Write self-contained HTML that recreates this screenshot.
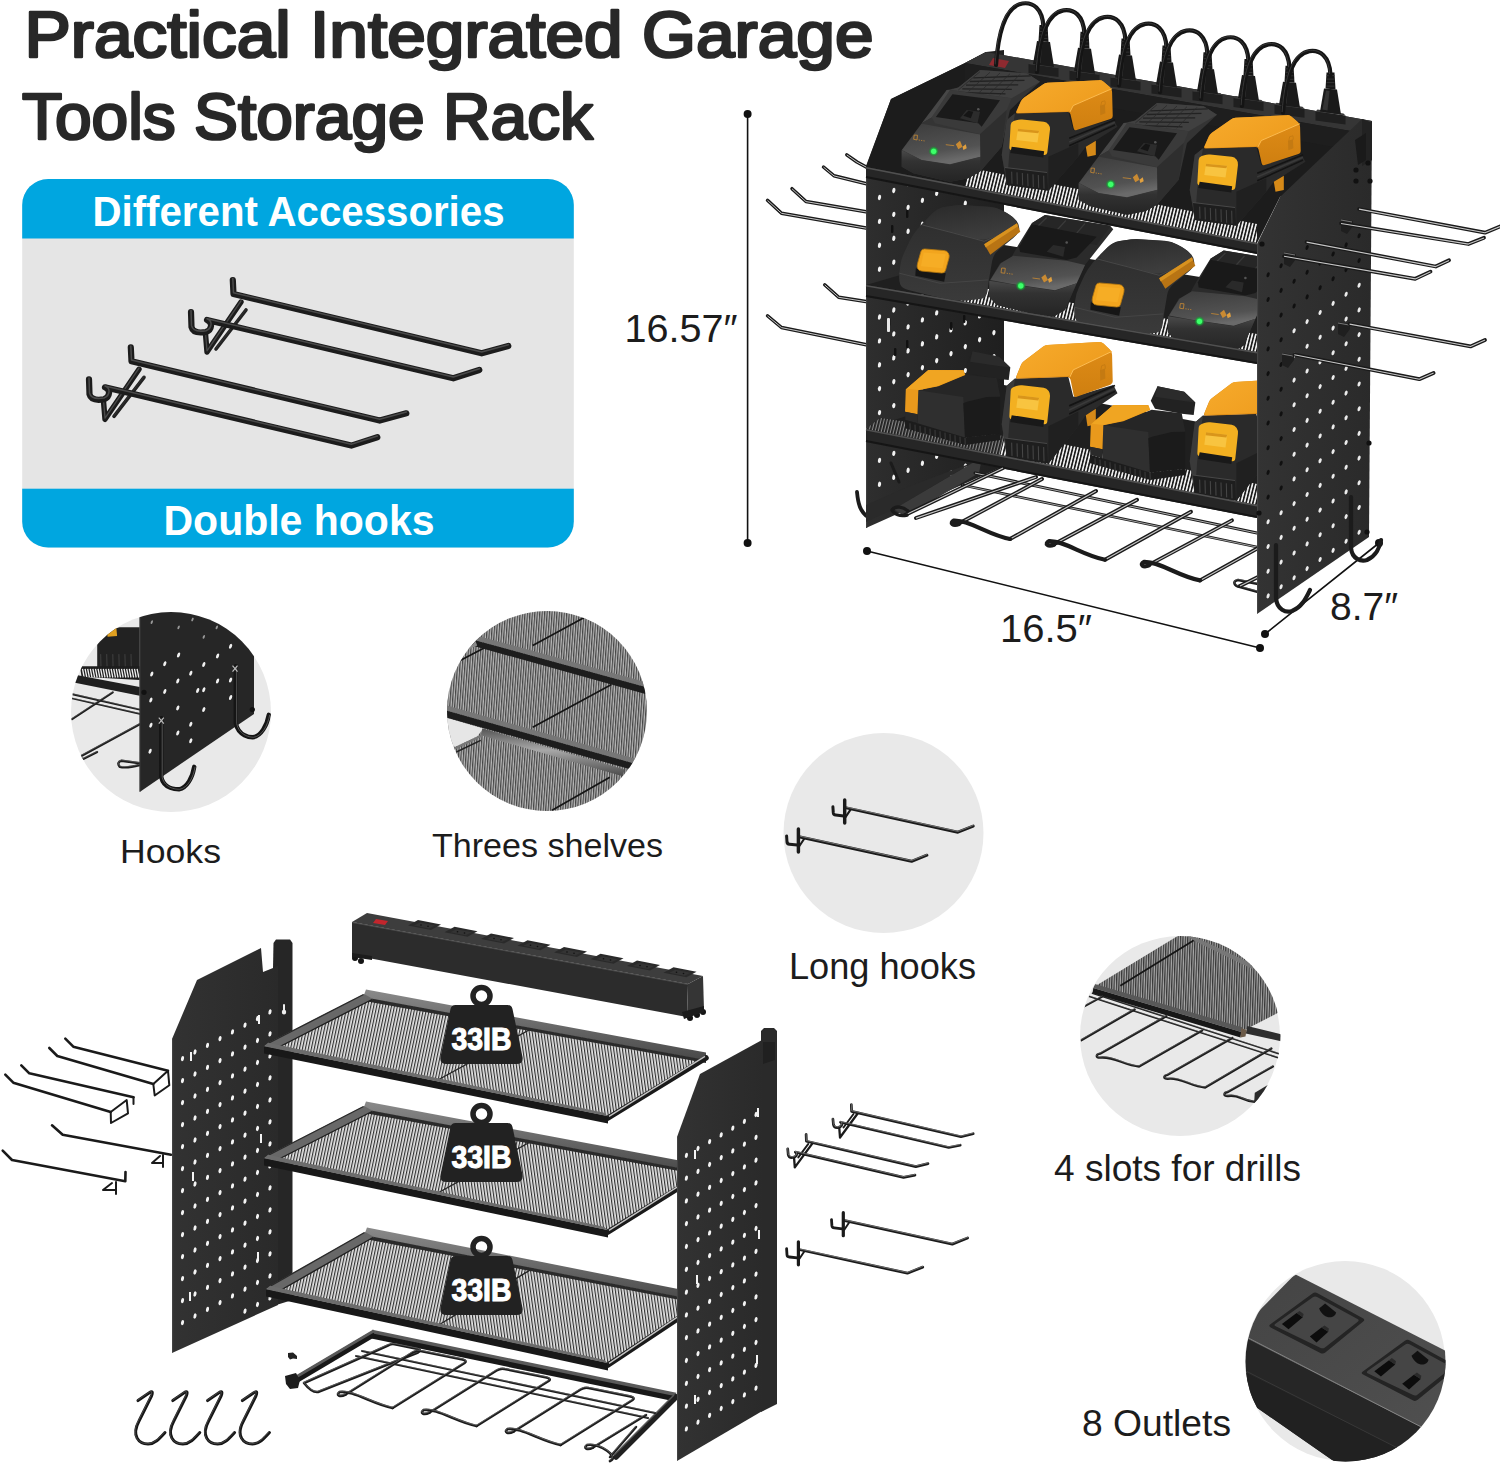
<!DOCTYPE html>
<html><head><meta charset="utf-8"><title>Practical Integrated Garage Tools Storage Rack</title>
<style>
html,body{margin:0;padding:0;background:#fff;}
body{width:1500px;height:1464px;overflow:hidden;font-family:"Liberation Sans",sans-serif;}
svg{display:block;font-family:"Liberation Sans",sans-serif;}
</style></head><body>
<svg width="1500" height="1464" viewBox="0 0 1500 1464">
<defs>

<clipPath id="c1"><circle cx="171" cy="712" r="100"/></clipPath>
<clipPath id="c2"><circle cx="547" cy="711" r="100"/></clipPath>
<clipPath id="c3"><circle cx="883.5" cy="833" r="100"/></clipPath>
<clipPath id="c4"><circle cx="1180.5" cy="1036" r="100"/></clipPath>
<clipPath id="c5"><circle cx="1345.5" cy="1361.5" r="100"/></clipPath>
<pattern id="meshC2" width="2.45" height="10" patternUnits="userSpaceOnUse" patternTransform="rotate(4)"><rect width="2.45" height="10" fill="#b8b8b8"/><rect width="1.2" height="10" fill="#454545"/></pattern>
<pattern id="meshC4" width="2.4" height="10" patternUnits="userSpaceOnUse" patternTransform="rotate(2)"><rect width="2.4" height="10" fill="#a8a8a8"/><rect width="1.25" height="10" fill="#383838"/></pattern>
<linearGradient id="gRod" x1="0" y1="0" x2="0" y2="1"><stop offset="0" stop-color="#555"/><stop offset="0.45" stop-color="#a8a8a8"/><stop offset="1" stop-color="#4a4a4a"/></linearGradient>
<linearGradient id="gStripTop" x1="0" y1="0" x2="1" y2="1"><stop offset="0" stop-color="#444"/><stop offset="1" stop-color="#505050"/></linearGradient>


<pattern id="meshE" width="2.9" height="10" patternUnits="userSpaceOnUse"><rect width="2.9" height="10" fill="#e4e4e4"/><rect width="1.15" height="10" fill="#303030"/></pattern>
<pattern id="meshEL" width="2.9" height="10" patternUnits="userSpaceOnUse" patternTransform="rotate(12)"><rect width="2.9" height="10" fill="#e4e4e4"/><rect width="1.15" height="10" fill="#303030"/></pattern>
<pattern id="meshER" width="2.9" height="10" patternUnits="userSpaceOnUse" patternTransform="rotate(-8)"><rect width="2.9" height="10" fill="#e4e4e4"/><rect width="1.15" height="10" fill="#303030"/></pattern>
<linearGradient id="gPE" x1="0" y1="0" x2="1" y2="0"><stop offset="0" stop-color="#323232"/><stop offset="1" stop-color="#2a2a2a"/></linearGradient>
<linearGradient id="gLip" x1="0" y1="0" x2="0" y2="1"><stop offset="0" stop-color="#8a8a8a"/><stop offset="1" stop-color="#484848"/></linearGradient>


<linearGradient id="gNose" x1="0" y1="0" x2="0.3" y2="1"><stop offset="0" stop-color="#3c3c3c"/><stop offset="0.75" stop-color="#525252"/><stop offset="1" stop-color="#6a6a6a"/></linearGradient>
<linearGradient id="gNoseF" x1="0" y1="0" x2="0" y2="1"><stop offset="0" stop-color="#4a4a4a"/><stop offset="0.35" stop-color="#323232"/><stop offset="1" stop-color="#242424"/></linearGradient>
<linearGradient id="gYelTop" x1="0" y1="0" x2="1" y2="0.6"><stop offset="0" stop-color="#f7ab2c"/><stop offset="1" stop-color="#ee9c1e"/></linearGradient>
<linearGradient id="gYelSide" x1="0" y1="0" x2="0" y2="1"><stop offset="0" stop-color="#e08d17"/><stop offset="1" stop-color="#cf7f10"/></linearGradient>
<linearGradient id="gBody" x1="0" y1="0" x2="0" y2="1"><stop offset="0" stop-color="#2c2c2c"/><stop offset="1" stop-color="#3a3a3a"/></linearGradient>
<linearGradient id="gDome" x1="0" y1="0" x2="0.4" y2="1"><stop offset="0" stop-color="#2a2a2a"/><stop offset="1" stop-color="#3d3d3d"/></linearGradient>
<radialGradient id="gLed"><stop offset="0" stop-color="#7dffa0"/><stop offset="0.45" stop-color="#1fe04a"/><stop offset="1" stop-color="#0a8a25" stop-opacity="0.2"/></radialGradient>


<pattern id="mesh" width="3.3" height="10" patternUnits="userSpaceOnUse" patternTransform="rotate(14)"><rect width="3.3" height="10" fill="#f4f4f4"/><rect width="1.7" height="10" fill="#1d1d1d"/></pattern>
<pattern id="meshD" width="3" height="10" patternUnits="userSpaceOnUse" patternTransform="rotate(14)"><rect width="3" height="10" fill="#8a8a8a"/><rect width="1.8" height="10" fill="#1d1d1d"/></pattern>
<linearGradient id="gPanelR" x1="0" y1="0" x2="1" y2="0"><stop offset="0" stop-color="#333"/><stop offset="1" stop-color="#2a2a2a"/></linearGradient>
<linearGradient id="gPanelL" x1="0" y1="0" x2="1" y2="0"><stop offset="0" stop-color="#2e2e2e"/><stop offset="1" stop-color="#1f1f1f"/></linearGradient>
<linearGradient id="gRail" x1="0" y1="0" x2="0" y2="1"><stop offset="0" stop-color="#4a4a4a"/><stop offset="0.25" stop-color="#2c2c2c"/><stop offset="1" stop-color="#1c1c1c"/></linearGradient>

</defs>
<rect width="1500" height="1464" fill="#ffffff"/>
<text x="24.5" y="57.2" font-size="65.5" font-weight="normal" fill="#282828" text-anchor="start" textLength="849" lengthAdjust="spacingAndGlyphs" stroke="#282828" stroke-width="2.7" stroke-linejoin="round">Practical Integrated Garage</text>
<text x="22" y="138.8" font-size="65.5" font-weight="normal" fill="#282828" text-anchor="start" textLength="571" lengthAdjust="spacingAndGlyphs" stroke="#282828" stroke-width="2.7" stroke-linejoin="round">Tools Storage Rack</text>
<clipPath id="boxclip"><rect x="22.2" y="179" width="551.6" height="368.6" rx="26" ry="26"/></clipPath>
<g clip-path="url(#boxclip)">
<rect x="22" y="178" width="552" height="370" fill="#e5e5e5"/>
<rect x="22" y="178" width="552" height="60.5" fill="#00a6e0"/>
<rect x="22" y="488.7" width="552" height="60" fill="#00a6e0"/>
</g>
<text x="92.5" y="226.2" font-size="42.5" font-weight="bold" fill="#ffffff" text-anchor="start" textLength="412" lengthAdjust="spacingAndGlyphs" >Different Accessories</text>
<text x="163.5" y="535.3" font-size="43" font-weight="bold" fill="#ffffff" text-anchor="start" textLength="271" lengthAdjust="spacingAndGlyphs" >Double hooks</text>
<circle cx="171" cy="712" r="100" fill="#e9e9e9"/>
<circle cx="547" cy="711" r="100" fill="#e9e9e9"/>
<circle cx="883.5" cy="833" r="100" fill="#e9e9e9"/>
<circle cx="1180" cy="1036" r="100" fill="#e9e9e9"/>
<circle cx="1345" cy="1361" r="100" fill="#e9e9e9"/>
<text x="120" y="863" font-size="33" font-weight="normal" fill="#1c1c1c" text-anchor="start" textLength="101" lengthAdjust="spacingAndGlyphs" >Hooks</text>
<text x="432" y="857" font-size="34" font-weight="normal" fill="#1c1c1c" text-anchor="start" textLength="231" lengthAdjust="spacingAndGlyphs" >Threes shelves</text>
<text x="789" y="979" font-size="36" font-weight="normal" fill="#1c1c1c" text-anchor="start" textLength="187" lengthAdjust="spacingAndGlyphs" >Long hooks</text>
<text x="1054" y="1181" font-size="36" font-weight="normal" fill="#1c1c1c" text-anchor="start" textLength="247" lengthAdjust="spacingAndGlyphs" >4 slots for drills</text>
<text x="1082" y="1436" font-size="36" font-weight="normal" fill="#1c1c1c" text-anchor="start" textLength="149" lengthAdjust="spacingAndGlyphs" >8 Outlets</text>
<line x1="747.6" y1="114" x2="747.6" y2="543" stroke="#111" stroke-width="1.6" stroke-linecap="round" />
<circle cx="747.6" cy="114" r="4" fill="#111"/><circle cx="747.6" cy="543" r="4" fill="#111"/>
<line x1="867" y1="551" x2="1260" y2="648" stroke="#111" stroke-width="1.6" stroke-linecap="round" />
<circle cx="867" cy="551" r="4" fill="#111"/><circle cx="1260" cy="648" r="4" fill="#111"/>
<line x1="1265" y1="634" x2="1379" y2="543" stroke="#111" stroke-width="1.6" stroke-linecap="round" />
<circle cx="1265" cy="634" r="4" fill="#111"/><circle cx="1379" cy="543" r="4" fill="#111"/>
<text x="624.5" y="342.3" font-size="38" font-weight="normal" fill="#1c1c1c" text-anchor="start" textLength="113" lengthAdjust="spacingAndGlyphs" >16.57″</text>
<text x="1000" y="642" font-size="38" font-weight="normal" fill="#1c1c1c" text-anchor="start" textLength="92" lengthAdjust="spacingAndGlyphs" >16.5″</text>
<text x="1330" y="620" font-size="38" font-weight="normal" fill="#1c1c1c" text-anchor="start" textLength="68" lengthAdjust="spacingAndGlyphs" >8.7″</text>
<g id="sec_20rack"><path d="M867.5 167.7 L857 162 L846.8 154.8" stroke="#1a1a1a" stroke-width="3.45" fill="none" stroke-linecap="round" stroke-linejoin="round"/><path d="M867.5 167.7 L857 162 L846.8 154.8" stroke="#c6c6c6" stroke-width="1.00" fill="none" stroke-linecap="butt" stroke-linejoin="round" transform="translate(0,0.1)"/><path d="M867.5 184 L834 175.8 L823.5 167" stroke="#1a1a1a" stroke-width="3.45" fill="none" stroke-linecap="round" stroke-linejoin="round"/><path d="M867.5 184 L834 175.8 L823.5 167" stroke="#c6c6c6" stroke-width="1.00" fill="none" stroke-linecap="butt" stroke-linejoin="round" transform="translate(0,0.1)"/><path d="M867.5 212 L806 201.5 L792 188.7" stroke="#1a1a1a" stroke-width="3.45" fill="none" stroke-linecap="round" stroke-linejoin="round"/><path d="M867.5 212 L806 201.5 L792 188.7" stroke="#c6c6c6" stroke-width="1.00" fill="none" stroke-linecap="butt" stroke-linejoin="round" transform="translate(0,0.1)"/><path d="M867.5 228.3 L781.5 213.2 L767.5 200.3" stroke="#1a1a1a" stroke-width="3.45" fill="none" stroke-linecap="round" stroke-linejoin="round"/><path d="M867.5 228.3 L781.5 213.2 L767.5 200.3" stroke="#c6c6c6" stroke-width="1.00" fill="none" stroke-linecap="butt" stroke-linejoin="round" transform="translate(0,0.1)"/><path d="M867.5 301.8 L838.7 297.2 L824.7 284.8" stroke="#1a1a1a" stroke-width="3.45" fill="none" stroke-linecap="round" stroke-linejoin="round"/><path d="M867.5 301.8 L838.7 297.2 L824.7 284.8" stroke="#c6c6c6" stroke-width="1.00" fill="none" stroke-linecap="butt" stroke-linejoin="round" transform="translate(0,0.1)"/><path d="M867.5 345 L781.5 327.5 L767.5 315.8" stroke="#1a1a1a" stroke-width="3.45" fill="none" stroke-linecap="round" stroke-linejoin="round"/><path d="M867.5 345 L781.5 327.5 L767.5 315.8" stroke="#c6c6c6" stroke-width="1.00" fill="none" stroke-linecap="butt" stroke-linejoin="round" transform="translate(0,0.1)"/><polygon points="866,166 891,99 965,63 986,52 1004,50 1004,466 866,528" fill="url(#gPanelL)" /><line x1="866.6" y1="166" x2="866.6" y2="528" stroke="#3d3d3d" stroke-width="1.2" stroke-linecap="butt" /><ellipse cx="879.5" cy="508.2" rx="1.6" ry="2.7" fill="#f2f2f2" transform="rotate(12 879.5 508.2)"/><ellipse cx="879.5" cy="484.3" rx="1.6" ry="2.7" fill="#f2f2f2" transform="rotate(12 879.5 484.3)"/><ellipse cx="893.8" cy="501.2" rx="1.6" ry="2.7" fill="#f2f2f2" transform="rotate(12 893.8 501.2)"/><ellipse cx="879.5" cy="460.4" rx="1.6" ry="2.7" fill="#f2f2f2" transform="rotate(12 879.5 460.4)"/><ellipse cx="893.8" cy="477.3" rx="1.6" ry="2.7" fill="#f2f2f2" transform="rotate(12 893.8 477.3)"/><ellipse cx="908.1" cy="494.2" rx="1.6" ry="2.7" fill="#f2f2f2" transform="rotate(12 908.1 494.2)"/><ellipse cx="879.5" cy="436.5" rx="1.6" ry="2.7" fill="#f2f2f2" transform="rotate(12 879.5 436.5)"/><ellipse cx="893.8" cy="453.4" rx="1.6" ry="2.7" fill="#f2f2f2" transform="rotate(12 893.8 453.4)"/><ellipse cx="908.1" cy="470.3" rx="1.6" ry="2.7" fill="#f2f2f2" transform="rotate(12 908.1 470.3)"/><ellipse cx="922.4" cy="487.2" rx="1.6" ry="2.7" fill="#f2f2f2" transform="rotate(12 922.4 487.2)"/><ellipse cx="879.5" cy="412.6" rx="1.6" ry="2.7" fill="#f2f2f2" transform="rotate(12 879.5 412.6)"/><ellipse cx="893.8" cy="429.5" rx="1.6" ry="2.7" fill="#f2f2f2" transform="rotate(12 893.8 429.5)"/><ellipse cx="908.1" cy="446.4" rx="1.6" ry="2.7" fill="#f2f2f2" transform="rotate(12 908.1 446.4)"/><ellipse cx="922.4" cy="463.3" rx="1.6" ry="2.7" fill="#f2f2f2" transform="rotate(12 922.4 463.3)"/><ellipse cx="936.7" cy="480.2" rx="1.6" ry="2.7" fill="#f2f2f2" transform="rotate(12 936.7 480.2)"/><ellipse cx="879.5" cy="388.7" rx="1.6" ry="2.7" fill="#f2f2f2" transform="rotate(12 879.5 388.7)"/><ellipse cx="893.8" cy="405.6" rx="1.6" ry="2.7" fill="#f2f2f2" transform="rotate(12 893.8 405.6)"/><ellipse cx="908.1" cy="422.5" rx="1.6" ry="2.7" fill="#f2f2f2" transform="rotate(12 908.1 422.5)"/><ellipse cx="922.4" cy="439.4" rx="1.6" ry="2.7" fill="#f2f2f2" transform="rotate(12 922.4 439.4)"/><ellipse cx="936.7" cy="456.3" rx="1.6" ry="2.7" fill="#f2f2f2" transform="rotate(12 936.7 456.3)"/><ellipse cx="951.0" cy="473.2" rx="1.6" ry="2.7" fill="#f2f2f2" transform="rotate(12 951.0 473.2)"/><ellipse cx="879.5" cy="364.8" rx="1.6" ry="2.7" fill="#f2f2f2" transform="rotate(12 879.5 364.8)"/><ellipse cx="893.8" cy="381.7" rx="1.6" ry="2.7" fill="#f2f2f2" transform="rotate(12 893.8 381.7)"/><ellipse cx="908.1" cy="398.6" rx="1.6" ry="2.7" fill="#f2f2f2" transform="rotate(12 908.1 398.6)"/><ellipse cx="922.4" cy="415.5" rx="1.6" ry="2.7" fill="#f2f2f2" transform="rotate(12 922.4 415.5)"/><ellipse cx="936.7" cy="432.4" rx="1.6" ry="2.7" fill="#f2f2f2" transform="rotate(12 936.7 432.4)"/><ellipse cx="951.0" cy="449.3" rx="1.6" ry="2.7" fill="#f2f2f2" transform="rotate(12 951.0 449.3)"/><ellipse cx="965.3" cy="466.2" rx="1.6" ry="2.7" fill="#f2f2f2" transform="rotate(12 965.3 466.2)"/><ellipse cx="879.5" cy="340.9" rx="1.6" ry="2.7" fill="#f2f2f2" transform="rotate(12 879.5 340.9)"/><ellipse cx="893.8" cy="357.8" rx="1.6" ry="2.7" fill="#f2f2f2" transform="rotate(12 893.8 357.8)"/><ellipse cx="908.1" cy="374.7" rx="1.6" ry="2.7" fill="#f2f2f2" transform="rotate(12 908.1 374.7)"/><ellipse cx="922.4" cy="391.6" rx="1.6" ry="2.7" fill="#f2f2f2" transform="rotate(12 922.4 391.6)"/><ellipse cx="936.7" cy="408.5" rx="1.6" ry="2.7" fill="#f2f2f2" transform="rotate(12 936.7 408.5)"/><ellipse cx="951.0" cy="425.4" rx="1.6" ry="2.7" fill="#f2f2f2" transform="rotate(12 951.0 425.4)"/><ellipse cx="965.3" cy="442.3" rx="1.6" ry="2.7" fill="#f2f2f2" transform="rotate(12 965.3 442.3)"/><ellipse cx="979.6" cy="459.2" rx="1.6" ry="2.7" fill="#f2f2f2" transform="rotate(12 979.6 459.2)"/><ellipse cx="879.5" cy="317.0" rx="1.6" ry="2.7" fill="#f2f2f2" transform="rotate(12 879.5 317.0)"/><ellipse cx="893.8" cy="333.9" rx="1.6" ry="2.7" fill="#f2f2f2" transform="rotate(12 893.8 333.9)"/><ellipse cx="908.1" cy="350.8" rx="1.6" ry="2.7" fill="#f2f2f2" transform="rotate(12 908.1 350.8)"/><ellipse cx="922.4" cy="367.7" rx="1.6" ry="2.7" fill="#f2f2f2" transform="rotate(12 922.4 367.7)"/><ellipse cx="936.7" cy="384.6" rx="1.6" ry="2.7" fill="#f2f2f2" transform="rotate(12 936.7 384.6)"/><ellipse cx="951.0" cy="401.5" rx="1.6" ry="2.7" fill="#f2f2f2" transform="rotate(12 951.0 401.5)"/><ellipse cx="965.3" cy="418.4" rx="1.6" ry="2.7" fill="#f2f2f2" transform="rotate(12 965.3 418.4)"/><ellipse cx="979.6" cy="435.3" rx="1.6" ry="2.7" fill="#f2f2f2" transform="rotate(12 979.6 435.3)"/><ellipse cx="993.9" cy="452.2" rx="1.6" ry="2.7" fill="#f2f2f2" transform="rotate(12 993.9 452.2)"/><ellipse cx="879.5" cy="293.1" rx="1.6" ry="2.7" fill="#f2f2f2" transform="rotate(12 879.5 293.1)"/><ellipse cx="893.8" cy="310.0" rx="1.6" ry="2.7" fill="#f2f2f2" transform="rotate(12 893.8 310.0)"/><ellipse cx="908.1" cy="326.9" rx="1.6" ry="2.7" fill="#f2f2f2" transform="rotate(12 908.1 326.9)"/><ellipse cx="922.4" cy="343.8" rx="1.6" ry="2.7" fill="#f2f2f2" transform="rotate(12 922.4 343.8)"/><ellipse cx="936.7" cy="360.7" rx="1.6" ry="2.7" fill="#f2f2f2" transform="rotate(12 936.7 360.7)"/><ellipse cx="951.0" cy="377.6" rx="1.6" ry="2.7" fill="#f2f2f2" transform="rotate(12 951.0 377.6)"/><ellipse cx="965.3" cy="394.5" rx="1.6" ry="2.7" fill="#f2f2f2" transform="rotate(12 965.3 394.5)"/><ellipse cx="979.6" cy="411.4" rx="1.6" ry="2.7" fill="#f2f2f2" transform="rotate(12 979.6 411.4)"/><ellipse cx="993.9" cy="428.3" rx="1.6" ry="2.7" fill="#f2f2f2" transform="rotate(12 993.9 428.3)"/><ellipse cx="879.5" cy="269.2" rx="1.6" ry="2.7" fill="#f2f2f2" transform="rotate(12 879.5 269.2)"/><ellipse cx="893.8" cy="286.1" rx="1.6" ry="2.7" fill="#f2f2f2" transform="rotate(12 893.8 286.1)"/><ellipse cx="908.1" cy="303.0" rx="1.6" ry="2.7" fill="#f2f2f2" transform="rotate(12 908.1 303.0)"/><ellipse cx="922.4" cy="319.9" rx="1.6" ry="2.7" fill="#f2f2f2" transform="rotate(12 922.4 319.9)"/><ellipse cx="936.7" cy="336.8" rx="1.6" ry="2.7" fill="#f2f2f2" transform="rotate(12 936.7 336.8)"/><ellipse cx="951.0" cy="353.7" rx="1.6" ry="2.7" fill="#f2f2f2" transform="rotate(12 951.0 353.7)"/><ellipse cx="965.3" cy="370.6" rx="1.6" ry="2.7" fill="#f2f2f2" transform="rotate(12 965.3 370.6)"/><ellipse cx="979.6" cy="387.5" rx="1.6" ry="2.7" fill="#f2f2f2" transform="rotate(12 979.6 387.5)"/><ellipse cx="993.9" cy="404.4" rx="1.6" ry="2.7" fill="#f2f2f2" transform="rotate(12 993.9 404.4)"/><ellipse cx="879.5" cy="245.3" rx="1.6" ry="2.7" fill="#f2f2f2" transform="rotate(12 879.5 245.3)"/><ellipse cx="893.8" cy="262.2" rx="1.6" ry="2.7" fill="#f2f2f2" transform="rotate(12 893.8 262.2)"/><ellipse cx="908.1" cy="279.1" rx="1.6" ry="2.7" fill="#f2f2f2" transform="rotate(12 908.1 279.1)"/><ellipse cx="922.4" cy="296.0" rx="1.6" ry="2.7" fill="#f2f2f2" transform="rotate(12 922.4 296.0)"/><ellipse cx="936.7" cy="312.9" rx="1.6" ry="2.7" fill="#f2f2f2" transform="rotate(12 936.7 312.9)"/><ellipse cx="951.0" cy="329.8" rx="1.6" ry="2.7" fill="#f2f2f2" transform="rotate(12 951.0 329.8)"/><ellipse cx="965.3" cy="346.7" rx="1.6" ry="2.7" fill="#f2f2f2" transform="rotate(12 965.3 346.7)"/><ellipse cx="979.6" cy="363.6" rx="1.6" ry="2.7" fill="#f2f2f2" transform="rotate(12 979.6 363.6)"/><ellipse cx="993.9" cy="380.5" rx="1.6" ry="2.7" fill="#f2f2f2" transform="rotate(12 993.9 380.5)"/><ellipse cx="879.5" cy="221.4" rx="1.6" ry="2.7" fill="#f2f2f2" transform="rotate(12 879.5 221.4)"/><ellipse cx="893.8" cy="238.3" rx="1.6" ry="2.7" fill="#f2f2f2" transform="rotate(12 893.8 238.3)"/><ellipse cx="908.1" cy="255.2" rx="1.6" ry="2.7" fill="#f2f2f2" transform="rotate(12 908.1 255.2)"/><ellipse cx="922.4" cy="272.1" rx="1.6" ry="2.7" fill="#f2f2f2" transform="rotate(12 922.4 272.1)"/><ellipse cx="936.7" cy="289.0" rx="1.6" ry="2.7" fill="#f2f2f2" transform="rotate(12 936.7 289.0)"/><ellipse cx="951.0" cy="305.9" rx="1.6" ry="2.7" fill="#f2f2f2" transform="rotate(12 951.0 305.9)"/><ellipse cx="965.3" cy="322.8" rx="1.6" ry="2.7" fill="#f2f2f2" transform="rotate(12 965.3 322.8)"/><ellipse cx="979.6" cy="339.7" rx="1.6" ry="2.7" fill="#f2f2f2" transform="rotate(12 979.6 339.7)"/><ellipse cx="993.9" cy="356.6" rx="1.6" ry="2.7" fill="#f2f2f2" transform="rotate(12 993.9 356.6)"/><ellipse cx="879.5" cy="197.5" rx="1.6" ry="2.7" fill="#f2f2f2" transform="rotate(12 879.5 197.5)"/><ellipse cx="893.8" cy="214.4" rx="1.6" ry="2.7" fill="#f2f2f2" transform="rotate(12 893.8 214.4)"/><ellipse cx="908.1" cy="231.3" rx="1.6" ry="2.7" fill="#f2f2f2" transform="rotate(12 908.1 231.3)"/><ellipse cx="922.4" cy="248.2" rx="1.6" ry="2.7" fill="#f2f2f2" transform="rotate(12 922.4 248.2)"/><ellipse cx="936.7" cy="265.1" rx="1.6" ry="2.7" fill="#f2f2f2" transform="rotate(12 936.7 265.1)"/><ellipse cx="951.0" cy="282.0" rx="1.6" ry="2.7" fill="#f2f2f2" transform="rotate(12 951.0 282.0)"/><ellipse cx="965.3" cy="298.9" rx="1.6" ry="2.7" fill="#f2f2f2" transform="rotate(12 965.3 298.9)"/><ellipse cx="979.6" cy="315.8" rx="1.6" ry="2.7" fill="#f2f2f2" transform="rotate(12 979.6 315.8)"/><ellipse cx="993.9" cy="332.7" rx="1.6" ry="2.7" fill="#f2f2f2" transform="rotate(12 993.9 332.7)"/><ellipse cx="893.8" cy="190.5" rx="1.6" ry="2.7" fill="#f2f2f2" transform="rotate(12 893.8 190.5)"/><ellipse cx="908.1" cy="207.4" rx="1.6" ry="2.7" fill="#f2f2f2" transform="rotate(12 908.1 207.4)"/><ellipse cx="922.4" cy="224.3" rx="1.6" ry="2.7" fill="#f2f2f2" transform="rotate(12 922.4 224.3)"/><ellipse cx="936.7" cy="241.2" rx="1.6" ry="2.7" fill="#f2f2f2" transform="rotate(12 936.7 241.2)"/><ellipse cx="951.0" cy="258.1" rx="1.6" ry="2.7" fill="#f2f2f2" transform="rotate(12 951.0 258.1)"/><ellipse cx="965.3" cy="275.0" rx="1.6" ry="2.7" fill="#f2f2f2" transform="rotate(12 965.3 275.0)"/><ellipse cx="979.6" cy="291.9" rx="1.6" ry="2.7" fill="#f2f2f2" transform="rotate(12 979.6 291.9)"/><ellipse cx="993.9" cy="308.8" rx="1.6" ry="2.7" fill="#f2f2f2" transform="rotate(12 993.9 308.8)"/><ellipse cx="908.1" cy="183.5" rx="1.6" ry="2.7" fill="#f2f2f2" transform="rotate(12 908.1 183.5)"/><ellipse cx="922.4" cy="200.4" rx="1.6" ry="2.7" fill="#f2f2f2" transform="rotate(12 922.4 200.4)"/><ellipse cx="936.7" cy="217.3" rx="1.6" ry="2.7" fill="#f2f2f2" transform="rotate(12 936.7 217.3)"/><ellipse cx="951.0" cy="234.2" rx="1.6" ry="2.7" fill="#f2f2f2" transform="rotate(12 951.0 234.2)"/><ellipse cx="965.3" cy="251.1" rx="1.6" ry="2.7" fill="#f2f2f2" transform="rotate(12 965.3 251.1)"/><ellipse cx="979.6" cy="268.0" rx="1.6" ry="2.7" fill="#f2f2f2" transform="rotate(12 979.6 268.0)"/><ellipse cx="993.9" cy="284.9" rx="1.6" ry="2.7" fill="#f2f2f2" transform="rotate(12 993.9 284.9)"/><ellipse cx="936.7" cy="193.4" rx="1.6" ry="2.7" fill="#f2f2f2" transform="rotate(12 936.7 193.4)"/><ellipse cx="951.0" cy="210.3" rx="1.6" ry="2.7" fill="#f2f2f2" transform="rotate(12 951.0 210.3)"/><ellipse cx="965.3" cy="227.2" rx="1.6" ry="2.7" fill="#f2f2f2" transform="rotate(12 965.3 227.2)"/><ellipse cx="979.6" cy="244.1" rx="1.6" ry="2.7" fill="#f2f2f2" transform="rotate(12 979.6 244.1)"/><ellipse cx="993.9" cy="261.0" rx="1.6" ry="2.7" fill="#f2f2f2" transform="rotate(12 993.9 261.0)"/><ellipse cx="951.0" cy="186.4" rx="1.6" ry="2.7" fill="#f2f2f2" transform="rotate(12 951.0 186.4)"/><ellipse cx="965.3" cy="203.3" rx="1.6" ry="2.7" fill="#f2f2f2" transform="rotate(12 965.3 203.3)"/><ellipse cx="979.6" cy="220.2" rx="1.6" ry="2.7" fill="#f2f2f2" transform="rotate(12 979.6 220.2)"/><ellipse cx="993.9" cy="237.1" rx="1.6" ry="2.7" fill="#f2f2f2" transform="rotate(12 993.9 237.1)"/><ellipse cx="965.3" cy="179.4" rx="1.6" ry="2.7" fill="#f2f2f2" transform="rotate(12 965.3 179.4)"/><ellipse cx="979.6" cy="196.3" rx="1.6" ry="2.7" fill="#f2f2f2" transform="rotate(12 979.6 196.3)"/><ellipse cx="993.9" cy="213.2" rx="1.6" ry="2.7" fill="#f2f2f2" transform="rotate(12 993.9 213.2)"/><ellipse cx="993.9" cy="189.3" rx="1.6" ry="2.7" fill="#f2f2f2" transform="rotate(12 993.9 189.3)"/><rect x="888" y="318" width="2.4" height="8" rx="1" fill="#111"/><rect x="894" y="348" width="2.4" height="8" rx="1" fill="#111"/><rect x="906" y="340" width="2.4" height="8" rx="1" fill="#111"/><rect x="950" y="322" width="2.4" height="8" rx="1" fill="#111"/><rect x="963" y="315" width="2.4" height="8" rx="1" fill="#111"/><rect x="891" y="225" width="2.4" height="8" rx="1" fill="#111"/><rect x="906" y="210" width="2.4" height="8" rx="1" fill="#111"/><rect x="887" y="318" width="3" height="14" rx="1" fill="#e8e8e8"/><path d="M857 492 C858 503 860 512 868 517" stroke="#1b1b1b" stroke-width="3.8" fill="none" stroke-linecap="round" stroke-linejoin="round"/><path d="M891 463 L899 482" stroke="#1b1b1b" stroke-width="3.0" fill="none" stroke-linecap="round" stroke-linejoin="round"/><polygon points="894,509 973,462.5 981,463 979,473 905,517" fill="#3b3b3b" /><polygon points="866,505 905,488 973,462.5 894,509 866,522" fill="#2a2a2a" /><polygon points="891,99 965,63 986,52 1372,121 1372,160 1280,197 1257,243 866,167" fill="#1c1c1c" /><polygon points="965,63 986,52 1372,121 1362,133" fill="#353535" /><polygon points="965,63 1362,133 1362,152 965,82" fill="#1e1e1e" /><polygon points="993,58 1009,61 1005,68 989,65" fill="#8e2a30" /><polygon points="1028.5,64.0 1058.5,68.0 1058.5,77.0 1028.5,73.0" fill="#1f1f1f" /><polygon points="1028.5,64.0 1058.5,68.0 1056.5,66.0 1030.5,62.0" fill="#3a3a3a" /><polygon points="1037.0,41.0 1050.0,42.0 1054.0,67.0 1033.0,64.0" fill="#1a1a1a" /><polygon points="1039.0,43.0 1042.5,43.5 1040.5,63.0 1035.5,62.0" fill="#333" /><polygon points="1039.5,25.0 1047.5,25.0 1048.5,42.0 1038.5,41.0" fill="#161616" /><line x1="1039.5" y1="28.0" x2="1047.5" y2="28.0" stroke="#3a3a3a" stroke-width="0.8" stroke-linecap="butt" /><line x1="1039.5" y1="31.5" x2="1047.5" y2="31.5" stroke="#3a3a3a" stroke-width="0.8" stroke-linecap="butt" /><line x1="1039.5" y1="35.0" x2="1047.5" y2="35.0" stroke="#3a3a3a" stroke-width="0.8" stroke-linecap="butt" /><line x1="1039.5" y1="38.5" x2="1047.5" y2="38.5" stroke="#3a3a3a" stroke-width="0.8" stroke-linecap="butt" /><path d="M1043.5 27.0 C1042.5 8.0 1032.5 2.0 1022.5 3.5 C1006.5 6.0 998.5 29.0 996.0 65.0" stroke="#141414" stroke-width="4.2" fill="none" stroke-linecap="round"/><path d="M1043.5 27.0 C1042.5 8.0 1032.5 2.0 1022.5 3.5 C1006.5 6.0 998.5 29.0 996.0 65.0" stroke="#3c3c3c" stroke-width="0.9" fill="none" transform="translate(-0.9,-0.6)"/><polygon points="1069.5,70.8 1099.5,74.8 1099.5,83.8 1069.5,79.8" fill="#1f1f1f" /><polygon points="1069.5,70.8 1099.5,74.8 1097.5,72.8 1071.5,68.8" fill="#3a3a3a" /><polygon points="1078.0,47.8 1091.0,48.8 1095.0,73.8 1074.0,70.8" fill="#1a1a1a" /><polygon points="1080.0,49.8 1083.5,50.3 1081.5,69.8 1076.5,68.8" fill="#333" /><polygon points="1080.5,31.799999999999997 1088.5,31.799999999999997 1089.5,48.8 1079.5,47.8" fill="#161616" /><line x1="1080.5" y1="34.8" x2="1088.5" y2="34.8" stroke="#3a3a3a" stroke-width="0.8" stroke-linecap="butt" /><line x1="1080.5" y1="38.3" x2="1088.5" y2="38.3" stroke="#3a3a3a" stroke-width="0.8" stroke-linecap="butt" /><line x1="1080.5" y1="41.8" x2="1088.5" y2="41.8" stroke="#3a3a3a" stroke-width="0.8" stroke-linecap="butt" /><line x1="1080.5" y1="45.3" x2="1088.5" y2="45.3" stroke="#3a3a3a" stroke-width="0.8" stroke-linecap="butt" /><path d="M1084.5 33.8 C1083.5 14.799999999999997 1073.5 8.799999999999997 1063.5 10.299999999999997 C1047.5 12.799999999999997 1039.5 35.8 1037.0 71.8" stroke="#141414" stroke-width="4.2" fill="none" stroke-linecap="round"/><path d="M1084.5 33.8 C1083.5 14.799999999999997 1073.5 8.799999999999997 1063.5 10.299999999999997 C1047.5 12.799999999999997 1039.5 35.8 1037.0 71.8" stroke="#3c3c3c" stroke-width="0.9" fill="none" transform="translate(-0.9,-0.6)"/><polygon points="1110.5,77.6 1140.5,81.6 1140.5,90.6 1110.5,86.6" fill="#1f1f1f" /><polygon points="1110.5,77.6 1140.5,81.6 1138.5,79.6 1112.5,75.6" fill="#3a3a3a" /><polygon points="1119.0,54.6 1132.0,55.6 1136.0,80.6 1115.0,77.6" fill="#1a1a1a" /><polygon points="1121.0,56.6 1124.5,57.1 1122.5,76.6 1117.5,75.6" fill="#333" /><polygon points="1121.5,38.6 1129.5,38.6 1130.5,55.6 1120.5,54.6" fill="#161616" /><line x1="1121.5" y1="41.6" x2="1129.5" y2="41.6" stroke="#3a3a3a" stroke-width="0.8" stroke-linecap="butt" /><line x1="1121.5" y1="45.1" x2="1129.5" y2="45.1" stroke="#3a3a3a" stroke-width="0.8" stroke-linecap="butt" /><line x1="1121.5" y1="48.6" x2="1129.5" y2="48.6" stroke="#3a3a3a" stroke-width="0.8" stroke-linecap="butt" /><line x1="1121.5" y1="52.1" x2="1129.5" y2="52.1" stroke="#3a3a3a" stroke-width="0.8" stroke-linecap="butt" /><path d="M1125.5 40.6 C1124.5 21.6 1114.5 15.600000000000001 1104.5 17.1 C1088.5 19.6 1080.5 42.6 1078.0 78.6" stroke="#141414" stroke-width="4.2" fill="none" stroke-linecap="round"/><path d="M1125.5 40.6 C1124.5 21.6 1114.5 15.600000000000001 1104.5 17.1 C1088.5 19.6 1080.5 42.6 1078.0 78.6" stroke="#3c3c3c" stroke-width="0.9" fill="none" transform="translate(-0.9,-0.6)"/><polygon points="1151.5,84.4 1181.5,88.4 1181.5,97.4 1151.5,93.4" fill="#1f1f1f" /><polygon points="1151.5,84.4 1181.5,88.4 1179.5,86.4 1153.5,82.4" fill="#3a3a3a" /><polygon points="1160.0,61.4 1173.0,62.4 1177.0,87.4 1156.0,84.4" fill="#1a1a1a" /><polygon points="1162.0,63.4 1165.5,63.9 1163.5,83.4 1158.5,82.4" fill="#333" /><polygon points="1162.5,45.4 1170.5,45.4 1171.5,62.4 1161.5,61.4" fill="#161616" /><line x1="1162.5" y1="48.4" x2="1170.5" y2="48.4" stroke="#3a3a3a" stroke-width="0.8" stroke-linecap="butt" /><line x1="1162.5" y1="51.9" x2="1170.5" y2="51.9" stroke="#3a3a3a" stroke-width="0.8" stroke-linecap="butt" /><line x1="1162.5" y1="55.4" x2="1170.5" y2="55.4" stroke="#3a3a3a" stroke-width="0.8" stroke-linecap="butt" /><line x1="1162.5" y1="58.9" x2="1170.5" y2="58.9" stroke="#3a3a3a" stroke-width="0.8" stroke-linecap="butt" /><path d="M1166.5 47.4 C1165.5 28.4 1155.5 22.4 1145.5 23.9 C1129.5 26.4 1121.5 49.4 1119.0 85.4" stroke="#141414" stroke-width="4.2" fill="none" stroke-linecap="round"/><path d="M1166.5 47.4 C1165.5 28.4 1155.5 22.4 1145.5 23.9 C1129.5 26.4 1121.5 49.4 1119.0 85.4" stroke="#3c3c3c" stroke-width="0.9" fill="none" transform="translate(-0.9,-0.6)"/><polygon points="1192.5,91.2 1222.5,95.2 1222.5,104.2 1192.5,100.2" fill="#1f1f1f" /><polygon points="1192.5,91.2 1222.5,95.2 1220.5,93.2 1194.5,89.2" fill="#3a3a3a" /><polygon points="1201.0,68.2 1214.0,69.2 1218.0,94.2 1197.0,91.2" fill="#1a1a1a" /><polygon points="1203.0,70.2 1206.5,70.7 1204.5,90.2 1199.5,89.2" fill="#333" /><polygon points="1203.5,52.2 1211.5,52.2 1212.5,69.2 1202.5,68.2" fill="#161616" /><line x1="1203.5" y1="55.2" x2="1211.5" y2="55.2" stroke="#3a3a3a" stroke-width="0.8" stroke-linecap="butt" /><line x1="1203.5" y1="58.7" x2="1211.5" y2="58.7" stroke="#3a3a3a" stroke-width="0.8" stroke-linecap="butt" /><line x1="1203.5" y1="62.2" x2="1211.5" y2="62.2" stroke="#3a3a3a" stroke-width="0.8" stroke-linecap="butt" /><line x1="1203.5" y1="65.7" x2="1211.5" y2="65.7" stroke="#3a3a3a" stroke-width="0.8" stroke-linecap="butt" /><path d="M1207.5 54.2 C1206.5 35.2 1196.5 29.200000000000003 1186.5 30.700000000000003 C1170.5 33.2 1162.5 56.2 1160.0 92.2" stroke="#141414" stroke-width="4.2" fill="none" stroke-linecap="round"/><path d="M1207.5 54.2 C1206.5 35.2 1196.5 29.200000000000003 1186.5 30.700000000000003 C1170.5 33.2 1162.5 56.2 1160.0 92.2" stroke="#3c3c3c" stroke-width="0.9" fill="none" transform="translate(-0.9,-0.6)"/><polygon points="1233.5,98.0 1263.5,102.0 1263.5,111.0 1233.5,107.0" fill="#1f1f1f" /><polygon points="1233.5,98.0 1263.5,102.0 1261.5,100.0 1235.5,96.0" fill="#3a3a3a" /><polygon points="1242.0,75.0 1255.0,76.0 1259.0,101.0 1238.0,98.0" fill="#1a1a1a" /><polygon points="1244.0,77.0 1247.5,77.5 1245.5,97.0 1240.5,96.0" fill="#333" /><polygon points="1244.5,59.0 1252.5,59.0 1253.5,76.0 1243.5,75.0" fill="#161616" /><line x1="1244.5" y1="62.0" x2="1252.5" y2="62.0" stroke="#3a3a3a" stroke-width="0.8" stroke-linecap="butt" /><line x1="1244.5" y1="65.5" x2="1252.5" y2="65.5" stroke="#3a3a3a" stroke-width="0.8" stroke-linecap="butt" /><line x1="1244.5" y1="69.0" x2="1252.5" y2="69.0" stroke="#3a3a3a" stroke-width="0.8" stroke-linecap="butt" /><line x1="1244.5" y1="72.5" x2="1252.5" y2="72.5" stroke="#3a3a3a" stroke-width="0.8" stroke-linecap="butt" /><path d="M1248.5 61.0 C1247.5 42.0 1237.5 36.0 1227.5 37.5 C1211.5 40.0 1203.5 63.0 1201.0 99.0" stroke="#141414" stroke-width="4.2" fill="none" stroke-linecap="round"/><path d="M1248.5 61.0 C1247.5 42.0 1237.5 36.0 1227.5 37.5 C1211.5 40.0 1203.5 63.0 1201.0 99.0" stroke="#3c3c3c" stroke-width="0.9" fill="none" transform="translate(-0.9,-0.6)"/><polygon points="1274.5,104.8 1304.5,108.8 1304.5,117.8 1274.5,113.8" fill="#1f1f1f" /><polygon points="1274.5,104.8 1304.5,108.8 1302.5,106.8 1276.5,102.8" fill="#3a3a3a" /><polygon points="1283.0,81.8 1296.0,82.8 1300.0,107.8 1279.0,104.8" fill="#1a1a1a" /><polygon points="1285.0,83.8 1288.5,84.3 1286.5,103.8 1281.5,102.8" fill="#333" /><polygon points="1285.5,65.8 1293.5,65.8 1294.5,82.8 1284.5,81.8" fill="#161616" /><line x1="1285.5" y1="68.8" x2="1293.5" y2="68.8" stroke="#3a3a3a" stroke-width="0.8" stroke-linecap="butt" /><line x1="1285.5" y1="72.3" x2="1293.5" y2="72.3" stroke="#3a3a3a" stroke-width="0.8" stroke-linecap="butt" /><line x1="1285.5" y1="75.8" x2="1293.5" y2="75.8" stroke="#3a3a3a" stroke-width="0.8" stroke-linecap="butt" /><line x1="1285.5" y1="79.3" x2="1293.5" y2="79.3" stroke="#3a3a3a" stroke-width="0.8" stroke-linecap="butt" /><path d="M1289.5 67.8 C1288.5 48.8 1278.5 42.8 1268.5 44.3 C1252.5 46.8 1244.5 69.8 1242.0 105.8" stroke="#141414" stroke-width="4.2" fill="none" stroke-linecap="round"/><path d="M1289.5 67.8 C1288.5 48.8 1278.5 42.8 1268.5 44.3 C1252.5 46.8 1244.5 69.8 1242.0 105.8" stroke="#3c3c3c" stroke-width="0.9" fill="none" transform="translate(-0.9,-0.6)"/><polygon points="1315.5,111.6 1345.5,115.6 1345.5,124.6 1315.5,120.6" fill="#1f1f1f" /><polygon points="1315.5,111.6 1345.5,115.6 1343.5,113.6 1317.5,109.6" fill="#3a3a3a" /><polygon points="1324.0,88.6 1337.0,89.6 1341.0,114.6 1320.0,111.6" fill="#1a1a1a" /><polygon points="1326.0,90.6 1329.5,91.1 1327.5,110.6 1322.5,109.6" fill="#333" /><polygon points="1326.5,72.6 1334.5,72.6 1335.5,89.6 1325.5,88.6" fill="#161616" /><line x1="1326.5" y1="75.6" x2="1334.5" y2="75.6" stroke="#3a3a3a" stroke-width="0.8" stroke-linecap="butt" /><line x1="1326.5" y1="79.1" x2="1334.5" y2="79.1" stroke="#3a3a3a" stroke-width="0.8" stroke-linecap="butt" /><line x1="1326.5" y1="82.6" x2="1334.5" y2="82.6" stroke="#3a3a3a" stroke-width="0.8" stroke-linecap="butt" /><line x1="1326.5" y1="86.1" x2="1334.5" y2="86.1" stroke="#3a3a3a" stroke-width="0.8" stroke-linecap="butt" /><path d="M1330.5 74.6 C1329.5 55.599999999999994 1319.5 49.599999999999994 1309.5 51.099999999999994 C1293.5 53.599999999999994 1285.5 76.6 1283.0 112.6" stroke="#141414" stroke-width="4.2" fill="none" stroke-linecap="round"/><path d="M1330.5 74.6 C1329.5 55.599999999999994 1319.5 49.599999999999994 1309.5 51.099999999999994 C1293.5 53.599999999999994 1285.5 76.6 1283.0 112.6" stroke="#3c3c3c" stroke-width="0.9" fill="none" transform="translate(-0.9,-0.6)"/><polygon points="866,429 1257,505 1345,450 1004,385" fill="#1f1f1f" /><polygon points="1000,455 1257,505 1257,484 1004,432" fill="url(#mesh)" /><polygon points="866,429 1000,455 1004,436 880,418" fill="url(#meshD)" /><g><polygon points="965.8,365.8 972.5,351.3 999.2,356.7 1010.3,367.5 1008.7,380.0 996.7,378.7 970.0,373.7" fill="#222" /><polygon points="972.5,351.3 999.2,356.7 1010.3,367.5 996.7,365.8 970.0,361.7" fill="#2b2b2b" /><polygon points="917.5,430.0 918.0,390.3 938.3,385.8 966.7,374.7 996.7,378.3 1000.3,396.7 1000.3,433.7 965.0,437.5" fill="#262626" /><polygon points="918.0,390.3 963.3,397.0 965.0,437.5 917.5,430.0" fill="#2f2f2f" /><polygon points="963.3,403.3 967.0,401.7 986.7,397.0 1000.3,396.7 1000.3,433.7 965.0,437.5" fill="#1b1b1b" /><polygon points="905.0,411.7 905.8,389.2 928.3,370.0 963.3,370.0 965.3,375.0 938.3,386.3 918.3,390.3 917.5,414.2" fill="#e9991c" /><polygon points="906.7,388.7 928.3,370.0 963.3,370.5 964.7,374.7 938.3,385.8 918.3,390.0" fill="#f0a522" /><polygon points="905.0,411.7 917.5,414.2 917.5,423.3 905.3,420.0" fill="#2a2a2a" /><polygon points="905.0,420.0 917.5,423.3 965.0,437.5 1000.3,433.7 1000.7,440.0 965.3,445.0 905.0,428.3" fill="#1c1c1c" /><line x1="910.0" y1="423.3" x2="910.2" y2="430.0" stroke="#444" stroke-width="0.8" stroke-linecap="butt" /><line x1="915.0" y1="424.7" x2="915.2" y2="431.3" stroke="#444" stroke-width="0.8" stroke-linecap="butt" /><line x1="920.0" y1="426.0" x2="920.2" y2="432.7" stroke="#444" stroke-width="0.8" stroke-linecap="butt" /><line x1="925.0" y1="427.3" x2="925.2" y2="434.0" stroke="#444" stroke-width="0.8" stroke-linecap="butt" /><line x1="930.0" y1="428.7" x2="930.2" y2="435.3" stroke="#444" stroke-width="0.8" stroke-linecap="butt" /><line x1="935.0" y1="430.0" x2="935.2" y2="436.7" stroke="#444" stroke-width="0.8" stroke-linecap="butt" /><line x1="940.0" y1="431.3" x2="940.2" y2="438.0" stroke="#444" stroke-width="0.8" stroke-linecap="butt" /><line x1="945.0" y1="432.7" x2="945.2" y2="439.3" stroke="#444" stroke-width="0.8" stroke-linecap="butt" /><line x1="950.0" y1="434.0" x2="950.2" y2="440.7" stroke="#444" stroke-width="0.8" stroke-linecap="butt" /><line x1="955.0" y1="435.3" x2="955.2" y2="442.0" stroke="#444" stroke-width="0.8" stroke-linecap="butt" /><line x1="960.0" y1="436.7" x2="960.2" y2="443.3" stroke="#444" stroke-width="0.8" stroke-linecap="butt" /><line x1="965.0" y1="438.0" x2="965.2" y2="444.7" stroke="#444" stroke-width="0.8" stroke-linecap="butt" /></g><g transform="translate(0,266) translate(1012,122) scale(1,1.1) translate(-1012,-122)"><polygon points="1001.7,155.0 1006.7,120.0 1015.0,113.3 1068.3,111.7 1073.3,130.0 1113.3,119.2 1117.5,126.7 1085.8,146.7 1078.3,156.7 1048.3,190.8 1006.7,185.0" fill="#2a2a2a" /><polygon points="1048.3,156.7 1078.3,143.3 1078.3,156.7 1048.3,190.8" fill="#202020" /><polygon points="1001.7,155.0 1006.7,120.0 1015.0,113.3 1013.3,123.3 1009.2,155.0 1007.0,183.3" fill="#3a3a3a" /><polygon points="1085.8,146.7 1095.8,140.8 1095.8,155.0 1087.5,156.7" fill="#d68a18" /><path d="M1017.8 113.62 Q1015.3 113.7 1016.31 111.41 L1020.69 101.49 Q1021.7 99.2 1023.75 97.77 L1042.95 84.43 Q1045.0 83.0 1047.5 82.87 L1099.2 80.13 Q1101.7 80.0 1103.56 81.67 L1110.14 87.53 Q1112.0 89.2 1112.07 91.7 L1112.73 115.8 Q1112.8 118.3 1110.42 119.07 L1076.58 130.03 Q1074.2 130.8 1073.65 128.36 L1070.55 114.44 Q1070.0 112.0 1067.5 112.08 Z" fill="url(#gYelSide)"/><path d="M1018.3 112.92 Q1015.8 113.0 1016.82 110.72 L1020.98 101.48 Q1022.0 99.2 1024.04 97.76 L1042.96 84.44 Q1045.0 83.0 1047.5 82.87 L1099.2 80.13 Q1101.7 80.0 1103.59 81.64 L1109.81 87.06 Q1111.7 88.7 1109.41 89.69 L1075.59 104.31 Q1073.3 105.3 1072.01 107.44 L1070.99 109.16 Q1069.7 111.3 1067.2 111.38 Z" fill="url(#gYelTop)"/><path d="M1070.0 111.7 L1073.3 105.5 L1111.7 88.8" stroke="#ffbf55" stroke-width="0.9" fill="none" stroke-linecap="round" stroke-linejoin="round" /><polygon points="1100.0,105.8 1105.0,104.2 1105.3,113.3 1100.3,115.3" fill="#c47a12" /><path d="M1100.8 105.8 L1101.7 101.7 L1105.0 100.8 L1105.3 104.2" stroke="#c47a12" stroke-width="0.8" fill="none" stroke-linecap="round" stroke-linejoin="round" /><line x1="1069.2" y1="138.3" x2="1115.0" y2="119.7" stroke="#141414" stroke-width="1.6" stroke-linecap="butt" /><line x1="1069.2" y1="142.0" x2="1115.0" y2="122.3" stroke="#3a3a3a" stroke-width="1.6" stroke-linecap="butt" /><line x1="1069.2" y1="145.7" x2="1115.0" y2="125.0" stroke="#141414" stroke-width="1.6" stroke-linecap="butt" /><path d="M1010.63 125.0 Q1010.8 122.0 1013.66 121.08 L1016.34 120.22 Q1019.2 119.3 1022.19 119.59 L1043.71 121.71 Q1046.7 122.0 1048.45 124.43 L1048.55 124.57 Q1050.3 127.0 1049.95 129.98 L1047.35 152.32 Q1047.0 155.3 1044.03 154.91 L1012.17 150.69 Q1009.2 150.3 1009.37 147.3 Z" fill="#f3b021"/><polygon points="1018.0,128.7 1039.2,130.8 1037.5,142.5 1016.3,140.0" fill="#f8c440" /><polygon points="1018.0,128.7 1039.2,130.8 1038.3,133.3 1017.7,131.3" fill="#d9951a" /><polygon points="1011.7,146.7 1044.2,151.3 1043.3,157.5 1010.3,153.0" fill="#191919" /><polygon points="1005.0,167.5 1047.0,172.5 1048.0,190.5 1006.7,185.0" fill="#1e1e1e" /><line x1="1011.7" y1="171.7" x2="1012.0" y2="183.7" stroke="#4a4a4a" stroke-width="0.9" stroke-linecap="butt" /><line x1="1017.0" y1="172.3" x2="1017.3" y2="184.5" stroke="#4a4a4a" stroke-width="0.9" stroke-linecap="butt" /><line x1="1022.3" y1="173.0" x2="1022.7" y2="185.3" stroke="#4a4a4a" stroke-width="0.9" stroke-linecap="butt" /><line x1="1027.7" y1="173.7" x2="1028.0" y2="186.2" stroke="#4a4a4a" stroke-width="0.9" stroke-linecap="butt" /><line x1="1033.0" y1="174.3" x2="1033.3" y2="187.0" stroke="#4a4a4a" stroke-width="0.9" stroke-linecap="butt" /><line x1="1038.3" y1="175.0" x2="1038.7" y2="187.8" stroke="#4a4a4a" stroke-width="0.9" stroke-linecap="butt" /><line x1="1043.7" y1="175.7" x2="1044.0" y2="188.7" stroke="#4a4a4a" stroke-width="0.9" stroke-linecap="butt" /><line x1="1005.0" y1="167.5" x2="1047.0" y2="172.5" stroke="#484848" stroke-width="1" stroke-linecap="butt" /></g><g transform="translate(185,35)"><polygon points="965.8,365.8 972.5,351.3 999.2,356.7 1010.3,367.5 1008.7,380.0 996.7,378.7 970.0,373.7" fill="#222" /><polygon points="972.5,351.3 999.2,356.7 1010.3,367.5 996.7,365.8 970.0,361.7" fill="#2b2b2b" /><polygon points="917.5,430.0 918.0,390.3 938.3,385.8 966.7,374.7 996.7,378.3 1000.3,396.7 1000.3,433.7 965.0,437.5" fill="#262626" /><polygon points="918.0,390.3 963.3,397.0 965.0,437.5 917.5,430.0" fill="#2f2f2f" /><polygon points="963.3,403.3 967.0,401.7 986.7,397.0 1000.3,396.7 1000.3,433.7 965.0,437.5" fill="#1b1b1b" /><polygon points="905.0,411.7 905.8,389.2 928.3,370.0 963.3,370.0 965.3,375.0 938.3,386.3 918.3,390.3 917.5,414.2" fill="#e9991c" /><polygon points="906.7,388.7 928.3,370.0 963.3,370.5 964.7,374.7 938.3,385.8 918.3,390.0" fill="#f0a522" /><polygon points="905.0,411.7 917.5,414.2 917.5,423.3 905.3,420.0" fill="#2a2a2a" /><polygon points="905.0,420.0 917.5,423.3 965.0,437.5 1000.3,433.7 1000.7,440.0 965.3,445.0 905.0,428.3" fill="#1c1c1c" /><line x1="910.0" y1="423.3" x2="910.2" y2="430.0" stroke="#444" stroke-width="0.8" stroke-linecap="butt" /><line x1="915.0" y1="424.7" x2="915.2" y2="431.3" stroke="#444" stroke-width="0.8" stroke-linecap="butt" /><line x1="920.0" y1="426.0" x2="920.2" y2="432.7" stroke="#444" stroke-width="0.8" stroke-linecap="butt" /><line x1="925.0" y1="427.3" x2="925.2" y2="434.0" stroke="#444" stroke-width="0.8" stroke-linecap="butt" /><line x1="930.0" y1="428.7" x2="930.2" y2="435.3" stroke="#444" stroke-width="0.8" stroke-linecap="butt" /><line x1="935.0" y1="430.0" x2="935.2" y2="436.7" stroke="#444" stroke-width="0.8" stroke-linecap="butt" /><line x1="940.0" y1="431.3" x2="940.2" y2="438.0" stroke="#444" stroke-width="0.8" stroke-linecap="butt" /><line x1="945.0" y1="432.7" x2="945.2" y2="439.3" stroke="#444" stroke-width="0.8" stroke-linecap="butt" /><line x1="950.0" y1="434.0" x2="950.2" y2="440.7" stroke="#444" stroke-width="0.8" stroke-linecap="butt" /><line x1="955.0" y1="435.3" x2="955.2" y2="442.0" stroke="#444" stroke-width="0.8" stroke-linecap="butt" /><line x1="960.0" y1="436.7" x2="960.2" y2="443.3" stroke="#444" stroke-width="0.8" stroke-linecap="butt" /><line x1="965.0" y1="438.0" x2="965.2" y2="444.7" stroke="#444" stroke-width="0.8" stroke-linecap="butt" /></g><g transform="translate(188,303) translate(1012,122) scale(1,1.1) translate(-1012,-122)"><polygon points="1001.7,155.0 1006.7,120.0 1015.0,113.3 1068.3,111.7 1073.3,130.0 1113.3,119.2 1117.5,126.7 1085.8,146.7 1078.3,156.7 1048.3,190.8 1006.7,185.0" fill="#2a2a2a" /><polygon points="1048.3,156.7 1078.3,143.3 1078.3,156.7 1048.3,190.8" fill="#202020" /><polygon points="1001.7,155.0 1006.7,120.0 1015.0,113.3 1013.3,123.3 1009.2,155.0 1007.0,183.3" fill="#3a3a3a" /><polygon points="1085.8,146.7 1095.8,140.8 1095.8,155.0 1087.5,156.7" fill="#d68a18" /><path d="M1017.8 113.62 Q1015.3 113.7 1016.31 111.41 L1020.69 101.49 Q1021.7 99.2 1023.75 97.77 L1042.95 84.43 Q1045.0 83.0 1047.5 82.87 L1099.2 80.13 Q1101.7 80.0 1103.56 81.67 L1110.14 87.53 Q1112.0 89.2 1112.07 91.7 L1112.73 115.8 Q1112.8 118.3 1110.42 119.07 L1076.58 130.03 Q1074.2 130.8 1073.65 128.36 L1070.55 114.44 Q1070.0 112.0 1067.5 112.08 Z" fill="url(#gYelSide)"/><path d="M1018.3 112.92 Q1015.8 113.0 1016.82 110.72 L1020.98 101.48 Q1022.0 99.2 1024.04 97.76 L1042.96 84.44 Q1045.0 83.0 1047.5 82.87 L1099.2 80.13 Q1101.7 80.0 1103.59 81.64 L1109.81 87.06 Q1111.7 88.7 1109.41 89.69 L1075.59 104.31 Q1073.3 105.3 1072.01 107.44 L1070.99 109.16 Q1069.7 111.3 1067.2 111.38 Z" fill="url(#gYelTop)"/><path d="M1070.0 111.7 L1073.3 105.5 L1111.7 88.8" stroke="#ffbf55" stroke-width="0.9" fill="none" stroke-linecap="round" stroke-linejoin="round" /><polygon points="1100.0,105.8 1105.0,104.2 1105.3,113.3 1100.3,115.3" fill="#c47a12" /><path d="M1100.8 105.8 L1101.7 101.7 L1105.0 100.8 L1105.3 104.2" stroke="#c47a12" stroke-width="0.8" fill="none" stroke-linecap="round" stroke-linejoin="round" /><line x1="1069.2" y1="138.3" x2="1115.0" y2="119.7" stroke="#141414" stroke-width="1.6" stroke-linecap="butt" /><line x1="1069.2" y1="142.0" x2="1115.0" y2="122.3" stroke="#3a3a3a" stroke-width="1.6" stroke-linecap="butt" /><line x1="1069.2" y1="145.7" x2="1115.0" y2="125.0" stroke="#141414" stroke-width="1.6" stroke-linecap="butt" /><path d="M1010.63 125.0 Q1010.8 122.0 1013.66 121.08 L1016.34 120.22 Q1019.2 119.3 1022.19 119.59 L1043.71 121.71 Q1046.7 122.0 1048.45 124.43 L1048.55 124.57 Q1050.3 127.0 1049.95 129.98 L1047.35 152.32 Q1047.0 155.3 1044.03 154.91 L1012.17 150.69 Q1009.2 150.3 1009.37 147.3 Z" fill="#f3b021"/><polygon points="1018.0,128.7 1039.2,130.8 1037.5,142.5 1016.3,140.0" fill="#f8c440" /><polygon points="1018.0,128.7 1039.2,130.8 1038.3,133.3 1017.7,131.3" fill="#d9951a" /><polygon points="1011.7,146.7 1044.2,151.3 1043.3,157.5 1010.3,153.0" fill="#191919" /><polygon points="1005.0,167.5 1047.0,172.5 1048.0,190.5 1006.7,185.0" fill="#1e1e1e" /><line x1="1011.7" y1="171.7" x2="1012.0" y2="183.7" stroke="#4a4a4a" stroke-width="0.9" stroke-linecap="butt" /><line x1="1017.0" y1="172.3" x2="1017.3" y2="184.5" stroke="#4a4a4a" stroke-width="0.9" stroke-linecap="butt" /><line x1="1022.3" y1="173.0" x2="1022.7" y2="185.3" stroke="#4a4a4a" stroke-width="0.9" stroke-linecap="butt" /><line x1="1027.7" y1="173.7" x2="1028.0" y2="186.2" stroke="#4a4a4a" stroke-width="0.9" stroke-linecap="butt" /><line x1="1033.0" y1="174.3" x2="1033.3" y2="187.0" stroke="#4a4a4a" stroke-width="0.9" stroke-linecap="butt" /><line x1="1038.3" y1="175.0" x2="1038.7" y2="187.8" stroke="#4a4a4a" stroke-width="0.9" stroke-linecap="butt" /><line x1="1043.7" y1="175.7" x2="1044.0" y2="188.7" stroke="#4a4a4a" stroke-width="0.9" stroke-linecap="butt" /><line x1="1005.0" y1="167.5" x2="1047.0" y2="172.5" stroke="#484848" stroke-width="1" stroke-linecap="butt" /></g><polygon points="866,429 1257,505 1257,518 866,442" fill="#262626" /><line x1="866" y1="429.8" x2="1257" y2="505.8" stroke="#505050" stroke-width="1.6" stroke-linecap="butt" /><line x1="866" y1="441" x2="1257" y2="517" stroke="#151515" stroke-width="2" stroke-linecap="butt" /><polygon points="866,285 1257,352 1340,300 1004,245" fill="#1f1f1f" /><polygon points="960,301 1257,352 1257,334 965,285" fill="url(#mesh)" /><g><path d="M900.2 284.15 Q898.7 280.0 899.43 273.04 L900.07 266.96 Q900.8 260.0 903.77 253.66 L909.53 241.34 Q912.5 235.0 917.05 229.68 L917.95 228.62 Q922.5 223.3 927.45 218.35 L932.55 213.25 Q937.5 208.3 944.4 207.11 L951.4 205.89 Q958.3 204.7 965.29 205.15 L989.71 206.75 Q996.7 207.2 1002.78 210.68 L1007.22 213.22 Q1013.3 216.7 1016.5 220.85 L1016.5 220.85 Q1019.7 225.0 1019.2 229.35 L1019.2 229.35 Q1018.7 233.7 1013.25 238.1 L998.75 249.8 Q993.3 254.2 992.11 261.1 L989.49 276.4 Q988.3 283.3 987.56 290.26 L987.44 291.34 Q986.7 298.3 979.74 299.08 L966.96 300.52 Q960.0 301.3 953.1 300.09 L945.2 298.71 Q938.3 297.5 931.51 295.79 L908.49 290.01 Q901.7 288.3 900.2 284.15 Z" fill="url(#gBody)"/><path d="M930.22 226.28 Q922.5 224.2 927.99 218.38 L932.01 214.12 Q937.5 208.3 945.4 207.05 L950.4 206.25 Q958.3 205.0 966.28 205.52 L988.72 206.98 Q996.7 207.5 1003.7 211.38 L1006.3 212.82 Q1013.3 216.7 1015.8 221.25 L1015.8 221.25 Q1018.3 225.8 1010.98 229.02 L991.52 237.58 Q984.2 240.8 976.47 238.72 L961.03 234.58 Q953.3 232.5 945.58 230.42 Z" fill="url(#gDome)"/><path d="M922.5 225.0 L953.3 233.0 L984.2 241.3 L1018.3 226.3" stroke="#4a4a4a" stroke-width="0.9" fill="none" stroke-linecap="round" stroke-linejoin="round" /><polygon points="984.2,244.2 1017.0,223.3 1020.3,231.7 990.3,254.7" fill="#b87414" /><polygon points="984.2,244.2 1017.0,223.3 1018.0,226.3 985.7,247.5" fill="#d8921f" /><path d="M899.7 273.3 L940.0 283.3 L987.5 280.0" stroke="#454545" stroke-width="1" fill="none" stroke-linecap="round" stroke-linejoin="round" /><polygon points="915.8,268.3 945.8,273.3 944.2,281.7 915.3,275.8" fill="#161616" /><path d="M920.88 251.59 Q921.7 248.7 924.69 248.95 L944.01 250.55 Q947.0 250.8 948.35 253.05 L948.35 253.05 Q949.7 255.3 948.9 258.19 L945.5 270.41 Q944.7 273.3 941.71 273.01 L921.69 271.09 Q918.7 270.8 917.7 268.55 L917.7 268.55 Q916.7 266.3 917.52 263.41 Z" fill="#f2a51e" stroke="#b3760f" stroke-width="0.8"/><polygon points="923.7,252.5 945.8,254.2 942.5,268.3 920.8,266.3" fill="#f6ad25" /></g><g><polygon points="989.2,296.7 990.0,280.0 1000.0,263.3 1011.7,256.7 1018.3,245.0 1031.7,223.3 1045.0,215.0 1110.0,225.8 1113.3,229.2 1085.0,265.0 1076.7,283.3 1065.0,310.0 1053.3,316.7 1030.0,313.3 996.7,305.0" fill="#2b2b2b" /><polygon points="1031.7,223.3 1045.0,215.0 1110.8,225.8 1096.7,245.0 1063.3,238.3" fill="#262626" /><line x1="1046.7" y1="217.5" x2="1038.3" y2="225.8" stroke="#3a3a3a" stroke-width="1.2" stroke-linecap="butt" /><line x1="1065.8" y1="220.5" x2="1057.5" y2="229.5" stroke="#3a3a3a" stroke-width="1.2" stroke-linecap="butt" /><line x1="1085.0" y1="223.5" x2="1076.7" y2="233.2" stroke="#3a3a3a" stroke-width="1.2" stroke-linecap="butt" /><polygon points="1019.2,246.7 1031.7,224.2 1096.7,236.7 1076.7,257.5 1066.7,260.0 1020.0,252.0" fill="#191919" /><polygon points="1046.7,251.7 1053.3,245.0 1065.0,247.0 1063.3,256.7" fill="#2a2a2a" /><circle cx="1066.7" cy="242.5" r="1.3" fill="#555"/><polygon points="990.3,280.0 1000.8,263.3 1013.3,255.8 1066.7,260.8 1085.0,265.0 1076.7,283.3 1055.0,290.3 1013.3,284.2" fill="url(#gNose)" /><polygon points="989.2,280.8 1013.3,284.5 1055.0,290.8 1076.7,283.3 1065.0,310.0 1053.3,316.7 1030.0,313.3 996.7,305.0 989.2,296.7" fill="url(#gNoseF)" /><polygon points="1001.7,268.0 1005.3,268.3 1004.7,273.3 1001.0,272.7" fill="none" stroke="#c98a32" stroke-width="0.8" /><line x1="1006.7" y1="273.3" x2="1013.3" y2="274.3" stroke="#c98a32" stroke-width="0.8" stroke-linecap="butt" stroke-dasharray="1.2 1.2"/><polygon points="1041.3,277.5 1045.3,274.2 1048.0,280.0 1044.0,282.5" fill="#c98a32" /><polygon points="1048.0,279.2 1051.3,276.7 1052.3,281.0 1049.0,282.7" fill="#e0a040" /><line x1="1032.5" y1="278.0" x2="1040.0" y2="279.0" stroke="#c98a32" stroke-width="0.8" stroke-linecap="butt" /><circle cx="1020.8" cy="285.8" r="5" fill="url(#gLed)"/><circle cx="1020.8" cy="285.8" r="2.6" fill="#3dff6a"/></g><g transform="translate(175,34)"><path d="M900.2 284.15 Q898.7 280.0 899.43 273.04 L900.07 266.96 Q900.8 260.0 903.77 253.66 L909.53 241.34 Q912.5 235.0 917.05 229.68 L917.95 228.62 Q922.5 223.3 927.45 218.35 L932.55 213.25 Q937.5 208.3 944.4 207.11 L951.4 205.89 Q958.3 204.7 965.29 205.15 L989.71 206.75 Q996.7 207.2 1002.78 210.68 L1007.22 213.22 Q1013.3 216.7 1016.5 220.85 L1016.5 220.85 Q1019.7 225.0 1019.2 229.35 L1019.2 229.35 Q1018.7 233.7 1013.25 238.1 L998.75 249.8 Q993.3 254.2 992.11 261.1 L989.49 276.4 Q988.3 283.3 987.56 290.26 L987.44 291.34 Q986.7 298.3 979.74 299.08 L966.96 300.52 Q960.0 301.3 953.1 300.09 L945.2 298.71 Q938.3 297.5 931.51 295.79 L908.49 290.01 Q901.7 288.3 900.2 284.15 Z" fill="url(#gBody)"/><path d="M930.22 226.28 Q922.5 224.2 927.99 218.38 L932.01 214.12 Q937.5 208.3 945.4 207.05 L950.4 206.25 Q958.3 205.0 966.28 205.52 L988.72 206.98 Q996.7 207.5 1003.7 211.38 L1006.3 212.82 Q1013.3 216.7 1015.8 221.25 L1015.8 221.25 Q1018.3 225.8 1010.98 229.02 L991.52 237.58 Q984.2 240.8 976.47 238.72 L961.03 234.58 Q953.3 232.5 945.58 230.42 Z" fill="url(#gDome)"/><path d="M922.5 225.0 L953.3 233.0 L984.2 241.3 L1018.3 226.3" stroke="#4a4a4a" stroke-width="0.9" fill="none" stroke-linecap="round" stroke-linejoin="round" /><polygon points="984.2,244.2 1017.0,223.3 1020.3,231.7 990.3,254.7" fill="#b87414" /><polygon points="984.2,244.2 1017.0,223.3 1018.0,226.3 985.7,247.5" fill="#d8921f" /><path d="M899.7 273.3 L940.0 283.3 L987.5 280.0" stroke="#454545" stroke-width="1" fill="none" stroke-linecap="round" stroke-linejoin="round" /><polygon points="915.8,268.3 945.8,273.3 944.2,281.7 915.3,275.8" fill="#161616" /><path d="M920.88 251.59 Q921.7 248.7 924.69 248.95 L944.01 250.55 Q947.0 250.8 948.35 253.05 L948.35 253.05 Q949.7 255.3 948.9 258.19 L945.5 270.41 Q944.7 273.3 941.71 273.01 L921.69 271.09 Q918.7 270.8 917.7 268.55 L917.7 268.55 Q916.7 266.3 917.52 263.41 Z" fill="#f2a51e" stroke="#b3760f" stroke-width="0.8"/><polygon points="923.7,252.5 945.8,254.2 942.5,268.3 920.8,266.3" fill="#f6ad25" /></g><g transform="translate(178.7,35.5)"><polygon points="989.2,296.7 990.0,280.0 1000.0,263.3 1011.7,256.7 1018.3,245.0 1031.7,223.3 1045.0,215.0 1110.0,225.8 1113.3,229.2 1085.0,265.0 1076.7,283.3 1065.0,310.0 1053.3,316.7 1030.0,313.3 996.7,305.0" fill="#2b2b2b" /><polygon points="1031.7,223.3 1045.0,215.0 1110.8,225.8 1096.7,245.0 1063.3,238.3" fill="#262626" /><line x1="1046.7" y1="217.5" x2="1038.3" y2="225.8" stroke="#3a3a3a" stroke-width="1.2" stroke-linecap="butt" /><line x1="1065.8" y1="220.5" x2="1057.5" y2="229.5" stroke="#3a3a3a" stroke-width="1.2" stroke-linecap="butt" /><line x1="1085.0" y1="223.5" x2="1076.7" y2="233.2" stroke="#3a3a3a" stroke-width="1.2" stroke-linecap="butt" /><polygon points="1019.2,246.7 1031.7,224.2 1096.7,236.7 1076.7,257.5 1066.7,260.0 1020.0,252.0" fill="#191919" /><polygon points="1046.7,251.7 1053.3,245.0 1065.0,247.0 1063.3,256.7" fill="#2a2a2a" /><circle cx="1066.7" cy="242.5" r="1.3" fill="#555"/><polygon points="990.3,280.0 1000.8,263.3 1013.3,255.8 1066.7,260.8 1085.0,265.0 1076.7,283.3 1055.0,290.3 1013.3,284.2" fill="url(#gNose)" /><polygon points="989.2,280.8 1013.3,284.5 1055.0,290.8 1076.7,283.3 1065.0,310.0 1053.3,316.7 1030.0,313.3 996.7,305.0 989.2,296.7" fill="url(#gNoseF)" /><polygon points="1001.7,268.0 1005.3,268.3 1004.7,273.3 1001.0,272.7" fill="none" stroke="#c98a32" stroke-width="0.8" /><line x1="1006.7" y1="273.3" x2="1013.3" y2="274.3" stroke="#c98a32" stroke-width="0.8" stroke-linecap="butt" stroke-dasharray="1.2 1.2"/><polygon points="1041.3,277.5 1045.3,274.2 1048.0,280.0 1044.0,282.5" fill="#c98a32" /><polygon points="1048.0,279.2 1051.3,276.7 1052.3,281.0 1049.0,282.7" fill="#e0a040" /><line x1="1032.5" y1="278.0" x2="1040.0" y2="279.0" stroke="#c98a32" stroke-width="0.8" stroke-linecap="butt" /><circle cx="1020.8" cy="285.8" r="5" fill="url(#gLed)"/><circle cx="1020.8" cy="285.8" r="2.6" fill="#3dff6a"/></g><polygon points="866,285 1257,352 1257,364 866,297" fill="#262626" /><line x1="866" y1="285.8" x2="1257" y2="352.8" stroke="#505050" stroke-width="1.6" stroke-linecap="butt" /><line x1="866" y1="296" x2="1257" y2="363" stroke="#151515" stroke-width="2" stroke-linecap="butt" /><polygon points="965,186 1257,243 1257,224 970,168" fill="url(#mesh)" /><g><polygon points="901.7,150.0 921.7,123.3 931.7,117.5 946.7,90.0 958.3,87.5 980.0,70.0 1026.7,73.3 1040.0,81.7 1010.0,110.0 1001.7,146.7 980.0,171.7 968.3,178.3 950.0,181.7 913.3,173.3 901.7,166.7" fill="#343434" /><polygon points="950.0,90.0 958.3,87.5 980.0,70.0 1026.7,73.3 1040.0,81.7 1011.7,98.3" fill="#404040" /><line x1="973.3" y1="77.8" x2="1030.8" y2="75.8" stroke="#222" stroke-width="1.3" stroke-linecap="butt" /><line x1="969.7" y1="81.5" x2="1024.5" y2="80.3" stroke="#222" stroke-width="1.3" stroke-linecap="butt" /><line x1="966.0" y1="85.2" x2="1018.2" y2="84.8" stroke="#222" stroke-width="1.3" stroke-linecap="butt" /><line x1="962.3" y1="88.8" x2="1011.8" y2="89.3" stroke="#222" stroke-width="1.3" stroke-linecap="butt" /><line x1="958.7" y1="92.5" x2="1005.5" y2="93.8" stroke="#222" stroke-width="1.3" stroke-linecap="butt" /><line x1="980.0" y1="71.7" x2="958.3" y2="90.0" stroke="#2a2a2a" stroke-width="0.8" stroke-linecap="butt" /><line x1="990.0" y1="72.3" x2="968.7" y2="91.3" stroke="#2a2a2a" stroke-width="0.8" stroke-linecap="butt" /><line x1="1000.0" y1="73.0" x2="979.0" y2="92.7" stroke="#2a2a2a" stroke-width="0.8" stroke-linecap="butt" /><line x1="1010.0" y1="73.7" x2="989.3" y2="94.0" stroke="#2a2a2a" stroke-width="0.8" stroke-linecap="butt" /><line x1="1020.0" y1="74.3" x2="999.7" y2="95.3" stroke="#2a2a2a" stroke-width="0.8" stroke-linecap="butt" /><polygon points="931.7,117.5 950.0,90.0 1011.7,98.3 1006.7,110.0 980.0,134.2 935.0,123.3" fill="#3a3a3a" /><polygon points="921.7,123.3 931.7,117.5 950.0,90.0 946.7,90.0" fill="#474747" /><polygon points="935.8,117.0 952.5,94.2 1000.0,100.3 981.7,126.7 978.3,123.3 973.3,122.5" fill="#1a1a1a" /><polygon points="960.0,118.3 966.7,110.0 980.0,111.7 977.5,123.3" fill="#2c2c2c" /><polygon points="963.3,115.8 968.3,110.8 973.3,111.7 970.8,118.3" fill="#151515" /><circle cx="978.3" cy="109.2" r="1.3" fill="#555"/><polygon points="980.0,134.2 1006.7,110.0 1001.7,146.7 980.0,171.7" fill="#2e2e2e" /><polygon points="902.0,150.0 921.7,123.7 980.0,134.5 980.3,156.7 950.0,164.2 921.7,160.0" fill="url(#gNose)" /><polygon points="901.7,150.3 921.7,160.3 950.0,164.7 980.3,157.0 980.0,171.7 968.3,178.3 950.0,181.7 913.3,173.3 901.7,166.7" fill="url(#gNoseF)" /><polygon points="914.2,135.0 917.5,135.3 917.0,140.0 913.7,139.3" fill="none" stroke="#c98a32" stroke-width="0.8" /><line x1="918.7" y1="140.0" x2="925.0" y2="141.0" stroke="#c98a32" stroke-width="0.8" stroke-linecap="butt" stroke-dasharray="1.2 1.2"/><polygon points="955.8,144.2 960.0,140.8 962.5,146.7 958.3,149.2" fill="#c98a32" /><polygon points="962.5,146.7 965.8,144.2 966.7,148.3 963.3,150.0" fill="#e0a040" /><line x1="945.8" y1="144.7" x2="954.2" y2="145.7" stroke="#c98a32" stroke-width="0.8" stroke-linecap="butt" /><circle cx="933.7" cy="151.3" r="5" fill="url(#gLed)"/><circle cx="933.7" cy="151.3" r="2.6" fill="#3dff6a"/></g><g><polygon points="1001.7,155.0 1006.7,120.0 1015.0,113.3 1068.3,111.7 1073.3,130.0 1113.3,119.2 1117.5,126.7 1085.8,146.7 1078.3,156.7 1048.3,190.8 1006.7,185.0" fill="#2a2a2a" /><polygon points="1048.3,156.7 1078.3,143.3 1078.3,156.7 1048.3,190.8" fill="#202020" /><polygon points="1001.7,155.0 1006.7,120.0 1015.0,113.3 1013.3,123.3 1009.2,155.0 1007.0,183.3" fill="#3a3a3a" /><polygon points="1085.8,146.7 1095.8,140.8 1095.8,155.0 1087.5,156.7" fill="#d68a18" /><path d="M1017.8 113.62 Q1015.3 113.7 1016.31 111.41 L1020.69 101.49 Q1021.7 99.2 1023.75 97.77 L1042.95 84.43 Q1045.0 83.0 1047.5 82.87 L1099.2 80.13 Q1101.7 80.0 1103.56 81.67 L1110.14 87.53 Q1112.0 89.2 1112.07 91.7 L1112.73 115.8 Q1112.8 118.3 1110.42 119.07 L1076.58 130.03 Q1074.2 130.8 1073.65 128.36 L1070.55 114.44 Q1070.0 112.0 1067.5 112.08 Z" fill="url(#gYelSide)"/><path d="M1018.3 112.92 Q1015.8 113.0 1016.82 110.72 L1020.98 101.48 Q1022.0 99.2 1024.04 97.76 L1042.96 84.44 Q1045.0 83.0 1047.5 82.87 L1099.2 80.13 Q1101.7 80.0 1103.59 81.64 L1109.81 87.06 Q1111.7 88.7 1109.41 89.69 L1075.59 104.31 Q1073.3 105.3 1072.01 107.44 L1070.99 109.16 Q1069.7 111.3 1067.2 111.38 Z" fill="url(#gYelTop)"/><path d="M1070.0 111.7 L1073.3 105.5 L1111.7 88.8" stroke="#ffbf55" stroke-width="0.9" fill="none" stroke-linecap="round" stroke-linejoin="round" /><polygon points="1100.0,105.8 1105.0,104.2 1105.3,113.3 1100.3,115.3" fill="#c47a12" /><path d="M1100.8 105.8 L1101.7 101.7 L1105.0 100.8 L1105.3 104.2" stroke="#c47a12" stroke-width="0.8" fill="none" stroke-linecap="round" stroke-linejoin="round" /><line x1="1069.2" y1="138.3" x2="1115.0" y2="119.7" stroke="#141414" stroke-width="1.6" stroke-linecap="butt" /><line x1="1069.2" y1="142.0" x2="1115.0" y2="122.3" stroke="#3a3a3a" stroke-width="1.6" stroke-linecap="butt" /><line x1="1069.2" y1="145.7" x2="1115.0" y2="125.0" stroke="#141414" stroke-width="1.6" stroke-linecap="butt" /><path d="M1010.63 125.0 Q1010.8 122.0 1013.66 121.08 L1016.34 120.22 Q1019.2 119.3 1022.19 119.59 L1043.71 121.71 Q1046.7 122.0 1048.45 124.43 L1048.55 124.57 Q1050.3 127.0 1049.95 129.98 L1047.35 152.32 Q1047.0 155.3 1044.03 154.91 L1012.17 150.69 Q1009.2 150.3 1009.37 147.3 Z" fill="#f3b021"/><polygon points="1018.0,128.7 1039.2,130.8 1037.5,142.5 1016.3,140.0" fill="#f8c440" /><polygon points="1018.0,128.7 1039.2,130.8 1038.3,133.3 1017.7,131.3" fill="#d9951a" /><polygon points="1011.7,146.7 1044.2,151.3 1043.3,157.5 1010.3,153.0" fill="#191919" /><polygon points="1005.0,167.5 1047.0,172.5 1048.0,190.5 1006.7,185.0" fill="#1e1e1e" /><line x1="1011.7" y1="171.7" x2="1012.0" y2="183.7" stroke="#4a4a4a" stroke-width="0.9" stroke-linecap="butt" /><line x1="1017.0" y1="172.3" x2="1017.3" y2="184.5" stroke="#4a4a4a" stroke-width="0.9" stroke-linecap="butt" /><line x1="1022.3" y1="173.0" x2="1022.7" y2="185.3" stroke="#4a4a4a" stroke-width="0.9" stroke-linecap="butt" /><line x1="1027.7" y1="173.7" x2="1028.0" y2="186.2" stroke="#4a4a4a" stroke-width="0.9" stroke-linecap="butt" /><line x1="1033.0" y1="174.3" x2="1033.3" y2="187.0" stroke="#4a4a4a" stroke-width="0.9" stroke-linecap="butt" /><line x1="1038.3" y1="175.0" x2="1038.7" y2="187.8" stroke="#4a4a4a" stroke-width="0.9" stroke-linecap="butt" /><line x1="1043.7" y1="175.7" x2="1044.0" y2="188.7" stroke="#4a4a4a" stroke-width="0.9" stroke-linecap="butt" /><line x1="1005.0" y1="167.5" x2="1047.0" y2="172.5" stroke="#484848" stroke-width="1" stroke-linecap="butt" /></g><g transform="translate(177,33)"><polygon points="901.7,150.0 921.7,123.3 931.7,117.5 946.7,90.0 958.3,87.5 980.0,70.0 1026.7,73.3 1040.0,81.7 1010.0,110.0 1001.7,146.7 980.0,171.7 968.3,178.3 950.0,181.7 913.3,173.3 901.7,166.7" fill="#343434" /><polygon points="950.0,90.0 958.3,87.5 980.0,70.0 1026.7,73.3 1040.0,81.7 1011.7,98.3" fill="#404040" /><line x1="973.3" y1="77.8" x2="1030.8" y2="75.8" stroke="#222" stroke-width="1.3" stroke-linecap="butt" /><line x1="969.7" y1="81.5" x2="1024.5" y2="80.3" stroke="#222" stroke-width="1.3" stroke-linecap="butt" /><line x1="966.0" y1="85.2" x2="1018.2" y2="84.8" stroke="#222" stroke-width="1.3" stroke-linecap="butt" /><line x1="962.3" y1="88.8" x2="1011.8" y2="89.3" stroke="#222" stroke-width="1.3" stroke-linecap="butt" /><line x1="958.7" y1="92.5" x2="1005.5" y2="93.8" stroke="#222" stroke-width="1.3" stroke-linecap="butt" /><line x1="980.0" y1="71.7" x2="958.3" y2="90.0" stroke="#2a2a2a" stroke-width="0.8" stroke-linecap="butt" /><line x1="990.0" y1="72.3" x2="968.7" y2="91.3" stroke="#2a2a2a" stroke-width="0.8" stroke-linecap="butt" /><line x1="1000.0" y1="73.0" x2="979.0" y2="92.7" stroke="#2a2a2a" stroke-width="0.8" stroke-linecap="butt" /><line x1="1010.0" y1="73.7" x2="989.3" y2="94.0" stroke="#2a2a2a" stroke-width="0.8" stroke-linecap="butt" /><line x1="1020.0" y1="74.3" x2="999.7" y2="95.3" stroke="#2a2a2a" stroke-width="0.8" stroke-linecap="butt" /><polygon points="931.7,117.5 950.0,90.0 1011.7,98.3 1006.7,110.0 980.0,134.2 935.0,123.3" fill="#3a3a3a" /><polygon points="921.7,123.3 931.7,117.5 950.0,90.0 946.7,90.0" fill="#474747" /><polygon points="935.8,117.0 952.5,94.2 1000.0,100.3 981.7,126.7 978.3,123.3 973.3,122.5" fill="#1a1a1a" /><polygon points="960.0,118.3 966.7,110.0 980.0,111.7 977.5,123.3" fill="#2c2c2c" /><polygon points="963.3,115.8 968.3,110.8 973.3,111.7 970.8,118.3" fill="#151515" /><circle cx="978.3" cy="109.2" r="1.3" fill="#555"/><polygon points="980.0,134.2 1006.7,110.0 1001.7,146.7 980.0,171.7" fill="#2e2e2e" /><polygon points="902.0,150.0 921.7,123.7 980.0,134.5 980.3,156.7 950.0,164.2 921.7,160.0" fill="url(#gNose)" /><polygon points="901.7,150.3 921.7,160.3 950.0,164.7 980.3,157.0 980.0,171.7 968.3,178.3 950.0,181.7 913.3,173.3 901.7,166.7" fill="url(#gNoseF)" /><polygon points="914.2,135.0 917.5,135.3 917.0,140.0 913.7,139.3" fill="none" stroke="#c98a32" stroke-width="0.8" /><line x1="918.7" y1="140.0" x2="925.0" y2="141.0" stroke="#c98a32" stroke-width="0.8" stroke-linecap="butt" stroke-dasharray="1.2 1.2"/><polygon points="955.8,144.2 960.0,140.8 962.5,146.7 958.3,149.2" fill="#c98a32" /><polygon points="962.5,146.7 965.8,144.2 966.7,148.3 963.3,150.0" fill="#e0a040" /><line x1="945.8" y1="144.7" x2="954.2" y2="145.7" stroke="#c98a32" stroke-width="0.8" stroke-linecap="butt" /><circle cx="933.7" cy="151.3" r="5" fill="url(#gLed)"/><circle cx="933.7" cy="151.3" r="2.6" fill="#3dff6a"/></g><g transform="translate(188,35)"><polygon points="1001.7,155.0 1006.7,120.0 1015.0,113.3 1068.3,111.7 1073.3,130.0 1113.3,119.2 1117.5,126.7 1085.8,146.7 1078.3,156.7 1048.3,190.8 1006.7,185.0" fill="#2a2a2a" /><polygon points="1048.3,156.7 1078.3,143.3 1078.3,156.7 1048.3,190.8" fill="#202020" /><polygon points="1001.7,155.0 1006.7,120.0 1015.0,113.3 1013.3,123.3 1009.2,155.0 1007.0,183.3" fill="#3a3a3a" /><polygon points="1085.8,146.7 1095.8,140.8 1095.8,155.0 1087.5,156.7" fill="#d68a18" /><path d="M1017.8 113.62 Q1015.3 113.7 1016.31 111.41 L1020.69 101.49 Q1021.7 99.2 1023.75 97.77 L1042.95 84.43 Q1045.0 83.0 1047.5 82.87 L1099.2 80.13 Q1101.7 80.0 1103.56 81.67 L1110.14 87.53 Q1112.0 89.2 1112.07 91.7 L1112.73 115.8 Q1112.8 118.3 1110.42 119.07 L1076.58 130.03 Q1074.2 130.8 1073.65 128.36 L1070.55 114.44 Q1070.0 112.0 1067.5 112.08 Z" fill="url(#gYelSide)"/><path d="M1018.3 112.92 Q1015.8 113.0 1016.82 110.72 L1020.98 101.48 Q1022.0 99.2 1024.04 97.76 L1042.96 84.44 Q1045.0 83.0 1047.5 82.87 L1099.2 80.13 Q1101.7 80.0 1103.59 81.64 L1109.81 87.06 Q1111.7 88.7 1109.41 89.69 L1075.59 104.31 Q1073.3 105.3 1072.01 107.44 L1070.99 109.16 Q1069.7 111.3 1067.2 111.38 Z" fill="url(#gYelTop)"/><path d="M1070.0 111.7 L1073.3 105.5 L1111.7 88.8" stroke="#ffbf55" stroke-width="0.9" fill="none" stroke-linecap="round" stroke-linejoin="round" /><polygon points="1100.0,105.8 1105.0,104.2 1105.3,113.3 1100.3,115.3" fill="#c47a12" /><path d="M1100.8 105.8 L1101.7 101.7 L1105.0 100.8 L1105.3 104.2" stroke="#c47a12" stroke-width="0.8" fill="none" stroke-linecap="round" stroke-linejoin="round" /><line x1="1069.2" y1="138.3" x2="1115.0" y2="119.7" stroke="#141414" stroke-width="1.6" stroke-linecap="butt" /><line x1="1069.2" y1="142.0" x2="1115.0" y2="122.3" stroke="#3a3a3a" stroke-width="1.6" stroke-linecap="butt" /><line x1="1069.2" y1="145.7" x2="1115.0" y2="125.0" stroke="#141414" stroke-width="1.6" stroke-linecap="butt" /><path d="M1010.63 125.0 Q1010.8 122.0 1013.66 121.08 L1016.34 120.22 Q1019.2 119.3 1022.19 119.59 L1043.71 121.71 Q1046.7 122.0 1048.45 124.43 L1048.55 124.57 Q1050.3 127.0 1049.95 129.98 L1047.35 152.32 Q1047.0 155.3 1044.03 154.91 L1012.17 150.69 Q1009.2 150.3 1009.37 147.3 Z" fill="#f3b021"/><polygon points="1018.0,128.7 1039.2,130.8 1037.5,142.5 1016.3,140.0" fill="#f8c440" /><polygon points="1018.0,128.7 1039.2,130.8 1038.3,133.3 1017.7,131.3" fill="#d9951a" /><polygon points="1011.7,146.7 1044.2,151.3 1043.3,157.5 1010.3,153.0" fill="#191919" /><polygon points="1005.0,167.5 1047.0,172.5 1048.0,190.5 1006.7,185.0" fill="#1e1e1e" /><line x1="1011.7" y1="171.7" x2="1012.0" y2="183.7" stroke="#4a4a4a" stroke-width="0.9" stroke-linecap="butt" /><line x1="1017.0" y1="172.3" x2="1017.3" y2="184.5" stroke="#4a4a4a" stroke-width="0.9" stroke-linecap="butt" /><line x1="1022.3" y1="173.0" x2="1022.7" y2="185.3" stroke="#4a4a4a" stroke-width="0.9" stroke-linecap="butt" /><line x1="1027.7" y1="173.7" x2="1028.0" y2="186.2" stroke="#4a4a4a" stroke-width="0.9" stroke-linecap="butt" /><line x1="1033.0" y1="174.3" x2="1033.3" y2="187.0" stroke="#4a4a4a" stroke-width="0.9" stroke-linecap="butt" /><line x1="1038.3" y1="175.0" x2="1038.7" y2="187.8" stroke="#4a4a4a" stroke-width="0.9" stroke-linecap="butt" /><line x1="1043.7" y1="175.7" x2="1044.0" y2="188.7" stroke="#4a4a4a" stroke-width="0.9" stroke-linecap="butt" /><line x1="1005.0" y1="167.5" x2="1047.0" y2="172.5" stroke="#484848" stroke-width="1" stroke-linecap="butt" /></g><polygon points="866,167 1257,243 1257,254 866,178" fill="#262626" /><line x1="866" y1="167.8" x2="1257" y2="243.8" stroke="#505050" stroke-width="1.6" stroke-linecap="butt" /><line x1="866" y1="177" x2="1257" y2="253" stroke="#151515" stroke-width="2" stroke-linecap="butt" /><path d="M975 473 L1257 533" stroke="#1a1a1a" stroke-width="2.99" fill="none" stroke-linecap="round" stroke-linejoin="round"/><path d="M975 473 L1257 533" stroke="#c6c6c6" stroke-width="0.87" fill="none" stroke-linecap="butt" stroke-linejoin="round" transform="translate(0,0.1)"/><path d="M962 485 L1257 547" stroke="#1a1a1a" stroke-width="2.76" fill="none" stroke-linecap="round" stroke-linejoin="round"/><path d="M962 485 L1257 547" stroke="#c6c6c6" stroke-width="0.80" fill="none" stroke-linecap="butt" stroke-linejoin="round" transform="translate(0,0.1)"/><path d="M905 515 L1003 468" stroke="#1a1a1a" stroke-width="3.91" fill="none" stroke-linecap="round" stroke-linejoin="round"/><path d="M905 515 L1003 468" stroke="#c6c6c6" stroke-width="1.13" fill="none" stroke-linecap="butt" stroke-linejoin="round" transform="translate(0,0.1)"/><path d="M916 518 L1036 477" stroke="#1a1a1a" stroke-width="3.91" fill="none" stroke-linecap="round" stroke-linejoin="round"/><path d="M916 518 L1036 477" stroke="#c6c6c6" stroke-width="1.13" fill="none" stroke-linecap="butt" stroke-linejoin="round" transform="translate(0,0.1)"/><path d="M907 515 C900 517 894 514 892 510 C896 505 903 507 908 511" stroke="#1b1b1b" stroke-width="3.4" fill="none" stroke-linecap="round" stroke-linejoin="round"/><path d="M958 524.0 L1042 479.0" stroke="#1a1a1a" stroke-width="3.91" fill="none" stroke-linecap="round" stroke-linejoin="round"/><path d="M958 524.0 L1042 479.0" stroke="#c6c6c6" stroke-width="1.13" fill="none" stroke-linecap="butt" stroke-linejoin="round" transform="translate(0,0.1)"/><path d="M1010 539.0 L1096 491.0" stroke="#1a1a1a" stroke-width="3.91" fill="none" stroke-linecap="round" stroke-linejoin="round"/><path d="M1010 539.0 L1096 491.0" stroke="#c6c6c6" stroke-width="1.13" fill="none" stroke-linecap="butt" stroke-linejoin="round" transform="translate(0,0.1)"/><path d="M959 524.0 C953 526.5 949 523.0 954 520.5 C970 520.0 988 535.0 1010 539.0" stroke="#1b1b1b" stroke-width="4.2" fill="none" stroke-linecap="round" stroke-linejoin="round"/><path d="M1053 544.7 L1137 499.70000000000005" stroke="#1a1a1a" stroke-width="3.91" fill="none" stroke-linecap="round" stroke-linejoin="round"/><path d="M1053 544.7 L1137 499.70000000000005" stroke="#c6c6c6" stroke-width="1.13" fill="none" stroke-linecap="butt" stroke-linejoin="round" transform="translate(0,0.1)"/><path d="M1105 559.7 L1191 511.70000000000005" stroke="#1a1a1a" stroke-width="3.91" fill="none" stroke-linecap="round" stroke-linejoin="round"/><path d="M1105 559.7 L1191 511.70000000000005" stroke="#c6c6c6" stroke-width="1.13" fill="none" stroke-linecap="butt" stroke-linejoin="round" transform="translate(0,0.1)"/><path d="M1054 544.7 C1048 547.2 1044 543.7 1049 541.2 C1065 540.7 1083 555.7 1105 559.7" stroke="#1b1b1b" stroke-width="4.2" fill="none" stroke-linecap="round" stroke-linejoin="round"/><path d="M1148 565.4 L1232 520.4" stroke="#1a1a1a" stroke-width="3.91" fill="none" stroke-linecap="round" stroke-linejoin="round"/><path d="M1148 565.4 L1232 520.4" stroke="#c6c6c6" stroke-width="1.13" fill="none" stroke-linecap="butt" stroke-linejoin="round" transform="translate(0,0.1)"/><path d="M1200 580.4 L1286 532.4" stroke="#1a1a1a" stroke-width="3.91" fill="none" stroke-linecap="round" stroke-linejoin="round"/><path d="M1200 580.4 L1286 532.4" stroke="#c6c6c6" stroke-width="1.13" fill="none" stroke-linecap="butt" stroke-linejoin="round" transform="translate(0,0.1)"/><path d="M1149 565.4 C1143 567.9 1139 564.4 1144 561.9 C1160 561.4 1178 576.4 1200 580.4" stroke="#1b1b1b" stroke-width="4.2" fill="none" stroke-linecap="round" stroke-linejoin="round"/><path d="M1258 592 L1240 587 C1234 586 1232 581 1238 580 L1258 584" stroke="#1b1b1b" stroke-width="2.6" fill="none" stroke-linecap="round" stroke-linejoin="round"/><path d="M1258 592 L1240 587 C1234 586 1232 581 1238 580 L1258 584" stroke="#6a6a6a" stroke-width="0.57" fill="none" stroke-linecap="round" stroke-linejoin="round" transform="translate(0,-0.78)"/><path d="M1240 586 L1258 577" stroke="#1a1a1a" stroke-width="3.91" fill="none" stroke-linecap="round" stroke-linejoin="round"/><path d="M1240 586 L1258 577" stroke="#c6c6c6" stroke-width="1.13" fill="none" stroke-linecap="butt" stroke-linejoin="round" transform="translate(0,0.1)"/><polygon points="1257,244 1280,197 1362,119 1372,123 1369,537 1257,614" fill="url(#gPanelR)" /><line x1="1257.6" y1="244" x2="1257.6" y2="613" stroke="#444" stroke-width="1.2" stroke-linecap="butt" /><polygon points="1362,119 1372,123 1372,160 1362,166" fill="#222" /><polygon points="1355,140 1366,133 1366,160 1358,165" fill="#1a1a1a" /><ellipse cx="1268.1" cy="595.9" rx="1.45" ry="2.6" fill="#ececec" transform="rotate(20 1268.1 595.9)"/><ellipse cx="1268.1" cy="571.2" rx="1.45" ry="2.6" fill="#ececec" transform="rotate(20 1268.1 571.2)"/><ellipse cx="1281.1" cy="586.8" rx="1.45" ry="2.6" fill="#ececec" transform="rotate(20 1281.1 586.8)"/><ellipse cx="1268.1" cy="546.5" rx="1.45" ry="2.6" fill="#ececec" transform="rotate(20 1268.1 546.5)"/><ellipse cx="1281.1" cy="562.1" rx="1.45" ry="2.6" fill="#ececec" transform="rotate(20 1281.1 562.1)"/><ellipse cx="1294.1" cy="577.7" rx="1.45" ry="2.6" fill="#ececec" transform="rotate(20 1294.1 577.7)"/><ellipse cx="1268.1" cy="521.8" rx="1.45" ry="2.6" fill="#ececec" transform="rotate(20 1268.1 521.8)"/><ellipse cx="1281.1" cy="537.4" rx="1.45" ry="2.6" fill="#ececec" transform="rotate(20 1281.1 537.4)"/><ellipse cx="1294.1" cy="553.0" rx="1.45" ry="2.6" fill="#ececec" transform="rotate(20 1294.1 553.0)"/><ellipse cx="1307.1" cy="568.6" rx="1.45" ry="2.6" fill="#ececec" transform="rotate(20 1307.1 568.6)"/><ellipse cx="1268.1" cy="497.1" rx="1.45" ry="2.6" fill="#101010" transform="rotate(20 1268.1 497.1)"/><ellipse cx="1281.1" cy="512.7" rx="1.45" ry="2.6" fill="#ececec" transform="rotate(20 1281.1 512.7)"/><ellipse cx="1294.1" cy="528.3" rx="1.45" ry="2.6" fill="#ececec" transform="rotate(20 1294.1 528.3)"/><ellipse cx="1307.1" cy="543.9" rx="1.45" ry="2.6" fill="#ececec" transform="rotate(20 1307.1 543.9)"/><ellipse cx="1320.1" cy="559.5" rx="1.45" ry="2.6" fill="#ececec" transform="rotate(20 1320.1 559.5)"/><ellipse cx="1268.1" cy="472.4" rx="1.45" ry="2.6" fill="#101010" transform="rotate(20 1268.1 472.4)"/><ellipse cx="1281.1" cy="488.0" rx="1.45" ry="2.6" fill="#101010" transform="rotate(20 1281.1 488.0)"/><ellipse cx="1294.1" cy="503.6" rx="1.45" ry="2.6" fill="#ececec" transform="rotate(20 1294.1 503.6)"/><ellipse cx="1307.1" cy="519.2" rx="1.45" ry="2.6" fill="#ececec" transform="rotate(20 1307.1 519.2)"/><ellipse cx="1320.1" cy="534.8" rx="1.45" ry="2.6" fill="#ececec" transform="rotate(20 1320.1 534.8)"/><ellipse cx="1333.1" cy="550.4" rx="1.45" ry="2.6" fill="#ececec" transform="rotate(20 1333.1 550.4)"/><ellipse cx="1268.1" cy="447.7" rx="1.45" ry="2.6" fill="#101010" transform="rotate(20 1268.1 447.7)"/><ellipse cx="1281.1" cy="463.3" rx="1.45" ry="2.6" fill="#101010" transform="rotate(20 1281.1 463.3)"/><ellipse cx="1294.1" cy="478.9" rx="1.45" ry="2.6" fill="#ececec" transform="rotate(20 1294.1 478.9)"/><ellipse cx="1307.1" cy="494.5" rx="1.45" ry="2.6" fill="#ececec" transform="rotate(20 1307.1 494.5)"/><ellipse cx="1320.1" cy="510.1" rx="1.45" ry="2.6" fill="#ececec" transform="rotate(20 1320.1 510.1)"/><ellipse cx="1333.1" cy="525.7" rx="1.45" ry="2.6" fill="#ececec" transform="rotate(20 1333.1 525.7)"/><ellipse cx="1346.1" cy="541.3" rx="1.45" ry="2.6" fill="#ececec" transform="rotate(20 1346.1 541.3)"/><ellipse cx="1268.1" cy="423.0" rx="1.45" ry="2.6" fill="#101010" transform="rotate(20 1268.1 423.0)"/><ellipse cx="1281.1" cy="438.6" rx="1.45" ry="2.6" fill="#101010" transform="rotate(20 1281.1 438.6)"/><ellipse cx="1294.1" cy="454.2" rx="1.45" ry="2.6" fill="#ececec" transform="rotate(20 1294.1 454.2)"/><ellipse cx="1307.1" cy="469.8" rx="1.45" ry="2.6" fill="#ececec" transform="rotate(20 1307.1 469.8)"/><ellipse cx="1320.1" cy="485.4" rx="1.45" ry="2.6" fill="#ececec" transform="rotate(20 1320.1 485.4)"/><ellipse cx="1333.1" cy="501.0" rx="1.45" ry="2.6" fill="#ececec" transform="rotate(20 1333.1 501.0)"/><ellipse cx="1346.1" cy="516.6" rx="1.45" ry="2.6" fill="#ececec" transform="rotate(20 1346.1 516.6)"/><ellipse cx="1359.1" cy="532.2" rx="1.45" ry="2.6" fill="#ececec" transform="rotate(20 1359.1 532.2)"/><ellipse cx="1268.1" cy="398.3" rx="1.45" ry="2.6" fill="#101010" transform="rotate(20 1268.1 398.3)"/><ellipse cx="1281.1" cy="413.9" rx="1.45" ry="2.6" fill="#101010" transform="rotate(20 1281.1 413.9)"/><ellipse cx="1294.1" cy="429.5" rx="1.45" ry="2.6" fill="#ececec" transform="rotate(20 1294.1 429.5)"/><ellipse cx="1307.1" cy="445.1" rx="1.45" ry="2.6" fill="#ececec" transform="rotate(20 1307.1 445.1)"/><ellipse cx="1320.1" cy="460.7" rx="1.45" ry="2.6" fill="#ececec" transform="rotate(20 1320.1 460.7)"/><ellipse cx="1333.1" cy="476.3" rx="1.45" ry="2.6" fill="#ececec" transform="rotate(20 1333.1 476.3)"/><ellipse cx="1346.1" cy="491.9" rx="1.45" ry="2.6" fill="#ececec" transform="rotate(20 1346.1 491.9)"/><ellipse cx="1359.1" cy="507.5" rx="1.45" ry="2.6" fill="#ececec" transform="rotate(20 1359.1 507.5)"/><ellipse cx="1268.1" cy="373.6" rx="1.45" ry="2.6" fill="#101010" transform="rotate(20 1268.1 373.6)"/><ellipse cx="1281.1" cy="389.2" rx="1.45" ry="2.6" fill="#101010" transform="rotate(20 1281.1 389.2)"/><ellipse cx="1294.1" cy="404.8" rx="1.45" ry="2.6" fill="#ececec" transform="rotate(20 1294.1 404.8)"/><ellipse cx="1307.1" cy="420.4" rx="1.45" ry="2.6" fill="#ececec" transform="rotate(20 1307.1 420.4)"/><ellipse cx="1320.1" cy="436.0" rx="1.45" ry="2.6" fill="#ececec" transform="rotate(20 1320.1 436.0)"/><ellipse cx="1333.1" cy="451.6" rx="1.45" ry="2.6" fill="#ececec" transform="rotate(20 1333.1 451.6)"/><ellipse cx="1346.1" cy="467.2" rx="1.45" ry="2.6" fill="#ececec" transform="rotate(20 1346.1 467.2)"/><ellipse cx="1359.1" cy="482.8" rx="1.45" ry="2.6" fill="#ececec" transform="rotate(20 1359.1 482.8)"/><ellipse cx="1268.1" cy="348.9" rx="1.45" ry="2.6" fill="#101010" transform="rotate(20 1268.1 348.9)"/><ellipse cx="1281.1" cy="364.5" rx="1.45" ry="2.6" fill="#101010" transform="rotate(20 1281.1 364.5)"/><ellipse cx="1294.1" cy="380.1" rx="1.45" ry="2.6" fill="#ececec" transform="rotate(20 1294.1 380.1)"/><ellipse cx="1307.1" cy="395.7" rx="1.45" ry="2.6" fill="#ececec" transform="rotate(20 1307.1 395.7)"/><ellipse cx="1320.1" cy="411.3" rx="1.45" ry="2.6" fill="#ececec" transform="rotate(20 1320.1 411.3)"/><ellipse cx="1333.1" cy="426.9" rx="1.45" ry="2.6" fill="#ececec" transform="rotate(20 1333.1 426.9)"/><ellipse cx="1346.1" cy="442.5" rx="1.45" ry="2.6" fill="#ececec" transform="rotate(20 1346.1 442.5)"/><ellipse cx="1359.1" cy="458.1" rx="1.45" ry="2.6" fill="#ececec" transform="rotate(20 1359.1 458.1)"/><ellipse cx="1268.1" cy="324.2" rx="1.45" ry="2.6" fill="#101010" transform="rotate(20 1268.1 324.2)"/><ellipse cx="1281.1" cy="339.8" rx="1.45" ry="2.6" fill="#101010" transform="rotate(20 1281.1 339.8)"/><ellipse cx="1294.1" cy="355.4" rx="1.45" ry="2.6" fill="#ececec" transform="rotate(20 1294.1 355.4)"/><ellipse cx="1307.1" cy="371.0" rx="1.45" ry="2.6" fill="#ececec" transform="rotate(20 1307.1 371.0)"/><ellipse cx="1320.1" cy="386.6" rx="1.45" ry="2.6" fill="#ececec" transform="rotate(20 1320.1 386.6)"/><ellipse cx="1333.1" cy="402.2" rx="1.45" ry="2.6" fill="#ececec" transform="rotate(20 1333.1 402.2)"/><ellipse cx="1346.1" cy="417.8" rx="1.45" ry="2.6" fill="#ececec" transform="rotate(20 1346.1 417.8)"/><ellipse cx="1359.1" cy="433.4" rx="1.45" ry="2.6" fill="#ececec" transform="rotate(20 1359.1 433.4)"/><ellipse cx="1268.1" cy="299.5" rx="1.45" ry="2.6" fill="#101010" transform="rotate(20 1268.1 299.5)"/><ellipse cx="1281.1" cy="315.1" rx="1.45" ry="2.6" fill="#101010" transform="rotate(20 1281.1 315.1)"/><ellipse cx="1294.1" cy="330.7" rx="1.45" ry="2.6" fill="#ececec" transform="rotate(20 1294.1 330.7)"/><ellipse cx="1307.1" cy="346.3" rx="1.45" ry="2.6" fill="#ececec" transform="rotate(20 1307.1 346.3)"/><ellipse cx="1320.1" cy="361.9" rx="1.45" ry="2.6" fill="#ececec" transform="rotate(20 1320.1 361.9)"/><ellipse cx="1333.1" cy="377.5" rx="1.45" ry="2.6" fill="#ececec" transform="rotate(20 1333.1 377.5)"/><ellipse cx="1346.1" cy="393.1" rx="1.45" ry="2.6" fill="#ececec" transform="rotate(20 1346.1 393.1)"/><ellipse cx="1359.1" cy="408.7" rx="1.45" ry="2.6" fill="#ececec" transform="rotate(20 1359.1 408.7)"/><ellipse cx="1268.1" cy="274.8" rx="1.45" ry="2.6" fill="#101010" transform="rotate(20 1268.1 274.8)"/><ellipse cx="1281.1" cy="290.4" rx="1.45" ry="2.6" fill="#101010" transform="rotate(20 1281.1 290.4)"/><ellipse cx="1294.1" cy="306.0" rx="1.45" ry="2.6" fill="#101010" transform="rotate(20 1294.1 306.0)"/><ellipse cx="1307.1" cy="321.6" rx="1.45" ry="2.6" fill="#ececec" transform="rotate(20 1307.1 321.6)"/><ellipse cx="1320.1" cy="337.2" rx="1.45" ry="2.6" fill="#ececec" transform="rotate(20 1320.1 337.2)"/><ellipse cx="1333.1" cy="352.8" rx="1.45" ry="2.6" fill="#ececec" transform="rotate(20 1333.1 352.8)"/><ellipse cx="1346.1" cy="368.4" rx="1.45" ry="2.6" fill="#ececec" transform="rotate(20 1346.1 368.4)"/><ellipse cx="1359.1" cy="384.0" rx="1.45" ry="2.6" fill="#ececec" transform="rotate(20 1359.1 384.0)"/><ellipse cx="1281.1" cy="265.7" rx="1.45" ry="2.6" fill="#101010" transform="rotate(20 1281.1 265.7)"/><ellipse cx="1294.1" cy="281.3" rx="1.45" ry="2.6" fill="#101010" transform="rotate(20 1294.1 281.3)"/><ellipse cx="1307.1" cy="296.9" rx="1.45" ry="2.6" fill="#101010" transform="rotate(20 1307.1 296.9)"/><ellipse cx="1320.1" cy="312.5" rx="1.45" ry="2.6" fill="#ececec" transform="rotate(20 1320.1 312.5)"/><ellipse cx="1333.1" cy="328.1" rx="1.45" ry="2.6" fill="#ececec" transform="rotate(20 1333.1 328.1)"/><ellipse cx="1346.1" cy="343.7" rx="1.45" ry="2.6" fill="#ececec" transform="rotate(20 1346.1 343.7)"/><ellipse cx="1359.1" cy="359.3" rx="1.45" ry="2.6" fill="#ececec" transform="rotate(20 1359.1 359.3)"/><ellipse cx="1294.1" cy="256.6" rx="1.45" ry="2.6" fill="#101010" transform="rotate(20 1294.1 256.6)"/><ellipse cx="1307.1" cy="272.2" rx="1.45" ry="2.6" fill="#101010" transform="rotate(20 1307.1 272.2)"/><ellipse cx="1320.1" cy="287.8" rx="1.45" ry="2.6" fill="#101010" transform="rotate(20 1320.1 287.8)"/><ellipse cx="1333.1" cy="303.4" rx="1.45" ry="2.6" fill="#ececec" transform="rotate(20 1333.1 303.4)"/><ellipse cx="1346.1" cy="319.0" rx="1.45" ry="2.6" fill="#ececec" transform="rotate(20 1346.1 319.0)"/><ellipse cx="1359.1" cy="334.6" rx="1.45" ry="2.6" fill="#ececec" transform="rotate(20 1359.1 334.6)"/><ellipse cx="1307.1" cy="247.5" rx="1.45" ry="2.6" fill="#101010" transform="rotate(20 1307.1 247.5)"/><ellipse cx="1320.1" cy="263.1" rx="1.45" ry="2.6" fill="#101010" transform="rotate(20 1320.1 263.1)"/><ellipse cx="1333.1" cy="278.7" rx="1.45" ry="2.6" fill="#101010" transform="rotate(20 1333.1 278.7)"/><ellipse cx="1346.1" cy="294.3" rx="1.45" ry="2.6" fill="#ececec" transform="rotate(20 1346.1 294.3)"/><ellipse cx="1359.1" cy="309.9" rx="1.45" ry="2.6" fill="#ececec" transform="rotate(20 1359.1 309.9)"/><ellipse cx="1333.1" cy="254.0" rx="1.45" ry="2.6" fill="#101010" transform="rotate(20 1333.1 254.0)"/><ellipse cx="1346.1" cy="269.6" rx="1.45" ry="2.6" fill="#101010" transform="rotate(20 1346.1 269.6)"/><ellipse cx="1359.1" cy="285.2" rx="1.45" ry="2.6" fill="#ececec" transform="rotate(20 1359.1 285.2)"/><ellipse cx="1346.1" cy="244.9" rx="1.45" ry="2.6" fill="#101010" transform="rotate(20 1346.1 244.9)"/><ellipse cx="1359.1" cy="260.5" rx="1.45" ry="2.6" fill="#101010" transform="rotate(20 1359.1 260.5)"/><ellipse cx="1359.1" cy="235.8" rx="1.45" ry="2.6" fill="#101010" transform="rotate(20 1359.1 235.8)"/><circle cx="1356" cy="170" r="2.6" fill="#111"/><circle cx="1368" cy="163" r="2.6" fill="#111"/><circle cx="1356" cy="181" r="2.6" fill="#111"/><circle cx="1370" cy="181" r="2.6" fill="#111"/><circle cx="1262" cy="244" r="2.6" fill="#111"/><circle cx="1369" cy="443" r="2.6" fill="#111"/><circle cx="1367" cy="532" r="2.6" fill="#111"/><circle cx="1259" cy="513" r="2.6" fill="#111"/><polygon points="1341,219 1353,221 1353,226 1347,234 1341,231" fill="#1f1f1f" /><line x1="1341" y1="220" x2="1352" y2="222" stroke="#777" stroke-width="1" stroke-linecap="butt" /><polygon points="1284,252 1296,254 1296,259 1290,267 1284,264" fill="#1f1f1f" /><line x1="1284" y1="253" x2="1295" y2="255" stroke="#777" stroke-width="1" stroke-linecap="butt" /><polygon points="1338,322 1350,324 1350,329 1344,337 1338,334" fill="#1f1f1f" /><line x1="1338" y1="323" x2="1349" y2="325" stroke="#777" stroke-width="1" stroke-linecap="butt" /><polygon points="1282,353 1294,355 1294,360 1288,368 1282,365" fill="#1f1f1f" /><line x1="1282" y1="354" x2="1293" y2="356" stroke="#777" stroke-width="1" stroke-linecap="butt" /><path d="M1359 209 L1485 232.7 L1500 226.5" stroke="#1a1a1a" stroke-width="3.79" fill="none" stroke-linecap="round" stroke-linejoin="round"/><path d="M1359 209 L1485 232.7 L1500 226.5" stroke="#c6c6c6" stroke-width="1.10" fill="none" stroke-linecap="butt" stroke-linejoin="round" transform="translate(0,0.1)"/><path d="M1341 223.4 L1468.4 244 L1484 237.8" stroke="#1a1a1a" stroke-width="3.79" fill="none" stroke-linecap="round" stroke-linejoin="round"/><path d="M1341 223.4 L1468.4 244 L1484 237.8" stroke="#c6c6c6" stroke-width="1.10" fill="none" stroke-linecap="butt" stroke-linejoin="round" transform="translate(0,0.1)"/><path d="M1306.6 242 L1435.7 266.5 L1449 260.3" stroke="#1a1a1a" stroke-width="3.79" fill="none" stroke-linecap="round" stroke-linejoin="round"/><path d="M1306.6 242 L1435.7 266.5 L1449 260.3" stroke="#c6c6c6" stroke-width="1.10" fill="none" stroke-linecap="butt" stroke-linejoin="round" transform="translate(0,0.1)"/><path d="M1284 256.2 L1415.2 278.8 L1430.5 271.6" stroke="#1a1a1a" stroke-width="3.79" fill="none" stroke-linecap="round" stroke-linejoin="round"/><path d="M1284 256.2 L1415.2 278.8 L1430.5 271.6" stroke="#c6c6c6" stroke-width="1.10" fill="none" stroke-linecap="butt" stroke-linejoin="round" transform="translate(0,0.1)"/><path d="M1349.6 324 L1470.5 346.4 L1485 340" stroke="#1a1a1a" stroke-width="3.79" fill="none" stroke-linecap="round" stroke-linejoin="round"/><path d="M1349.6 324 L1470.5 346.4 L1485 340" stroke="#c6c6c6" stroke-width="1.10" fill="none" stroke-linecap="butt" stroke-linejoin="round" transform="translate(0,0.1)"/><path d="M1294.3 354.6 L1419.3 379.2 L1433.6 373" stroke="#1a1a1a" stroke-width="3.79" fill="none" stroke-linecap="round" stroke-linejoin="round"/><path d="M1294.3 354.6 L1419.3 379.2 L1433.6 373" stroke="#c6c6c6" stroke-width="1.10" fill="none" stroke-linecap="butt" stroke-linejoin="round" transform="translate(0,0.1)"/><path d="M1276 545 L1276 598 C1277 610 1286 613 1292 611 C1302 607 1306 598 1310 590" stroke="#1b1b1b" stroke-width="4.2" fill="none" stroke-linecap="round" stroke-linejoin="round"/><path d="M1351 497 L1351 548 C1352 559 1361 562 1367 560 C1376 556 1380 547 1381 540" stroke="#1b1b1b" stroke-width="4.2" fill="none" stroke-linecap="round" stroke-linejoin="round"/></g>
<g id="sec_30hooksbox"><path d="M241 302 L207 352 L205.5 334" stroke="#1c1c1c" stroke-width="5.4" fill="none" stroke-linecap="round" stroke-linejoin="round"/><path d="M241 302 L207 352 L205.5 334" stroke="#4a4a4a" stroke-width="1.35" fill="none" stroke-linecap="round" stroke-linejoin="round" transform="translate(0,-1.19)"/><path d="M246 310 L216 349" stroke="#222" stroke-width="3.6" fill="none" stroke-linecap="round" stroke-linejoin="round"/><path d="M246 310 L216 349" stroke="#333" stroke-width="0.9" fill="none" stroke-linecap="round" stroke-linejoin="round" transform="translate(0,-0.79)"/><path d="M232.8 280 L233.5 294 L481.7 353.3 L508.3 346" stroke="#1c1c1c" stroke-width="6.2" fill="none" stroke-linecap="round" stroke-linejoin="round"/><path d="M232.8 280 L233.5 294 L481.7 353.3 L508.3 346" stroke="#4a4a4a" stroke-width="1.55" fill="none" stroke-linecap="round" stroke-linejoin="round" transform="translate(0,-1.36)"/><path d="M191 312 L191.5 327 C193 333 200 333 206 332 C212 330 213 322 207 320 L453.3 378.3 L479.3 370" stroke="#1c1c1c" stroke-width="6.2" fill="none" stroke-linecap="round" stroke-linejoin="round"/><path d="M191 312 L191.5 327 C193 333 200 333 206 332 C212 330 213 322 207 320 L453.3 378.3 L479.3 370" stroke="#4a4a4a" stroke-width="1.55" fill="none" stroke-linecap="round" stroke-linejoin="round" transform="translate(0,-1.36)"/><g transform="translate(-102,67.3)"><path d="M241 302 L207 352 L205.5 334" stroke="#1c1c1c" stroke-width="5.4" fill="none" stroke-linecap="round" stroke-linejoin="round"/><path d="M241 302 L207 352 L205.5 334" stroke="#4a4a4a" stroke-width="1.35" fill="none" stroke-linecap="round" stroke-linejoin="round" transform="translate(0,-1.19)"/><path d="M246 310 L216 349" stroke="#222" stroke-width="3.6" fill="none" stroke-linecap="round" stroke-linejoin="round"/><path d="M246 310 L216 349" stroke="#333" stroke-width="0.9" fill="none" stroke-linecap="round" stroke-linejoin="round" transform="translate(0,-0.79)"/><path d="M232.8 280 L233.5 294 L481.7 353.3 L508.3 346" stroke="#1c1c1c" stroke-width="6.2" fill="none" stroke-linecap="round" stroke-linejoin="round"/><path d="M232.8 280 L233.5 294 L481.7 353.3 L508.3 346" stroke="#4a4a4a" stroke-width="1.55" fill="none" stroke-linecap="round" stroke-linejoin="round" transform="translate(0,-1.36)"/><path d="M191 312 L191.5 327 C193 333 200 333 206 332 C212 330 213 322 207 320 L453.3 378.3 L479.3 370" stroke="#1c1c1c" stroke-width="6.2" fill="none" stroke-linecap="round" stroke-linejoin="round"/><path d="M191 312 L191.5 327 C193 333 200 333 206 332 C212 330 213 322 207 320 L453.3 378.3 L479.3 370" stroke="#4a4a4a" stroke-width="1.55" fill="none" stroke-linecap="round" stroke-linejoin="round" transform="translate(0,-1.36)"/></g></g>
<g id="sec_40exploded"><path d="M65.3 1038.7 L73.3 1046.7 L168 1070.7" stroke="#1a1a1a" stroke-width="2.6" fill="none" stroke-linecap="round" stroke-linejoin="round"/><path d="M49.3 1048 L57.3 1056 L153.3 1084" stroke="#1a1a1a" stroke-width="2.6" fill="none" stroke-linecap="round" stroke-linejoin="round"/><path d="M153.3 1084 L168 1070.7 L169.3 1085.3 L154.7 1095.5 Z" stroke="#1a1a1a" stroke-width="2.0" fill="none" stroke-linecap="round" stroke-linejoin="round"/><path d="M21.3 1065.3 L29.3 1073.3 L133.5 1097.3" stroke="#1a1a1a" stroke-width="2.6" fill="none" stroke-linecap="round" stroke-linejoin="round"/><path d="M5.3 1074.7 L13.3 1082.7 L110.7 1112" stroke="#1a1a1a" stroke-width="2.6" fill="none" stroke-linecap="round" stroke-linejoin="round"/><path d="M110.7 1112 L126.7 1100 L128 1113.3 L111 1123 Z" stroke="#1a1a1a" stroke-width="2.0" fill="none" stroke-linecap="round" stroke-linejoin="round"/><path d="M133.5 1097.3 L133.5 1104" stroke="#1a1a1a" stroke-width="2.0" fill="none" stroke-linecap="round" stroke-linejoin="round"/><path d="M52 1125.3 L62.7 1134.7 L171 1154.7" stroke="#1a1a1a" stroke-width="2.6" fill="none" stroke-linecap="round" stroke-linejoin="round"/><path d="M163 1155 L163 1167 M163 1163 L152 1163 L160 1156" stroke="#1a1a1a" stroke-width="2.0" fill="none" stroke-linecap="round" stroke-linejoin="round"/><path d="M2.7 1150.7 L12 1160 L125.3 1181.3 L125.5 1172" stroke="#1a1a1a" stroke-width="2.6" fill="none" stroke-linecap="round" stroke-linejoin="round"/><path d="M116 1182 L116 1194 M116 1190 L103 1190 L112 1183" stroke="#1a1a1a" stroke-width="2.0" fill="none" stroke-linecap="round" stroke-linejoin="round"/><polygon points="273,968 273.5,943 276,939.5 290,939.5 292.5,943 292.5,1300 273,1306" fill="#262626" /><polygon points="172,1039 197,980 261,948 263,972 278,966 278,1305 172,1353" fill="url(#gPE)" /><line x1="172.6" y1="1039" x2="172.6" y2="1352" stroke="#454545" stroke-width="1.1" stroke-linecap="butt" /><ellipse cx="182.5" cy="1058.7" rx="1.5" ry="2.7" fill="#f4f4f4" transform="rotate(14 182.5 1058.7)"/><ellipse cx="182.5" cy="1080.7" rx="1.5" ry="2.7" fill="#f4f4f4" transform="rotate(14 182.5 1080.7)"/><ellipse cx="182.5" cy="1102.7" rx="1.5" ry="2.7" fill="#f4f4f4" transform="rotate(14 182.5 1102.7)"/><ellipse cx="182.5" cy="1124.7" rx="1.5" ry="2.7" fill="#f4f4f4" transform="rotate(14 182.5 1124.7)"/><ellipse cx="182.5" cy="1146.7" rx="1.5" ry="2.7" fill="#f4f4f4" transform="rotate(14 182.5 1146.7)"/><ellipse cx="182.5" cy="1168.7" rx="1.5" ry="2.7" fill="#f4f4f4" transform="rotate(14 182.5 1168.7)"/><ellipse cx="182.5" cy="1190.7" rx="1.5" ry="2.7" fill="#f4f4f4" transform="rotate(14 182.5 1190.7)"/><ellipse cx="182.5" cy="1212.7" rx="1.5" ry="2.7" fill="#f4f4f4" transform="rotate(14 182.5 1212.7)"/><ellipse cx="182.5" cy="1234.7" rx="1.5" ry="2.7" fill="#f4f4f4" transform="rotate(14 182.5 1234.7)"/><ellipse cx="182.5" cy="1256.7" rx="1.5" ry="2.7" fill="#f4f4f4" transform="rotate(14 182.5 1256.7)"/><ellipse cx="182.5" cy="1278.7" rx="1.5" ry="2.7" fill="#f4f4f4" transform="rotate(14 182.5 1278.7)"/><ellipse cx="182.5" cy="1300.7" rx="1.5" ry="2.7" fill="#f4f4f4" transform="rotate(14 182.5 1300.7)"/><ellipse cx="182.5" cy="1322.7" rx="1.5" ry="2.7" fill="#f4f4f4" transform="rotate(14 182.5 1322.7)"/><ellipse cx="195.0" cy="1052.0" rx="1.5" ry="2.7" fill="#f4f4f4" transform="rotate(14 195.0 1052.0)"/><ellipse cx="195.0" cy="1074.0" rx="1.5" ry="2.7" fill="#f4f4f4" transform="rotate(14 195.0 1074.0)"/><ellipse cx="195.0" cy="1096.0" rx="1.5" ry="2.7" fill="#f4f4f4" transform="rotate(14 195.0 1096.0)"/><ellipse cx="195.0" cy="1118.0" rx="1.5" ry="2.7" fill="#f4f4f4" transform="rotate(14 195.0 1118.0)"/><ellipse cx="195.0" cy="1140.0" rx="1.5" ry="2.7" fill="#f4f4f4" transform="rotate(14 195.0 1140.0)"/><ellipse cx="195.0" cy="1162.0" rx="1.5" ry="2.7" fill="#f4f4f4" transform="rotate(14 195.0 1162.0)"/><ellipse cx="195.0" cy="1184.0" rx="1.5" ry="2.7" fill="#f4f4f4" transform="rotate(14 195.0 1184.0)"/><ellipse cx="195.0" cy="1206.0" rx="1.5" ry="2.7" fill="#f4f4f4" transform="rotate(14 195.0 1206.0)"/><ellipse cx="195.0" cy="1228.0" rx="1.5" ry="2.7" fill="#f4f4f4" transform="rotate(14 195.0 1228.0)"/><ellipse cx="195.0" cy="1250.0" rx="1.5" ry="2.7" fill="#f4f4f4" transform="rotate(14 195.0 1250.0)"/><ellipse cx="195.0" cy="1272.0" rx="1.5" ry="2.7" fill="#f4f4f4" transform="rotate(14 195.0 1272.0)"/><ellipse cx="195.0" cy="1294.0" rx="1.5" ry="2.7" fill="#f4f4f4" transform="rotate(14 195.0 1294.0)"/><ellipse cx="195.0" cy="1316.0" rx="1.5" ry="2.7" fill="#f4f4f4" transform="rotate(14 195.0 1316.0)"/><ellipse cx="207.5" cy="1045.3" rx="1.5" ry="2.7" fill="#f4f4f4" transform="rotate(14 207.5 1045.3)"/><ellipse cx="207.5" cy="1067.3" rx="1.5" ry="2.7" fill="#f4f4f4" transform="rotate(14 207.5 1067.3)"/><ellipse cx="207.5" cy="1089.3" rx="1.5" ry="2.7" fill="#f4f4f4" transform="rotate(14 207.5 1089.3)"/><ellipse cx="207.5" cy="1111.3" rx="1.5" ry="2.7" fill="#f4f4f4" transform="rotate(14 207.5 1111.3)"/><ellipse cx="207.5" cy="1133.3" rx="1.5" ry="2.7" fill="#f4f4f4" transform="rotate(14 207.5 1133.3)"/><ellipse cx="207.5" cy="1155.3" rx="1.5" ry="2.7" fill="#f4f4f4" transform="rotate(14 207.5 1155.3)"/><ellipse cx="207.5" cy="1177.3" rx="1.5" ry="2.7" fill="#f4f4f4" transform="rotate(14 207.5 1177.3)"/><ellipse cx="207.5" cy="1199.3" rx="1.5" ry="2.7" fill="#f4f4f4" transform="rotate(14 207.5 1199.3)"/><ellipse cx="207.5" cy="1221.3" rx="1.5" ry="2.7" fill="#f4f4f4" transform="rotate(14 207.5 1221.3)"/><ellipse cx="207.5" cy="1243.3" rx="1.5" ry="2.7" fill="#f4f4f4" transform="rotate(14 207.5 1243.3)"/><ellipse cx="207.5" cy="1265.3" rx="1.5" ry="2.7" fill="#f4f4f4" transform="rotate(14 207.5 1265.3)"/><ellipse cx="207.5" cy="1287.3" rx="1.5" ry="2.7" fill="#f4f4f4" transform="rotate(14 207.5 1287.3)"/><ellipse cx="207.5" cy="1309.3" rx="1.5" ry="2.7" fill="#f4f4f4" transform="rotate(14 207.5 1309.3)"/><ellipse cx="220.0" cy="1038.6" rx="1.5" ry="2.7" fill="#f4f4f4" transform="rotate(14 220.0 1038.6)"/><ellipse cx="220.0" cy="1060.6" rx="1.5" ry="2.7" fill="#f4f4f4" transform="rotate(14 220.0 1060.6)"/><ellipse cx="220.0" cy="1082.6" rx="1.5" ry="2.7" fill="#f4f4f4" transform="rotate(14 220.0 1082.6)"/><ellipse cx="220.0" cy="1104.6" rx="1.5" ry="2.7" fill="#f4f4f4" transform="rotate(14 220.0 1104.6)"/><ellipse cx="220.0" cy="1126.6" rx="1.5" ry="2.7" fill="#f4f4f4" transform="rotate(14 220.0 1126.6)"/><ellipse cx="220.0" cy="1148.6" rx="1.5" ry="2.7" fill="#f4f4f4" transform="rotate(14 220.0 1148.6)"/><ellipse cx="220.0" cy="1170.6" rx="1.5" ry="2.7" fill="#f4f4f4" transform="rotate(14 220.0 1170.6)"/><ellipse cx="220.0" cy="1192.6" rx="1.5" ry="2.7" fill="#f4f4f4" transform="rotate(14 220.0 1192.6)"/><ellipse cx="220.0" cy="1214.6" rx="1.5" ry="2.7" fill="#f4f4f4" transform="rotate(14 220.0 1214.6)"/><ellipse cx="220.0" cy="1236.6" rx="1.5" ry="2.7" fill="#f4f4f4" transform="rotate(14 220.0 1236.6)"/><ellipse cx="220.0" cy="1258.6" rx="1.5" ry="2.7" fill="#f4f4f4" transform="rotate(14 220.0 1258.6)"/><ellipse cx="220.0" cy="1280.6" rx="1.5" ry="2.7" fill="#f4f4f4" transform="rotate(14 220.0 1280.6)"/><ellipse cx="220.0" cy="1302.6" rx="1.5" ry="2.7" fill="#f4f4f4" transform="rotate(14 220.0 1302.6)"/><ellipse cx="232.5" cy="1031.9" rx="1.5" ry="2.7" fill="#f4f4f4" transform="rotate(14 232.5 1031.9)"/><ellipse cx="232.5" cy="1053.9" rx="1.5" ry="2.7" fill="#f4f4f4" transform="rotate(14 232.5 1053.9)"/><ellipse cx="232.5" cy="1075.9" rx="1.5" ry="2.7" fill="#f4f4f4" transform="rotate(14 232.5 1075.9)"/><ellipse cx="232.5" cy="1097.9" rx="1.5" ry="2.7" fill="#f4f4f4" transform="rotate(14 232.5 1097.9)"/><ellipse cx="232.5" cy="1119.9" rx="1.5" ry="2.7" fill="#f4f4f4" transform="rotate(14 232.5 1119.9)"/><ellipse cx="232.5" cy="1141.9" rx="1.5" ry="2.7" fill="#f4f4f4" transform="rotate(14 232.5 1141.9)"/><ellipse cx="232.5" cy="1163.9" rx="1.5" ry="2.7" fill="#f4f4f4" transform="rotate(14 232.5 1163.9)"/><ellipse cx="232.5" cy="1185.9" rx="1.5" ry="2.7" fill="#f4f4f4" transform="rotate(14 232.5 1185.9)"/><ellipse cx="232.5" cy="1207.9" rx="1.5" ry="2.7" fill="#f4f4f4" transform="rotate(14 232.5 1207.9)"/><ellipse cx="232.5" cy="1229.9" rx="1.5" ry="2.7" fill="#f4f4f4" transform="rotate(14 232.5 1229.9)"/><ellipse cx="232.5" cy="1251.9" rx="1.5" ry="2.7" fill="#f4f4f4" transform="rotate(14 232.5 1251.9)"/><ellipse cx="232.5" cy="1273.9" rx="1.5" ry="2.7" fill="#f4f4f4" transform="rotate(14 232.5 1273.9)"/><ellipse cx="232.5" cy="1295.9" rx="1.5" ry="2.7" fill="#f4f4f4" transform="rotate(14 232.5 1295.9)"/><ellipse cx="245.0" cy="1025.2" rx="1.5" ry="2.7" fill="#f4f4f4" transform="rotate(14 245.0 1025.2)"/><ellipse cx="245.0" cy="1047.2" rx="1.5" ry="2.7" fill="#f4f4f4" transform="rotate(14 245.0 1047.2)"/><ellipse cx="245.0" cy="1069.2" rx="1.5" ry="2.7" fill="#f4f4f4" transform="rotate(14 245.0 1069.2)"/><ellipse cx="245.0" cy="1091.2" rx="1.5" ry="2.7" fill="#f4f4f4" transform="rotate(14 245.0 1091.2)"/><ellipse cx="245.0" cy="1113.2" rx="1.5" ry="2.7" fill="#f4f4f4" transform="rotate(14 245.0 1113.2)"/><ellipse cx="245.0" cy="1135.2" rx="1.5" ry="2.7" fill="#f4f4f4" transform="rotate(14 245.0 1135.2)"/><ellipse cx="245.0" cy="1157.2" rx="1.5" ry="2.7" fill="#f4f4f4" transform="rotate(14 245.0 1157.2)"/><ellipse cx="245.0" cy="1179.2" rx="1.5" ry="2.7" fill="#f4f4f4" transform="rotate(14 245.0 1179.2)"/><ellipse cx="245.0" cy="1201.2" rx="1.5" ry="2.7" fill="#f4f4f4" transform="rotate(14 245.0 1201.2)"/><ellipse cx="245.0" cy="1223.2" rx="1.5" ry="2.7" fill="#f4f4f4" transform="rotate(14 245.0 1223.2)"/><ellipse cx="245.0" cy="1245.2" rx="1.5" ry="2.7" fill="#f4f4f4" transform="rotate(14 245.0 1245.2)"/><ellipse cx="245.0" cy="1267.2" rx="1.5" ry="2.7" fill="#f4f4f4" transform="rotate(14 245.0 1267.2)"/><ellipse cx="245.0" cy="1289.2" rx="1.5" ry="2.7" fill="#f4f4f4" transform="rotate(14 245.0 1289.2)"/><ellipse cx="245.0" cy="1311.2" rx="1.5" ry="2.7" fill="#f4f4f4" transform="rotate(14 245.0 1311.2)"/><ellipse cx="257.5" cy="1018.5" rx="1.5" ry="2.7" fill="#f4f4f4" transform="rotate(14 257.5 1018.5)"/><ellipse cx="257.5" cy="1040.5" rx="1.5" ry="2.7" fill="#f4f4f4" transform="rotate(14 257.5 1040.5)"/><ellipse cx="257.5" cy="1062.5" rx="1.5" ry="2.7" fill="#f4f4f4" transform="rotate(14 257.5 1062.5)"/><ellipse cx="257.5" cy="1084.5" rx="1.5" ry="2.7" fill="#f4f4f4" transform="rotate(14 257.5 1084.5)"/><ellipse cx="257.5" cy="1106.5" rx="1.5" ry="2.7" fill="#f4f4f4" transform="rotate(14 257.5 1106.5)"/><ellipse cx="257.5" cy="1128.5" rx="1.5" ry="2.7" fill="#f4f4f4" transform="rotate(14 257.5 1128.5)"/><ellipse cx="257.5" cy="1150.5" rx="1.5" ry="2.7" fill="#f4f4f4" transform="rotate(14 257.5 1150.5)"/><ellipse cx="257.5" cy="1172.5" rx="1.5" ry="2.7" fill="#f4f4f4" transform="rotate(14 257.5 1172.5)"/><ellipse cx="257.5" cy="1194.5" rx="1.5" ry="2.7" fill="#f4f4f4" transform="rotate(14 257.5 1194.5)"/><ellipse cx="257.5" cy="1216.5" rx="1.5" ry="2.7" fill="#f4f4f4" transform="rotate(14 257.5 1216.5)"/><ellipse cx="257.5" cy="1238.5" rx="1.5" ry="2.7" fill="#f4f4f4" transform="rotate(14 257.5 1238.5)"/><ellipse cx="257.5" cy="1260.5" rx="1.5" ry="2.7" fill="#f4f4f4" transform="rotate(14 257.5 1260.5)"/><ellipse cx="257.5" cy="1282.5" rx="1.5" ry="2.7" fill="#f4f4f4" transform="rotate(14 257.5 1282.5)"/><ellipse cx="257.5" cy="1304.5" rx="1.5" ry="2.7" fill="#f4f4f4" transform="rotate(14 257.5 1304.5)"/><ellipse cx="270.0" cy="1011.8" rx="1.5" ry="2.7" fill="#f4f4f4" transform="rotate(14 270.0 1011.8)"/><ellipse cx="270.0" cy="1033.8" rx="1.5" ry="2.7" fill="#f4f4f4" transform="rotate(14 270.0 1033.8)"/><ellipse cx="270.0" cy="1055.8" rx="1.5" ry="2.7" fill="#f4f4f4" transform="rotate(14 270.0 1055.8)"/><ellipse cx="270.0" cy="1077.8" rx="1.5" ry="2.7" fill="#f4f4f4" transform="rotate(14 270.0 1077.8)"/><ellipse cx="270.0" cy="1099.8" rx="1.5" ry="2.7" fill="#f4f4f4" transform="rotate(14 270.0 1099.8)"/><ellipse cx="270.0" cy="1121.8" rx="1.5" ry="2.7" fill="#f4f4f4" transform="rotate(14 270.0 1121.8)"/><ellipse cx="270.0" cy="1143.8" rx="1.5" ry="2.7" fill="#f4f4f4" transform="rotate(14 270.0 1143.8)"/><ellipse cx="270.0" cy="1165.8" rx="1.5" ry="2.7" fill="#f4f4f4" transform="rotate(14 270.0 1165.8)"/><ellipse cx="270.0" cy="1187.8" rx="1.5" ry="2.7" fill="#f4f4f4" transform="rotate(14 270.0 1187.8)"/><ellipse cx="270.0" cy="1209.8" rx="1.5" ry="2.7" fill="#f4f4f4" transform="rotate(14 270.0 1209.8)"/><ellipse cx="270.0" cy="1231.8" rx="1.5" ry="2.7" fill="#f4f4f4" transform="rotate(14 270.0 1231.8)"/><ellipse cx="270.0" cy="1253.8" rx="1.5" ry="2.7" fill="#f4f4f4" transform="rotate(14 270.0 1253.8)"/><ellipse cx="270.0" cy="1275.8" rx="1.5" ry="2.7" fill="#f4f4f4" transform="rotate(14 270.0 1275.8)"/><ellipse cx="270.0" cy="1297.8" rx="1.5" ry="2.7" fill="#f4f4f4" transform="rotate(14 270.0 1297.8)"/><ellipse cx="284" cy="1012" rx="2.2" ry="2.6" fill="#eee"/><rect x="283" y="1004" width="2" height="8" rx="1" fill="#eee"/><rect x="190" y="1052" width="2" height="9" fill="#f4f4f4"/><rect x="258" y="1015" width="2" height="9" fill="#f4f4f4"/><rect x="260" y="1134" width="2" height="9" fill="#f4f4f4"/><rect x="192" y="1172" width="2" height="9" fill="#f4f4f4"/><rect x="257" y="1252" width="2" height="9" fill="#f4f4f4"/><rect x="189" y="1292" width="2" height="9" fill="#f4f4f4"/><polygon points="352,922 688,984 687,1017 352,955" fill="#2c2c2c" /><polygon points="352,922 367,913 703,976 688,984" fill="#3d3d3d" /><polygon points="688,984 703,976 704,1010 687,1017" fill="#353535" /><line x1="352" y1="922.5" x2="688" y2="984.5" stroke="#4a4a4a" stroke-width="1" stroke-linecap="butt" /><polygon points="376,919 388,921 385,925 373,923" fill="#c2262d" /><polygon points="408.0,925.5 418.0,920.0 441.0,924.5 431.0,930.0" fill="#2a2a2a" /><polygon points="414.0,925.5 420.0,922.5 435.0,925.5 429.0,928.5" fill="#343434" /><circle cx="421.0" cy="925.0" r="0.8" fill="#111"/><circle cx="428.0" cy="926.3" r="0.8" fill="#111"/><polygon points="444.5,932.25 454.5,926.75 477.5,931.25 467.5,936.75" fill="#2a2a2a" /><polygon points="450.5,932.25 456.5,929.25 471.5,932.25 465.5,935.25" fill="#343434" /><circle cx="457.5" cy="931.75" r="0.8" fill="#111"/><circle cx="464.5" cy="933.05" r="0.8" fill="#111"/><polygon points="481.0,939.0 491.0,933.5 514.0,938.0 504.0,943.5" fill="#2a2a2a" /><polygon points="487.0,939.0 493.0,936.0 508.0,939.0 502.0,942.0" fill="#343434" /><circle cx="494.0" cy="938.5" r="0.8" fill="#111"/><circle cx="501.0" cy="939.8" r="0.8" fill="#111"/><polygon points="517.5,945.75 527.5,940.25 550.5,944.75 540.5,950.25" fill="#2a2a2a" /><polygon points="523.5,945.75 529.5,942.75 544.5,945.75 538.5,948.75" fill="#343434" /><circle cx="530.5" cy="945.25" r="0.8" fill="#111"/><circle cx="537.5" cy="946.55" r="0.8" fill="#111"/><polygon points="554.0,952.5 564.0,947.0 587.0,951.5 577.0,957.0" fill="#2a2a2a" /><polygon points="560.0,952.5 566.0,949.5 581.0,952.5 575.0,955.5" fill="#343434" /><circle cx="567.0" cy="952.0" r="0.8" fill="#111"/><circle cx="574.0" cy="953.3" r="0.8" fill="#111"/><polygon points="590.5,959.25 600.5,953.75 623.5,958.25 613.5,963.75" fill="#2a2a2a" /><polygon points="596.5,959.25 602.5,956.25 617.5,959.25 611.5,962.25" fill="#343434" /><circle cx="603.5" cy="958.75" r="0.8" fill="#111"/><circle cx="610.5" cy="960.05" r="0.8" fill="#111"/><polygon points="627.0,966.0 637.0,960.5 660.0,965.0 650.0,970.5" fill="#2a2a2a" /><polygon points="633.0,966.0 639.0,963.0 654.0,966.0 648.0,969.0" fill="#343434" /><circle cx="640.0" cy="965.5" r="0.8" fill="#111"/><circle cx="647.0" cy="966.8" r="0.8" fill="#111"/><polygon points="663.5,972.75 673.5,967.25 696.5,971.75 686.5,977.25" fill="#2a2a2a" /><polygon points="669.5,972.75 675.5,969.75 690.5,972.75 684.5,975.75" fill="#343434" /><circle cx="676.5" cy="972.25" r="0.8" fill="#111"/><circle cx="683.5" cy="973.55" r="0.8" fill="#111"/><circle cx="355" cy="958" r="3" fill="#151515"/><circle cx="361" cy="961" r="3" fill="#151515"/><circle cx="690" cy="1018" r="3" fill="#151515"/><circle cx="697" cy="1015" r="3" fill="#151515"/><circle cx="703" cy="1012" r="3" fill="#151515"/><polygon points="352,953 372,956 372,960 352,957" fill="#1c1c1c" /><polygon points="682,1012 704,1006 704,1012 684,1019" fill="#1c1c1c" /><polygon points="264,1046 436.0,1081.0 535.5,1026.5 365,995" fill="url(#meshEL)" /><polygon points="436.0,1081.0 608,1116 706,1058 535.5,1026.5" fill="url(#meshER)" /><line x1="436.0" y1="1081.0" x2="535.5" y2="1026.5" stroke="#222" stroke-width="1.4" stroke-linecap="butt" /><polygon points="366,989.5 706,1052.5 706,1060.5 363,997.5" fill="url(#gLip)" /><polygon points="363,997 706,1060 706,1063 359,1000" fill="#2a2a2a" /><polygon points="267,1043.5 364,994 373,999 281,1046.5" fill="#686868" /><line x1="279" y1="1047" x2="372" y2="999.5" stroke="#1f1f1f" stroke-width="1.4" stroke-linecap="butt" /><line x1="266" y1="1044.5" x2="363.5" y2="994.5" stroke="#2a2a2a" stroke-width="1.4" stroke-linecap="butt" /><line x1="608" y1="1118" x2="706" y2="1058" stroke="#1a1a1a" stroke-width="5.5" stroke-linecap="round" /><line x1="609" y1="1116.4" x2="705" y2="1056.4" stroke="#c4c4c4" stroke-width="1.4" stroke-linecap="butt" /><polygon points="264,1046 608,1116 608,1123.5 264,1053.5" fill="#181818" /><polygon points="268,1042.8 604,1112.8 608,1116.3 264,1046.3" fill="#6c6c6c" /><polygon points="264,1158 436.0,1194.0 535.5,1139.0 365,1107" fill="url(#meshEL)" /><polygon points="436.0,1194.0 608,1230 706,1171 535.5,1139.0" fill="url(#meshER)" /><line x1="436.0" y1="1194.0" x2="535.5" y2="1139.0" stroke="#222" stroke-width="1.4" stroke-linecap="butt" /><polygon points="366,1101.5 706,1165.5 706,1173.5 363,1109.5" fill="url(#gLip)" /><polygon points="363,1109 706,1173 706,1176 359,1112" fill="#2a2a2a" /><polygon points="267,1155.5 364,1106 373,1111 281,1158.5" fill="#686868" /><line x1="279" y1="1159" x2="372" y2="1111.5" stroke="#1f1f1f" stroke-width="1.4" stroke-linecap="butt" /><line x1="266" y1="1156.5" x2="363.5" y2="1106.5" stroke="#2a2a2a" stroke-width="1.4" stroke-linecap="butt" /><line x1="608" y1="1232" x2="706" y2="1171" stroke="#1a1a1a" stroke-width="5.5" stroke-linecap="round" /><line x1="609" y1="1230.4" x2="705" y2="1169.4" stroke="#c4c4c4" stroke-width="1.4" stroke-linecap="butt" /><polygon points="264,1158 608,1230 608,1237.5 264,1165.5" fill="#181818" /><polygon points="268,1154.8 604,1226.8 608,1230.3 264,1158.3" fill="#6c6c6c" /><polygon points="266,1289 437.0,1326.0 536.0,1266.5 366,1233" fill="url(#meshEL)" /><polygon points="437.0,1326.0 608,1363 706,1300 536.0,1266.5" fill="url(#meshER)" /><line x1="437.0" y1="1326.0" x2="536.0" y2="1266.5" stroke="#222" stroke-width="1.4" stroke-linecap="butt" /><polygon points="367,1227.5 706,1294.5 706,1302.5 364,1235.5" fill="url(#gLip)" /><polygon points="364,1235 706,1302 706,1305 360,1238" fill="#2a2a2a" /><polygon points="269,1286.5 365,1232 374,1237 283,1289.5" fill="#686868" /><line x1="281" y1="1290" x2="373" y2="1237.5" stroke="#1f1f1f" stroke-width="1.4" stroke-linecap="butt" /><line x1="268" y1="1287.5" x2="364.5" y2="1232.5" stroke="#2a2a2a" stroke-width="1.4" stroke-linecap="butt" /><line x1="608" y1="1365" x2="706" y2="1300" stroke="#1a1a1a" stroke-width="5.5" stroke-linecap="round" /><line x1="609" y1="1363.4" x2="705" y2="1298.4" stroke="#c4c4c4" stroke-width="1.4" stroke-linecap="butt" /><polygon points="266,1289 608,1363 608,1370.5 266,1296.5" fill="#181818" /><polygon points="270,1285.8 604,1359.8 608,1363.3 266,1289.3" fill="#6c6c6c" /><circle cx="481.5" cy="996" r="8.5" fill="none" stroke="#222" stroke-width="5.5"/><path d="M455.5 1005 L507.5 1005 Q511.5 1005 512.5 1009 L522.5 1057 Q523.5 1064 516.5 1064 L446.5 1064 Q439.5 1064 440.5 1057 L450.5 1009 Q451.5 1005 455.5 1005 Z" fill="#222"/><text x="481.5" y="1049.5" font-size="31" font-weight="bold" fill="#ffffff" text-anchor="middle" textLength="60" lengthAdjust="spacingAndGlyphs" stroke="#ffffff" stroke-width="1.1">33IB</text><circle cx="481.5" cy="1114" r="8.5" fill="none" stroke="#222" stroke-width="5.5"/><path d="M455.5 1123 L507.5 1123 Q511.5 1123 512.5 1127 L522.5 1175 Q523.5 1182 516.5 1182 L446.5 1182 Q439.5 1182 440.5 1175 L450.5 1127 Q451.5 1123 455.5 1123 Z" fill="#222"/><text x="481.5" y="1167.5" font-size="31" font-weight="bold" fill="#ffffff" text-anchor="middle" textLength="60" lengthAdjust="spacingAndGlyphs" stroke="#ffffff" stroke-width="1.1">33IB</text><circle cx="481.5" cy="1247" r="8.5" fill="none" stroke="#222" stroke-width="5.5"/><path d="M455.5 1256 L507.5 1256 Q511.5 1256 512.5 1260 L522.5 1308 Q523.5 1315 516.5 1315 L446.5 1315 Q439.5 1315 440.5 1308 L450.5 1260 Q451.5 1256 455.5 1256 Z" fill="#222"/><text x="481.5" y="1300.5" font-size="31" font-weight="bold" fill="#ffffff" text-anchor="middle" textLength="60" lengthAdjust="spacingAndGlyphs" stroke="#ffffff" stroke-width="1.1">33IB</text><line x1="372" y1="1334.875" x2="676" y2="1397.875" stroke="#181818" stroke-width="7.5" stroke-linecap="butt" /><line x1="372" y1="1331.5" x2="676" y2="1394.5" stroke="#5a5a5a" stroke-width="3.375" stroke-linecap="butt" /><line x1="374" y1="1333.625" x2="288" y2="1384.625" stroke="#181818" stroke-width="6.5" stroke-linecap="butt" /><line x1="374" y1="1330.7" x2="288" y2="1381.7" stroke="#5a5a5a" stroke-width="2.9250000000000003" stroke-linecap="butt" /><polygon points="285,1376 296,1373 300,1380 298,1388 290,1389 286,1384" fill="#1c1c1c" /><path d="M676 1397 L616 1457" stroke="#202020" stroke-width="5.5" fill="none" stroke-linecap="round" stroke-linejoin="round"/><path d="M674 1395 L614 1455" stroke="#5a5a5a" stroke-width="1.5" fill="none"/><path d="M362 1351 L655 1413" stroke="#1b1b1b" stroke-width="2.0" fill="none" stroke-linecap="round" stroke-linejoin="round"/><path d="M362 1351 L655 1413" stroke="#8a8a8a" stroke-width="0.44" fill="none" stroke-linecap="round" transform="translate(-0.2,-0.60)"/><path d="M356 1356 L648 1418" stroke="#1b1b1b" stroke-width="2.0" fill="none" stroke-linecap="round" stroke-linejoin="round"/><path d="M356 1356 L648 1418" stroke="#8a8a8a" stroke-width="0.44" fill="none" stroke-linecap="round" transform="translate(-0.2,-0.60)"/><path d="M304 1383 L389 1345 Q392 1343.5 396 1344.5 L418 1349 Q422 1350 418 1352.5 L318 1392 Q312 1393 304 1383" stroke="#1b1b1b" stroke-width="2.5" fill="none" stroke-linecap="round" stroke-linejoin="round"/><path d="M304 1383 L389 1345 Q392 1343.5 396 1344.5 L418 1349 Q422 1350 418 1352.5 L318 1392 Q312 1393 304 1383" stroke="#8a8a8a" stroke-width="0.55" fill="none" stroke-linecap="round" transform="translate(-0.2,-0.75)"/><path d="M392.6 1408 L464.6 1363 Q467.6 1361 462.6 1359.5 L420.6 1351 Q416.6 1350 412.6 1352.5 L345.6 1394.5" stroke="#1b1b1b" stroke-width="2.5" fill="none" stroke-linecap="round" stroke-linejoin="round"/><path d="M392.6 1408 L464.6 1363 Q467.6 1361 462.6 1359.5 L420.6 1351 Q416.6 1350 412.6 1352.5 L345.6 1394.5" stroke="#8a8a8a" stroke-width="0.55" fill="none" stroke-linecap="round" transform="translate(-0.2,-0.75)"/><path d="M345.6 1394.5 C339.6 1397.5 335.6 1395 339.6 1392 C352.6 1390 372.6 1404 392.6 1408" stroke="#1b1b1b" stroke-width="2.7" fill="none" stroke-linecap="round" stroke-linejoin="round"/><path d="M345.6 1394.5 C339.6 1397.5 335.6 1395 339.6 1392 C352.6 1390 372.6 1404 392.6 1408" stroke="#8a8a8a" stroke-width="0.59" fill="none" stroke-linecap="round" transform="translate(-0.2,-0.81)"/><path d="M476.6 1426 L548.6 1381 Q551.6 1379 546.6 1377.5 L504.6 1369 Q500.6 1368 496.6 1370.5 L429.6 1412.5" stroke="#1b1b1b" stroke-width="2.5" fill="none" stroke-linecap="round" stroke-linejoin="round"/><path d="M476.6 1426 L548.6 1381 Q551.6 1379 546.6 1377.5 L504.6 1369 Q500.6 1368 496.6 1370.5 L429.6 1412.5" stroke="#8a8a8a" stroke-width="0.55" fill="none" stroke-linecap="round" transform="translate(-0.2,-0.75)"/><path d="M429.6 1412.5 C423.6 1415.5 419.6 1413 423.6 1410 C436.6 1408 456.6 1422 476.6 1426" stroke="#1b1b1b" stroke-width="2.7" fill="none" stroke-linecap="round" stroke-linejoin="round"/><path d="M429.6 1412.5 C423.6 1415.5 419.6 1413 423.6 1410 C436.6 1408 456.6 1422 476.6 1426" stroke="#8a8a8a" stroke-width="0.59" fill="none" stroke-linecap="round" transform="translate(-0.2,-0.81)"/><path d="M560.6 1445 L632.6 1400 Q635.6 1398 630.6 1396.5 L588.6 1388 Q584.6 1387 580.6 1389.5 L513.6 1431.5" stroke="#1b1b1b" stroke-width="2.5" fill="none" stroke-linecap="round" stroke-linejoin="round"/><path d="M560.6 1445 L632.6 1400 Q635.6 1398 630.6 1396.5 L588.6 1388 Q584.6 1387 580.6 1389.5 L513.6 1431.5" stroke="#8a8a8a" stroke-width="0.55" fill="none" stroke-linecap="round" transform="translate(-0.2,-0.75)"/><path d="M513.6 1431.5 C507.6 1434.5 503.6 1432 507.6 1429 C520.6 1427 540.6 1441 560.6 1445" stroke="#1b1b1b" stroke-width="2.7" fill="none" stroke-linecap="round" stroke-linejoin="round"/><path d="M513.6 1431.5 C507.6 1434.5 503.6 1432 507.6 1429 C520.6 1427 540.6 1441 560.6 1445" stroke="#8a8a8a" stroke-width="0.59" fill="none" stroke-linecap="round" transform="translate(-0.2,-0.81)"/><path d="M610 1457 L636 1427 M646 1415 L593 1447.5" stroke="#1b1b1b" stroke-width="2.5" fill="none" stroke-linecap="round" stroke-linejoin="round"/><path d="M610 1457 L636 1427 M646 1415 L593 1447.5" stroke="#8a8a8a" stroke-width="0.55" fill="none" stroke-linecap="round" transform="translate(-0.2,-0.75)"/><path d="M593 1447.5 C587 1450.5 583 1448 587 1445 C600 1443 620 1457 610 1461" stroke="#1b1b1b" stroke-width="2.7" fill="none" stroke-linecap="round" stroke-linejoin="round"/><path d="M593 1447.5 C587 1450.5 583 1448 587 1445 C600 1443 620 1457 610 1461" stroke="#8a8a8a" stroke-width="0.59" fill="none" stroke-linecap="round" transform="translate(-0.2,-0.81)"/><polygon points="288,1353 293,1352.5 297,1356 297,1359 293,1358.5 290,1359.5 288,1357" fill="#222" /><polygon points="761,1040 761,1031 764,1028 774,1028 777,1031 777,1404 761,1412" fill="#2a2a2a" /><polygon points="763,1042 775,1042 775,1060 763,1064" fill="#202020" /><polygon points="677,1137 700,1074 762,1040 764,1410 677,1461" fill="url(#gPE)" /><line x1="677.6" y1="1137" x2="677.6" y2="1460" stroke="#454545" stroke-width="1.1" stroke-linecap="butt" /><ellipse cx="686.4" cy="1155.3" rx="1.5" ry="2.7" fill="#f4f4f4" transform="rotate(14 686.4 1155.3)"/><ellipse cx="686.4" cy="1178.1" rx="1.5" ry="2.7" fill="#f4f4f4" transform="rotate(14 686.4 1178.1)"/><ellipse cx="686.4" cy="1200.9" rx="1.5" ry="2.7" fill="#f4f4f4" transform="rotate(14 686.4 1200.9)"/><ellipse cx="686.4" cy="1223.7" rx="1.5" ry="2.7" fill="#f4f4f4" transform="rotate(14 686.4 1223.7)"/><ellipse cx="686.4" cy="1246.5" rx="1.5" ry="2.7" fill="#f4f4f4" transform="rotate(14 686.4 1246.5)"/><ellipse cx="686.4" cy="1269.3" rx="1.5" ry="2.7" fill="#f4f4f4" transform="rotate(14 686.4 1269.3)"/><ellipse cx="686.4" cy="1292.1" rx="1.5" ry="2.7" fill="#f4f4f4" transform="rotate(14 686.4 1292.1)"/><ellipse cx="686.4" cy="1314.9" rx="1.5" ry="2.7" fill="#f4f4f4" transform="rotate(14 686.4 1314.9)"/><ellipse cx="686.4" cy="1337.7" rx="1.5" ry="2.7" fill="#f4f4f4" transform="rotate(14 686.4 1337.7)"/><ellipse cx="686.4" cy="1360.5" rx="1.5" ry="2.7" fill="#f4f4f4" transform="rotate(14 686.4 1360.5)"/><ellipse cx="686.4" cy="1383.3" rx="1.5" ry="2.7" fill="#f4f4f4" transform="rotate(14 686.4 1383.3)"/><ellipse cx="686.4" cy="1406.1" rx="1.5" ry="2.7" fill="#f4f4f4" transform="rotate(14 686.4 1406.1)"/><ellipse cx="686.4" cy="1428.9" rx="1.5" ry="2.7" fill="#f4f4f4" transform="rotate(14 686.4 1428.9)"/><ellipse cx="698.0" cy="1148.5" rx="1.5" ry="2.7" fill="#f4f4f4" transform="rotate(14 698.0 1148.5)"/><ellipse cx="698.0" cy="1171.3" rx="1.5" ry="2.7" fill="#f4f4f4" transform="rotate(14 698.0 1171.3)"/><ellipse cx="698.0" cy="1194.1" rx="1.5" ry="2.7" fill="#f4f4f4" transform="rotate(14 698.0 1194.1)"/><ellipse cx="698.0" cy="1216.9" rx="1.5" ry="2.7" fill="#f4f4f4" transform="rotate(14 698.0 1216.9)"/><ellipse cx="698.0" cy="1239.7" rx="1.5" ry="2.7" fill="#f4f4f4" transform="rotate(14 698.0 1239.7)"/><ellipse cx="698.0" cy="1262.5" rx="1.5" ry="2.7" fill="#f4f4f4" transform="rotate(14 698.0 1262.5)"/><ellipse cx="698.0" cy="1285.3" rx="1.5" ry="2.7" fill="#f4f4f4" transform="rotate(14 698.0 1285.3)"/><ellipse cx="698.0" cy="1308.1" rx="1.5" ry="2.7" fill="#f4f4f4" transform="rotate(14 698.0 1308.1)"/><ellipse cx="698.0" cy="1330.9" rx="1.5" ry="2.7" fill="#f4f4f4" transform="rotate(14 698.0 1330.9)"/><ellipse cx="698.0" cy="1353.7" rx="1.5" ry="2.7" fill="#f4f4f4" transform="rotate(14 698.0 1353.7)"/><ellipse cx="698.0" cy="1376.5" rx="1.5" ry="2.7" fill="#f4f4f4" transform="rotate(14 698.0 1376.5)"/><ellipse cx="698.0" cy="1399.3" rx="1.5" ry="2.7" fill="#f4f4f4" transform="rotate(14 698.0 1399.3)"/><ellipse cx="698.0" cy="1422.1" rx="1.5" ry="2.7" fill="#f4f4f4" transform="rotate(14 698.0 1422.1)"/><ellipse cx="709.6" cy="1141.7" rx="1.5" ry="2.7" fill="#f4f4f4" transform="rotate(14 709.6 1141.7)"/><ellipse cx="709.6" cy="1164.5" rx="1.5" ry="2.7" fill="#f4f4f4" transform="rotate(14 709.6 1164.5)"/><ellipse cx="709.6" cy="1187.3" rx="1.5" ry="2.7" fill="#f4f4f4" transform="rotate(14 709.6 1187.3)"/><ellipse cx="709.6" cy="1210.1" rx="1.5" ry="2.7" fill="#f4f4f4" transform="rotate(14 709.6 1210.1)"/><ellipse cx="709.6" cy="1232.9" rx="1.5" ry="2.7" fill="#f4f4f4" transform="rotate(14 709.6 1232.9)"/><ellipse cx="709.6" cy="1255.7" rx="1.5" ry="2.7" fill="#f4f4f4" transform="rotate(14 709.6 1255.7)"/><ellipse cx="709.6" cy="1278.5" rx="1.5" ry="2.7" fill="#f4f4f4" transform="rotate(14 709.6 1278.5)"/><ellipse cx="709.6" cy="1301.3" rx="1.5" ry="2.7" fill="#f4f4f4" transform="rotate(14 709.6 1301.3)"/><ellipse cx="709.6" cy="1324.1" rx="1.5" ry="2.7" fill="#f4f4f4" transform="rotate(14 709.6 1324.1)"/><ellipse cx="709.6" cy="1346.9" rx="1.5" ry="2.7" fill="#f4f4f4" transform="rotate(14 709.6 1346.9)"/><ellipse cx="709.6" cy="1369.7" rx="1.5" ry="2.7" fill="#f4f4f4" transform="rotate(14 709.6 1369.7)"/><ellipse cx="709.6" cy="1392.5" rx="1.5" ry="2.7" fill="#f4f4f4" transform="rotate(14 709.6 1392.5)"/><ellipse cx="709.6" cy="1415.3" rx="1.5" ry="2.7" fill="#f4f4f4" transform="rotate(14 709.6 1415.3)"/><ellipse cx="721.2" cy="1134.9" rx="1.5" ry="2.7" fill="#f4f4f4" transform="rotate(14 721.2 1134.9)"/><ellipse cx="721.2" cy="1157.7" rx="1.5" ry="2.7" fill="#f4f4f4" transform="rotate(14 721.2 1157.7)"/><ellipse cx="721.2" cy="1180.5" rx="1.5" ry="2.7" fill="#f4f4f4" transform="rotate(14 721.2 1180.5)"/><ellipse cx="721.2" cy="1203.3" rx="1.5" ry="2.7" fill="#f4f4f4" transform="rotate(14 721.2 1203.3)"/><ellipse cx="721.2" cy="1226.1" rx="1.5" ry="2.7" fill="#f4f4f4" transform="rotate(14 721.2 1226.1)"/><ellipse cx="721.2" cy="1248.9" rx="1.5" ry="2.7" fill="#f4f4f4" transform="rotate(14 721.2 1248.9)"/><ellipse cx="721.2" cy="1271.7" rx="1.5" ry="2.7" fill="#f4f4f4" transform="rotate(14 721.2 1271.7)"/><ellipse cx="721.2" cy="1294.5" rx="1.5" ry="2.7" fill="#f4f4f4" transform="rotate(14 721.2 1294.5)"/><ellipse cx="721.2" cy="1317.3" rx="1.5" ry="2.7" fill="#f4f4f4" transform="rotate(14 721.2 1317.3)"/><ellipse cx="721.2" cy="1340.1" rx="1.5" ry="2.7" fill="#f4f4f4" transform="rotate(14 721.2 1340.1)"/><ellipse cx="721.2" cy="1362.9" rx="1.5" ry="2.7" fill="#f4f4f4" transform="rotate(14 721.2 1362.9)"/><ellipse cx="721.2" cy="1385.7" rx="1.5" ry="2.7" fill="#f4f4f4" transform="rotate(14 721.2 1385.7)"/><ellipse cx="721.2" cy="1408.5" rx="1.5" ry="2.7" fill="#f4f4f4" transform="rotate(14 721.2 1408.5)"/><ellipse cx="732.8" cy="1128.1" rx="1.5" ry="2.7" fill="#f4f4f4" transform="rotate(14 732.8 1128.1)"/><ellipse cx="732.8" cy="1150.9" rx="1.5" ry="2.7" fill="#f4f4f4" transform="rotate(14 732.8 1150.9)"/><ellipse cx="732.8" cy="1173.7" rx="1.5" ry="2.7" fill="#f4f4f4" transform="rotate(14 732.8 1173.7)"/><ellipse cx="732.8" cy="1196.5" rx="1.5" ry="2.7" fill="#f4f4f4" transform="rotate(14 732.8 1196.5)"/><ellipse cx="732.8" cy="1219.3" rx="1.5" ry="2.7" fill="#f4f4f4" transform="rotate(14 732.8 1219.3)"/><ellipse cx="732.8" cy="1242.1" rx="1.5" ry="2.7" fill="#f4f4f4" transform="rotate(14 732.8 1242.1)"/><ellipse cx="732.8" cy="1264.9" rx="1.5" ry="2.7" fill="#f4f4f4" transform="rotate(14 732.8 1264.9)"/><ellipse cx="732.8" cy="1287.7" rx="1.5" ry="2.7" fill="#f4f4f4" transform="rotate(14 732.8 1287.7)"/><ellipse cx="732.8" cy="1310.5" rx="1.5" ry="2.7" fill="#f4f4f4" transform="rotate(14 732.8 1310.5)"/><ellipse cx="732.8" cy="1333.3" rx="1.5" ry="2.7" fill="#f4f4f4" transform="rotate(14 732.8 1333.3)"/><ellipse cx="732.8" cy="1356.1" rx="1.5" ry="2.7" fill="#f4f4f4" transform="rotate(14 732.8 1356.1)"/><ellipse cx="732.8" cy="1378.9" rx="1.5" ry="2.7" fill="#f4f4f4" transform="rotate(14 732.8 1378.9)"/><ellipse cx="732.8" cy="1401.7" rx="1.5" ry="2.7" fill="#f4f4f4" transform="rotate(14 732.8 1401.7)"/><ellipse cx="744.4" cy="1121.3" rx="1.5" ry="2.7" fill="#f4f4f4" transform="rotate(14 744.4 1121.3)"/><ellipse cx="744.4" cy="1144.1" rx="1.5" ry="2.7" fill="#f4f4f4" transform="rotate(14 744.4 1144.1)"/><ellipse cx="744.4" cy="1166.9" rx="1.5" ry="2.7" fill="#f4f4f4" transform="rotate(14 744.4 1166.9)"/><ellipse cx="744.4" cy="1189.7" rx="1.5" ry="2.7" fill="#f4f4f4" transform="rotate(14 744.4 1189.7)"/><ellipse cx="744.4" cy="1212.5" rx="1.5" ry="2.7" fill="#f4f4f4" transform="rotate(14 744.4 1212.5)"/><ellipse cx="744.4" cy="1235.3" rx="1.5" ry="2.7" fill="#f4f4f4" transform="rotate(14 744.4 1235.3)"/><ellipse cx="744.4" cy="1258.1" rx="1.5" ry="2.7" fill="#f4f4f4" transform="rotate(14 744.4 1258.1)"/><ellipse cx="744.4" cy="1280.9" rx="1.5" ry="2.7" fill="#f4f4f4" transform="rotate(14 744.4 1280.9)"/><ellipse cx="744.4" cy="1303.7" rx="1.5" ry="2.7" fill="#f4f4f4" transform="rotate(14 744.4 1303.7)"/><ellipse cx="744.4" cy="1326.5" rx="1.5" ry="2.7" fill="#f4f4f4" transform="rotate(14 744.4 1326.5)"/><ellipse cx="744.4" cy="1349.3" rx="1.5" ry="2.7" fill="#f4f4f4" transform="rotate(14 744.4 1349.3)"/><ellipse cx="744.4" cy="1372.1" rx="1.5" ry="2.7" fill="#f4f4f4" transform="rotate(14 744.4 1372.1)"/><ellipse cx="744.4" cy="1394.9" rx="1.5" ry="2.7" fill="#f4f4f4" transform="rotate(14 744.4 1394.9)"/><ellipse cx="756.0" cy="1114.5" rx="1.5" ry="2.7" fill="#f4f4f4" transform="rotate(14 756.0 1114.5)"/><ellipse cx="756.0" cy="1137.3" rx="1.5" ry="2.7" fill="#f4f4f4" transform="rotate(14 756.0 1137.3)"/><ellipse cx="756.0" cy="1160.1" rx="1.5" ry="2.7" fill="#f4f4f4" transform="rotate(14 756.0 1160.1)"/><ellipse cx="756.0" cy="1182.9" rx="1.5" ry="2.7" fill="#f4f4f4" transform="rotate(14 756.0 1182.9)"/><ellipse cx="756.0" cy="1205.7" rx="1.5" ry="2.7" fill="#f4f4f4" transform="rotate(14 756.0 1205.7)"/><ellipse cx="756.0" cy="1228.5" rx="1.5" ry="2.7" fill="#f4f4f4" transform="rotate(14 756.0 1228.5)"/><ellipse cx="756.0" cy="1251.3" rx="1.5" ry="2.7" fill="#f4f4f4" transform="rotate(14 756.0 1251.3)"/><ellipse cx="756.0" cy="1274.1" rx="1.5" ry="2.7" fill="#f4f4f4" transform="rotate(14 756.0 1274.1)"/><ellipse cx="756.0" cy="1296.9" rx="1.5" ry="2.7" fill="#f4f4f4" transform="rotate(14 756.0 1296.9)"/><ellipse cx="756.0" cy="1319.7" rx="1.5" ry="2.7" fill="#f4f4f4" transform="rotate(14 756.0 1319.7)"/><ellipse cx="756.0" cy="1342.5" rx="1.5" ry="2.7" fill="#f4f4f4" transform="rotate(14 756.0 1342.5)"/><ellipse cx="756.0" cy="1365.3" rx="1.5" ry="2.7" fill="#f4f4f4" transform="rotate(14 756.0 1365.3)"/><ellipse cx="756.0" cy="1388.1" rx="1.5" ry="2.7" fill="#f4f4f4" transform="rotate(14 756.0 1388.1)"/><rect x="694" y="1150" width="2" height="9" fill="#f4f4f4"/><rect x="757" y="1108" width="2" height="9" fill="#f4f4f4"/><rect x="758" y="1230" width="2" height="9" fill="#f4f4f4"/><rect x="696" y="1275" width="2" height="9" fill="#f4f4f4"/><rect x="756" y="1355" width="2" height="9" fill="#f4f4f4"/><rect x="694" y="1395" width="2" height="9" fill="#f4f4f4"/><path d="M858.0 1113.0 L840.0 1137.5 L839.2 1127.0" stroke="#1a1a1a" stroke-width="2.295" fill="none" stroke-linecap="round" stroke-linejoin="round"/><path d="M853.5 1114.0 L843.5 1127.5" stroke="#1a1a1a" stroke-width="1.89" fill="none" stroke-linecap="round" stroke-linejoin="round"/><path d="M851.3 1104.5 L851.6 1111.4 L961.0 1136.7 L973.2 1133.7" stroke="#1a1a1a" stroke-width="2.7" fill="none" stroke-linecap="round" stroke-linejoin="round"/><path d="M851.3 1104.5 L851.6 1111.4 L961.0 1136.7 L973.2 1133.7" stroke="#9a9a9a" stroke-width="0.59" fill="none" stroke-linecap="round" stroke-linejoin="round" transform="translate(0,-0.68)"/><path d="M832.9 1119.0 L833.4 1124.5 Q834.0 1128.0 838.0 1127.6 Q842.8 1126.6 841.6 1123.0 L840.5 1122.2 L948.7 1147.5 L960.2 1145.2" stroke="#1a1a1a" stroke-width="2.7" fill="none" stroke-linecap="round" stroke-linejoin="round"/><path d="M832.9 1119.0 L833.4 1124.5 Q834.0 1128.0 838.0 1127.6 Q842.8 1126.6 841.6 1123.0 L840.5 1122.2 L948.7 1147.5 L960.2 1145.2" stroke="#9a9a9a" stroke-width="0.59" fill="none" stroke-linecap="round" stroke-linejoin="round" transform="translate(0,-0.68)"/><path d="M812.8 1142.9 L794.8 1167.4 L794.0 1156.9" stroke="#1a1a1a" stroke-width="2.295" fill="none" stroke-linecap="round" stroke-linejoin="round"/><path d="M808.3 1143.9 L798.3 1157.4" stroke="#1a1a1a" stroke-width="1.89" fill="none" stroke-linecap="round" stroke-linejoin="round"/><path d="M806.1 1134.4 L806.4 1141.3 L915.8 1166.6 L928.0 1163.6" stroke="#1a1a1a" stroke-width="2.7" fill="none" stroke-linecap="round" stroke-linejoin="round"/><path d="M806.1 1134.4 L806.4 1141.3 L915.8 1166.6 L928.0 1163.6" stroke="#9a9a9a" stroke-width="0.59" fill="none" stroke-linecap="round" stroke-linejoin="round" transform="translate(0,-0.68)"/><path d="M787.7 1148.9 L788.2 1154.4 Q788.8 1157.9 792.8 1157.5 Q797.6 1156.5 796.4 1152.9 L795.3 1152.1 L903.5 1177.4 L915.0 1175.1" stroke="#1a1a1a" stroke-width="2.7" fill="none" stroke-linecap="round" stroke-linejoin="round"/><path d="M787.7 1148.9 L788.2 1154.4 Q788.8 1157.9 792.8 1157.5 Q797.6 1156.5 796.4 1152.9 L795.3 1152.1 L903.5 1177.4 L915.0 1175.1" stroke="#9a9a9a" stroke-width="0.59" fill="none" stroke-linecap="round" stroke-linejoin="round" transform="translate(0,-0.68)"/><path d="M831.5 1219.6 L831.9 1225.7 Q832.1 1227.7 834.3 1227.9 L842.3 1228.8" stroke="#1a1a1a" stroke-width="2.8" fill="none" stroke-linecap="round" stroke-linejoin="round"/><path d="M849.3 1222.2 L844.3 1229.7" stroke="#1a1a1a" stroke-width="1.9599999999999997" fill="none" stroke-linecap="round" stroke-linejoin="round"/><path d="M843.8 1220.4 L952.3 1244.1 L967.6 1238.0" stroke="#1a1a1a" stroke-width="2.8" fill="none" stroke-linecap="round" stroke-linejoin="round"/><path d="M843.8 1220.4 L952.3 1244.1 L967.6 1238.0" stroke="#9a9a9a" stroke-width="0.62" fill="none" stroke-linecap="round" stroke-linejoin="round" transform="translate(0,-0.70)"/><path d="M843.3 1212.7 L843.3 1235.7" stroke="#1a1a1a" stroke-width="3.2199999999999998" fill="none" stroke-linecap="round" stroke-linejoin="round"/><path d="M786.6 1248.7 L787.0 1254.8 Q787.2 1256.8 789.4 1257.0 L797.4 1257.9" stroke="#1a1a1a" stroke-width="2.8" fill="none" stroke-linecap="round" stroke-linejoin="round"/><path d="M804.4 1251.3 L799.4 1258.8" stroke="#1a1a1a" stroke-width="1.9599999999999997" fill="none" stroke-linecap="round" stroke-linejoin="round"/><path d="M798.9 1249.5 L907.4 1273.2 L922.7 1267.1" stroke="#1a1a1a" stroke-width="2.8" fill="none" stroke-linecap="round" stroke-linejoin="round"/><path d="M798.9 1249.5 L907.4 1273.2 L922.7 1267.1" stroke="#9a9a9a" stroke-width="0.62" fill="none" stroke-linecap="round" stroke-linejoin="round" transform="translate(0,-0.70)"/><path d="M798.4 1241.8 L798.4 1264.8" stroke="#1a1a1a" stroke-width="3.2199999999999998" fill="none" stroke-linecap="round" stroke-linejoin="round"/><path d="M138.0 1400.6 L149.0 1393 Q154.0 1389.5 151.5 1396 L139.0 1421 C131.0 1436 139.0 1444 148.0 1444 C155.0 1444 160.0 1438 165.0 1432.5" stroke="#151515" stroke-width="3.0" fill="none" stroke-linecap="round" stroke-linejoin="round"/><path d="M138.0 1400.6 L149.0 1393 Q154.0 1389.5 151.5 1396 L139.0 1421 C131.0 1436 139.0 1444 148.0 1444 C155.0 1444 160.0 1438 165.0 1432.5" stroke="#666" stroke-width="0.6" fill="none" transform="translate(-0.6,-0.3)"/><path d="M172.8 1400.6 L183.8 1393 Q188.8 1389.5 186.3 1396 L173.8 1421 C165.8 1436 173.8 1444 182.8 1444 C189.8 1444 194.8 1438 199.8 1432.5" stroke="#151515" stroke-width="3.0" fill="none" stroke-linecap="round" stroke-linejoin="round"/><path d="M172.8 1400.6 L183.8 1393 Q188.8 1389.5 186.3 1396 L173.8 1421 C165.8 1436 173.8 1444 182.8 1444 C189.8 1444 194.8 1438 199.8 1432.5" stroke="#666" stroke-width="0.6" fill="none" transform="translate(-0.6,-0.3)"/><path d="M207.6 1400.6 L218.6 1393 Q223.6 1389.5 221.1 1396 L208.6 1421 C200.6 1436 208.6 1444 217.6 1444 C224.6 1444 229.6 1438 234.6 1432.5" stroke="#151515" stroke-width="3.0" fill="none" stroke-linecap="round" stroke-linejoin="round"/><path d="M207.6 1400.6 L218.6 1393 Q223.6 1389.5 221.1 1396 L208.6 1421 C200.6 1436 208.6 1444 217.6 1444 C224.6 1444 229.6 1438 234.6 1432.5" stroke="#666" stroke-width="0.6" fill="none" transform="translate(-0.6,-0.3)"/><path d="M242.39999999999998 1400.6 L253.39999999999998 1393 Q258.4 1389.5 255.89999999999998 1396 L243.39999999999998 1421 C235.39999999999998 1436 243.39999999999998 1444 252.39999999999998 1444 C259.4 1444 264.4 1438 269.4 1432.5" stroke="#151515" stroke-width="3.0" fill="none" stroke-linecap="round" stroke-linejoin="round"/><path d="M242.39999999999998 1400.6 L253.39999999999998 1393 Q258.4 1389.5 255.89999999999998 1396 L243.39999999999998 1421 C235.39999999999998 1436 243.39999999999998 1444 252.39999999999998 1444 C259.4 1444 264.4 1438 269.4 1432.5" stroke="#666" stroke-width="0.6" fill="none" transform="translate(-0.6,-0.3)"/></g>
<g id="sec_50circles"><g clip-path="url(#c1)"><polygon points="97.2,633.3 119.7,627.3 139.7,627.3 139.7,673.2 97.2,673.2" fill="#222" /><polygon points="106.7,629.9 116.3,627.3 117.1,635.9 107.6,636.8" fill="#e0a020" /><line x1="100.7" y1="654.1" x2="101.0" y2="668.0" stroke="#444" stroke-width="0.9" stroke-linecap="butt" /><line x1="106.7" y1="654.1" x2="107.1" y2="668.0" stroke="#444" stroke-width="0.9" stroke-linecap="butt" /><line x1="112.8" y1="654.1" x2="113.1" y2="668.0" stroke="#444" stroke-width="0.9" stroke-linecap="butt" /><line x1="118.9" y1="654.1" x2="119.2" y2="668.0" stroke="#444" stroke-width="0.9" stroke-linecap="butt" /><line x1="124.9" y1="654.1" x2="125.3" y2="668.0" stroke="#444" stroke-width="0.9" stroke-linecap="butt" /><line x1="131.0" y1="654.1" x2="131.3" y2="668.0" stroke="#444" stroke-width="0.9" stroke-linecap="butt" /><polygon points="79.9,666.3 139.7,666.3 139.7,680.1 81.6,676.7" fill="#1d1d1d" /><line x1="82.5" y1="668.9" x2="84.2" y2="677.5" stroke="#f0f0f0" stroke-width="1.3" stroke-linecap="butt" /><line x1="85.1" y1="668.9" x2="86.8" y2="677.5" stroke="#f0f0f0" stroke-width="1.3" stroke-linecap="butt" /><line x1="87.7" y1="668.9" x2="89.4" y2="677.5" stroke="#f0f0f0" stroke-width="1.3" stroke-linecap="butt" /><line x1="90.3" y1="668.9" x2="92.0" y2="677.5" stroke="#f0f0f0" stroke-width="1.3" stroke-linecap="butt" /><line x1="92.9" y1="668.9" x2="94.6" y2="677.5" stroke="#f0f0f0" stroke-width="1.3" stroke-linecap="butt" /><line x1="95.5" y1="668.9" x2="97.2" y2="677.5" stroke="#f0f0f0" stroke-width="1.3" stroke-linecap="butt" /><line x1="98.1" y1="668.9" x2="99.8" y2="677.5" stroke="#f0f0f0" stroke-width="1.3" stroke-linecap="butt" /><line x1="100.7" y1="668.9" x2="102.4" y2="677.5" stroke="#f0f0f0" stroke-width="1.3" stroke-linecap="butt" /><line x1="103.3" y1="668.9" x2="105.0" y2="677.5" stroke="#f0f0f0" stroke-width="1.3" stroke-linecap="butt" /><line x1="105.9" y1="668.9" x2="107.6" y2="677.5" stroke="#f0f0f0" stroke-width="1.3" stroke-linecap="butt" /><line x1="108.5" y1="668.9" x2="110.2" y2="677.5" stroke="#f0f0f0" stroke-width="1.3" stroke-linecap="butt" /><line x1="111.1" y1="668.9" x2="112.8" y2="677.5" stroke="#f0f0f0" stroke-width="1.3" stroke-linecap="butt" /><line x1="113.7" y1="668.9" x2="115.4" y2="677.5" stroke="#f0f0f0" stroke-width="1.3" stroke-linecap="butt" /><line x1="116.3" y1="668.9" x2="118.0" y2="677.5" stroke="#f0f0f0" stroke-width="1.3" stroke-linecap="butt" /><line x1="118.9" y1="668.9" x2="120.6" y2="677.5" stroke="#f0f0f0" stroke-width="1.3" stroke-linecap="butt" /><line x1="121.5" y1="668.9" x2="123.2" y2="677.5" stroke="#f0f0f0" stroke-width="1.3" stroke-linecap="butt" /><line x1="124.1" y1="668.9" x2="125.8" y2="677.5" stroke="#f0f0f0" stroke-width="1.3" stroke-linecap="butt" /><line x1="126.7" y1="668.9" x2="128.4" y2="677.5" stroke="#f0f0f0" stroke-width="1.3" stroke-linecap="butt" /><line x1="129.3" y1="668.9" x2="131.0" y2="677.5" stroke="#f0f0f0" stroke-width="1.3" stroke-linecap="butt" /><line x1="131.9" y1="668.9" x2="133.6" y2="677.5" stroke="#f0f0f0" stroke-width="1.3" stroke-linecap="butt" /><line x1="134.5" y1="668.9" x2="136.2" y2="677.5" stroke="#f0f0f0" stroke-width="1.3" stroke-linecap="butt" /><line x1="137.1" y1="668.9" x2="138.8" y2="677.5" stroke="#f0f0f0" stroke-width="1.3" stroke-linecap="butt" /><polygon points="71.2,674.1 139.7,687.1 139.7,695.7 71.2,681.9" fill="#1f1f1f" /><path d="M71.2 694.0 L139.7 709.6" stroke="#1c1c1c" stroke-width="1.8" fill="none" stroke-linecap="round" stroke-linejoin="round"/><path d="M71.2 694.0 L139.7 709.6" stroke="#7a7a7a" stroke-width="0.40" fill="none" stroke-linecap="round" stroke-linejoin="round" transform="translate(-0.1,-0.54)"/><path d="M71.2 698.3 L139.7 713.9" stroke="#1c1c1c" stroke-width="1.6" fill="none" stroke-linecap="round" stroke-linejoin="round"/><path d="M71.2 698.3 L139.7 713.9" stroke="#7a7a7a" stroke-width="0.35" fill="none" stroke-linecap="round" stroke-linejoin="round" transform="translate(-0.1,-0.48)"/><path d="M72.1 719.1 L112.8 692.3" stroke="#1c1c1c" stroke-width="2.0" fill="none" stroke-linecap="round" stroke-linejoin="round"/><path d="M72.1 719.1 L112.8 692.3" stroke="#7a7a7a" stroke-width="0.44" fill="none" stroke-linecap="round" stroke-linejoin="round" transform="translate(-0.1,-0.60)"/><path d="M79.0 757.2 L139.7 724.3" stroke="#1c1c1c" stroke-width="2.2" fill="none" stroke-linecap="round" stroke-linejoin="round"/><path d="M79.0 757.2 L139.7 724.3" stroke="#7a7a7a" stroke-width="0.48" fill="none" stroke-linecap="round" stroke-linejoin="round" transform="translate(-0.1,-0.66)"/><path d="M79.0 757.2 L83.3 759.0 L97.2 752.0" stroke="#1c1c1c" stroke-width="2.0" fill="none" stroke-linecap="round" stroke-linejoin="round"/><path d="M79.0 757.2 L83.3 759.0 L97.2 752.0" stroke="#7a7a7a" stroke-width="0.44" fill="none" stroke-linecap="round" stroke-linejoin="round" transform="translate(-0.1,-0.60)"/><path d="M139.7 763.3 L121.5 760.7 Q116.3 762.4 119.7 766.8 Q126.7 768.5 139.7 765.0" stroke="#1c1c1c" stroke-width="2.4" fill="none" stroke-linecap="round" stroke-linejoin="round"/><path d="M139.7 763.3 L121.5 760.7 Q116.3 762.4 119.7 766.8 Q126.7 768.5 139.7 765.0" stroke="#7a7a7a" stroke-width="0.53" fill="none" stroke-linecap="round" stroke-linejoin="round" transform="translate(-0.1,-0.72)"/><polygon points="139.7,607.3 254.0,607.3 254.0,713.9 139.7,791.9" fill="#262626" /><line x1="140.0" y1="616.0" x2="140.0" y2="791.6" stroke="#3a3a3a" stroke-width="1" stroke-linecap="butt" /><ellipse cx="151.8" cy="622.1" rx="1.0" ry="2.0" fill="#999" transform="rotate(22 151.8 622.1)"/><ellipse cx="178.6" cy="627.3" rx="1.0" ry="2.0" fill="#999" transform="rotate(22 178.6 627.3)"/><ellipse cx="192.5" cy="619.5" rx="1.0" ry="2.0" fill="#999" transform="rotate(22 192.5 619.5)"/><ellipse cx="216.8" cy="627.3" rx="1.0" ry="2.0" fill="#999" transform="rotate(22 216.8 627.3)"/><ellipse cx="203.8" cy="636.8" rx="1.0" ry="2.0" fill="#999" transform="rotate(22 203.8 636.8)"/><ellipse cx="230.6" cy="646.3" rx="1.4" ry="2.6" fill="#f0f0f0" transform="rotate(22 230.6 646.3)"/><ellipse cx="178.6" cy="655.0" rx="1.4" ry="2.6" fill="#f0f0f0" transform="rotate(22 178.6 655.0)"/><ellipse cx="217.6" cy="655.9" rx="1.4" ry="2.6" fill="#f0f0f0" transform="rotate(22 217.6 655.9)"/><ellipse cx="164.8" cy="663.7" rx="1.4" ry="2.6" fill="#f0f0f0" transform="rotate(22 164.8 663.7)"/><ellipse cx="203.8" cy="664.5" rx="1.4" ry="2.6" fill="#f0f0f0" transform="rotate(22 203.8 664.5)"/><ellipse cx="190.8" cy="673.2" rx="1.4" ry="2.6" fill="#f0f0f0" transform="rotate(22 190.8 673.2)"/><ellipse cx="151.8" cy="674.1" rx="1.4" ry="2.6" fill="#f0f0f0" transform="rotate(22 151.8 674.1)"/><ellipse cx="230.6" cy="680.1" rx="1.4" ry="2.6" fill="#f0f0f0" transform="rotate(22 230.6 680.1)"/><ellipse cx="177.8" cy="681.0" rx="1.4" ry="2.6" fill="#f0f0f0" transform="rotate(22 177.8 681.0)"/><ellipse cx="217.6" cy="681.0" rx="1.4" ry="2.6" fill="#f0f0f0" transform="rotate(22 217.6 681.0)"/><ellipse cx="203.8" cy="689.7" rx="1.4" ry="2.6" fill="#f0f0f0" transform="rotate(22 203.8 689.7)"/><ellipse cx="197.7" cy="690.5" rx="1.4" ry="2.6" fill="#f0f0f0" transform="rotate(22 197.7 690.5)"/><ellipse cx="230.6" cy="697.5" rx="1.4" ry="2.6" fill="#f0f0f0" transform="rotate(22 230.6 697.5)"/><ellipse cx="150.9" cy="700.1" rx="1.4" ry="2.6" fill="#f0f0f0" transform="rotate(22 150.9 700.1)"/><ellipse cx="177.8" cy="707.9" rx="1.4" ry="2.6" fill="#f0f0f0" transform="rotate(22 177.8 707.9)"/><ellipse cx="164.8" cy="691.4" rx="1.4" ry="2.6" fill="#f0f0f0" transform="rotate(22 164.8 691.4)"/><ellipse cx="203.8" cy="709.6" rx="1.4" ry="2.6" fill="#f0f0f0" transform="rotate(22 203.8 709.6)"/><ellipse cx="190.8" cy="724.3" rx="1.4" ry="2.6" fill="#f0f0f0" transform="rotate(22 190.8 724.3)"/><ellipse cx="177.8" cy="733.0" rx="1.4" ry="2.6" fill="#f0f0f0" transform="rotate(22 177.8 733.0)"/><ellipse cx="150.9" cy="725.2" rx="1.4" ry="2.6" fill="#f0f0f0" transform="rotate(22 150.9 725.2)"/><ellipse cx="150.1" cy="751.2" rx="1.4" ry="2.6" fill="#f0f0f0" transform="rotate(22 150.1 751.2)"/><ellipse cx="190.8" cy="740.8" rx="1.4" ry="2.6" fill="#f0f0f0" transform="rotate(22 190.8 740.8)"/><circle cx="144.0" cy="692.3" r="2.6" fill="#111"/><circle cx="252.3" cy="709.6" r="2.6" fill="#111"/><path d="M161.3 718.2 L161.3 777.2 C163.9 789.3 176.9 789.3 178.9 789.3 C187.3 787.6 192.5 777.2 194.2 766.8" stroke="#151515" stroke-width="4.4" fill="none" stroke-linecap="round"/><path d="M161.3 718.2 L161.3 777.2 C163.9 789.3 176.9 789.3 178.9 789.3 C187.3 787.6 192.5 777.2 194.2 766.8" stroke="#666" stroke-width="0.8" fill="none" transform="translate(0.9,0)"/><path d="M235.8 666.3 L235.8 723.4 C238.4 736.4 250.6 737.3 252.6 737.3 C261.0 736.4 267.0 725.2 268.8 714.8" stroke="#151515" stroke-width="4.4" fill="none" stroke-linecap="round"/><path d="M235.8 666.3 L235.8 723.4 C238.4 736.4 250.6 737.3 252.6 737.3 C261.0 736.4 267.0 725.2 268.8 714.8" stroke="#666" stroke-width="0.8" fill="none" transform="translate(0.9,0)"/><path d="M158.8 717.7 L163.8 723.7 M163.8 717.7 L158.8 723.7" stroke="#bbb" stroke-width="1.2"/><path d="M232.5 665.7 L237.5 671.7 M237.5 665.7 L232.5 671.7" stroke="#bbb" stroke-width="1.2"/></g><g clip-path="url(#c2)"><rect x="440" y="605" width="215" height="215" fill="url(#meshC2)"/><polygon points="446.0,717.4 483.3,728.6 477.2,736.4 455.5,746.8 446.0,746.0" fill="#e6e6e6" /><line x1="532.7" y1="645.5" x2="583.8" y2="617.7" stroke="#151515" stroke-width="1.7" stroke-linecap="butt" /><line x1="532.7" y1="727.3" x2="611.5" y2="684.5" stroke="#151515" stroke-width="1.7" stroke-linecap="butt" /><line x1="551.7" y1="810.5" x2="609.8" y2="777.2" stroke="#151515" stroke-width="1.7" stroke-linecap="butt" /><line x1="457.3" y1="661.9" x2="484.1" y2="648.1" stroke="#151515" stroke-width="1.7" stroke-linecap="butt" /><polygon points="472.0,634.2 645.3,681.9 645.3,687.1 472.0,639.4" fill="#767676" /><polygon points="472.0,639.4 645.3,687.1 645.3,694.0 472.0,645.5" fill="#1d1d1d" /><polygon points="457.3,648.9 475.5,641.1 477.2,645.5 459.0,653.8" fill="#8a8a8a" /><polygon points="446.0,705.3 636.6,759.0 636.6,764.2 446.0,710.5" fill="#767676" /><polygon points="446.0,710.5 636.6,764.2 636.6,771.1 446.0,717.4" fill="#1d1d1d" /><polygon points="482.4,728.6 624.5,769.4 622.8,776.3 480.7,735.2" fill="url(#gRod)" /><line x1="454.7" y1="748.6" x2="482.4" y2="735.2" stroke="#777" stroke-width="2.2" stroke-linecap="butt" /><line x1="456.4" y1="752.0" x2="480.7" y2="740.4" stroke="#222" stroke-width="1.4" stroke-linecap="butt" /></g><g clip-path="url(#c3)"><path d="M832.9 806.8 L833.3 812.9 Q833.5 814.9 835.7 815.1 L843.7 816.0" stroke="#1a1a1a" stroke-width="3.0" fill="none" stroke-linecap="round" stroke-linejoin="round"/><path d="M850.7 809.4 L845.7 816.9" stroke="#1a1a1a" stroke-width="2.0999999999999996" fill="none" stroke-linecap="round" stroke-linejoin="round"/><path d="M845.2 807.6 L957.9 832.2 L973.2 826.1" stroke="#1a1a1a" stroke-width="3.0" fill="none" stroke-linecap="round" stroke-linejoin="round"/><path d="M845.2 807.6 L957.9 832.2 L973.2 826.1" stroke="#9a9a9a" stroke-width="0.66" fill="none" stroke-linecap="round" stroke-linejoin="round" transform="translate(0,-0.75)"/><path d="M844.7 799.9 L844.7 822.9" stroke="#1a1a1a" stroke-width="3.4499999999999997" fill="none" stroke-linecap="round" stroke-linejoin="round"/><path d="M786.6 835.9 L787.0 842.0 Q787.2 844.0 789.4 844.2 L797.4 845.1" stroke="#1a1a1a" stroke-width="3.0" fill="none" stroke-linecap="round" stroke-linejoin="round"/><path d="M804.4 838.5 L799.4 846.0" stroke="#1a1a1a" stroke-width="2.0999999999999996" fill="none" stroke-linecap="round" stroke-linejoin="round"/><path d="M798.9 836.7 L911.6 861.3 L926.9 855.2" stroke="#1a1a1a" stroke-width="3.0" fill="none" stroke-linecap="round" stroke-linejoin="round"/><path d="M798.9 836.7 L911.6 861.3 L926.9 855.2" stroke="#9a9a9a" stroke-width="0.66" fill="none" stroke-linecap="round" stroke-linejoin="round" transform="translate(0,-0.75)"/><path d="M798.4 829.0 L798.4 852.0" stroke="#1a1a1a" stroke-width="3.4499999999999997" fill="none" stroke-linecap="round" stroke-linejoin="round"/></g><g clip-path="url(#c4)"><polygon points="1095.5,986.1 1184.2,932.0 1283.4,932.0 1283.4,1010.1 1245.1,1029.7" fill="url(#meshC4)" /><line x1="1120.3" y1="985.8" x2="1195.5" y2="939.2" stroke="#151515" stroke-width="1.7" stroke-linecap="butt" /><polygon points="1184.2,934.3 1195.5,937.3 1254.8,965.1 1251.8,968.8 1194.7,941.0" fill="#777" /><path d="M1092.5 993.2 L1279.6 1054.0" stroke="#1c1c1c" stroke-width="1.6" fill="none" stroke-linecap="round" stroke-linejoin="round"/><path d="M1092.5 993.2 L1279.6 1054.0" stroke="#7a7a7a" stroke-width="0.35" fill="none" stroke-linecap="round" stroke-linejoin="round" transform="translate(-0.1,-0.48)"/><path d="M1089.5 996.6 L1279.6 1058.2" stroke="#1c1c1c" stroke-width="1.6" fill="none" stroke-linecap="round" stroke-linejoin="round"/><path d="M1089.5 996.6 L1279.6 1058.2" stroke="#7a7a7a" stroke-width="0.35" fill="none" stroke-linecap="round" stroke-linejoin="round" transform="translate(-0.1,-0.48)"/><polygon points="1247.3,1025.9 1283.4,1034.9 1283.4,1041.7 1245.8,1033.4" fill="#2e2e2e" /><polygon points="1094.8,983.9 1242.8,1027.4 1241.3,1031.9 1093.3,987.9" fill="#585858" /><polygon points="1093.3,987.9 1241.3,1031.9 1240.5,1037.5 1092.5,993.2" fill="#181818" /><polygon points="1241.3,1028.2 1246.6,1029.7 1245.5,1036.4 1240.5,1037.5" fill="#6b5a48" /><path d="M1166.2 1016.2 L1100.1 1053.7 C1096.1 1054.2 1095.1 1057.7 1100.1 1057.7 C1112.1 1055.7 1125.1 1065.5 1139.1 1066.5 L1202.2 1030.4" stroke="#1c1c1c" stroke-width="2.3" fill="none" stroke-linecap="round" stroke-linejoin="round"/><path d="M1166.2 1016.2 L1100.1 1053.7 C1096.1 1054.2 1095.1 1057.7 1100.1 1057.7 C1112.1 1055.7 1125.1 1065.5 1139.1 1066.5 L1202.2 1030.4" stroke="#7a7a7a" stroke-width="0.51" fill="none" stroke-linecap="round" stroke-linejoin="round" transform="translate(-0.1,-0.69)"/><path d="M1232.3 1037.9 L1167.7 1074.8 C1163.7 1075.3 1162.7 1078.8 1167.7 1078.8 C1179.7 1076.8 1191.2 1086.5 1205.2 1087.5 L1271.4 1048.5" stroke="#1c1c1c" stroke-width="2.3" fill="none" stroke-linecap="round" stroke-linejoin="round"/><path d="M1232.3 1037.9 L1167.7 1074.8 C1163.7 1075.3 1162.7 1078.8 1167.7 1078.8 C1179.7 1076.8 1191.2 1086.5 1205.2 1087.5 L1271.4 1048.5" stroke="#7a7a7a" stroke-width="0.51" fill="none" stroke-linecap="round" stroke-linejoin="round" transform="translate(-0.1,-0.69)"/><path d="M1272.9 1066.5 L1227.8 1092.0 C1223.8 1092.5 1222.8 1096.0 1227.8 1096.0 C1239.8 1094.0 1240.8 1100.8 1254.8 1101.8 L1283.4 1085.3" stroke="#1c1c1c" stroke-width="2.3" fill="none" stroke-linecap="round" stroke-linejoin="round"/><path d="M1272.9 1066.5 L1227.8 1092.0 C1223.8 1092.5 1222.8 1096.0 1227.8 1096.0 C1239.8 1094.0 1240.8 1100.8 1254.8 1101.8 L1283.4 1085.3" stroke="#7a7a7a" stroke-width="0.51" fill="none" stroke-linecap="round" stroke-linejoin="round" transform="translate(-0.1,-0.69)"/><path d="M1081.3 1040.2 L1134.6 1009.4" stroke="#1c1c1c" stroke-width="2.3" fill="none" stroke-linecap="round" stroke-linejoin="round"/><path d="M1081.3 1040.2 L1134.6 1009.4" stroke="#7a7a7a" stroke-width="0.51" fill="none" stroke-linecap="round" stroke-linejoin="round" transform="translate(-0.1,-0.69)"/><path d="M1084.3 1006.4 L1102.3 996.6" stroke="#1c1c1c" stroke-width="2.0" fill="none" stroke-linecap="round" stroke-linejoin="round"/><path d="M1084.3 1006.4 L1102.3 996.6" stroke="#7a7a7a" stroke-width="0.44" fill="none" stroke-linecap="round" stroke-linejoin="round" transform="translate(-0.1,-0.60)"/><polygon points="1254.8,1092.8 1269.8,1083.8 1269.8,1088.3 1254.1,1102.6" fill="#2a2a2a" /></g><g clip-path="url(#c5)"><polygon points="1243.8,1336.5 1428.6,1430.4 1428.6,1470.0 1346.5,1470.0 1257.0,1407.7 1243.8,1382.0" fill="#262626" /><polygon points="1243.8,1371.7 1418.3,1458.3 1418.3,1470.0 1346.5,1470.0 1257.0,1407.7 1243.8,1382.0" fill="#212121" /><line x1="1246.7" y1="1371.4" x2="1412.5" y2="1455.6" stroke="#3a3a3a" stroke-width="0.9" stroke-linecap="butt" /><polygon points="1295.1,1274.2 1449.1,1352.7 1449.1,1440.7 1428.6,1431.1 1243.8,1336.8 1243.8,1326.3" fill="url(#gStripTop)" /><line x1="1246.0" y1="1336.8" x2="1428.6" y2="1430.7" stroke="#8a8a8a" stroke-width="0.9" stroke-linecap="butt" /><path d="M1270.67 1327.38 Q1268.0 1326.0 1270.42 1324.23 L1312.48 1293.57 Q1314.9 1291.8 1317.53 1293.25 L1362.87 1318.25 Q1365.5 1319.7 1363.18 1321.6 L1325.32 1352.5 Q1323.0 1354.4 1320.33 1353.02 Z" fill="#242424"/><path d="M1275.65 1326.19 Q1273.4 1325.1 1275.44 1323.66 L1312.86 1297.24 Q1314.9 1295.8 1317.1 1296.99 L1357.5 1318.91 Q1359.7 1320.1 1357.74 1321.65 L1324.96 1347.45 Q1323.0 1349.0 1320.75 1347.91 Z" fill="#454545"/><polygon points="1281.9,1324.1 1296.6,1313.1 1302.8,1317.2 1288.5,1329.2" fill="#0c0c0c" /><polygon points="1309.8,1336.5 1321.5,1327.4 1328.3,1331.8 1316.5,1342.4" fill="#0c0c0c" /><polygon points="1296.6,1313.1 1299.5,1310.9 1303.6,1313.9 1302.8,1317.2" fill="#2a2a2a" /><polygon points="1321.5,1327.4 1324.5,1325.4 1328.9,1328.6 1328.3,1331.8" fill="#2a2a2a" /><path d="M1319.1 1308.6 L1325.1 1303.6 L1336.1 1312.6 C1335.1 1318.6 1324.1 1320.6 1319.1 1308.6 Z" fill="#111"/><path d="M1363.06 1374.58 Q1360.4 1373.2 1362.82 1371.43 L1404.88 1340.77 Q1407.3 1339.0 1409.93 1340.45 L1455.27 1365.45 Q1457.9 1366.9 1455.58 1368.8 L1417.72 1399.8 Q1415.4 1401.7 1412.74 1400.32 Z" fill="#242424"/><path d="M1368.05 1373.39 Q1365.8 1372.3 1367.84 1370.86 L1405.26 1344.44 Q1407.3 1343.0 1409.5 1344.19 L1449.9 1366.11 Q1452.1 1367.3 1450.14 1368.85 L1417.36 1394.65 Q1415.4 1396.2 1413.15 1395.11 Z" fill="#454545"/><polygon points="1374.3,1371.3 1389.0,1360.3 1395.2,1364.4 1380.9,1376.4" fill="#0c0c0c" /><polygon points="1402.2,1383.8 1413.9,1374.7 1420.7,1379.1 1409.0,1389.6" fill="#0c0c0c" /><polygon points="1389.0,1360.3 1391.9,1358.1 1396.0,1361.2 1395.2,1364.4" fill="#2a2a2a" /><polygon points="1413.9,1374.7 1416.9,1372.6 1421.3,1375.8 1420.7,1379.1" fill="#2a2a2a" /><path d="M1411.5 1355.8 L1417.5 1350.8 L1428.5 1359.8 C1427.5 1365.8 1416.5 1367.8 1411.5 1355.8 Z" fill="#111"/></g></g>
</svg>
</body></html>
